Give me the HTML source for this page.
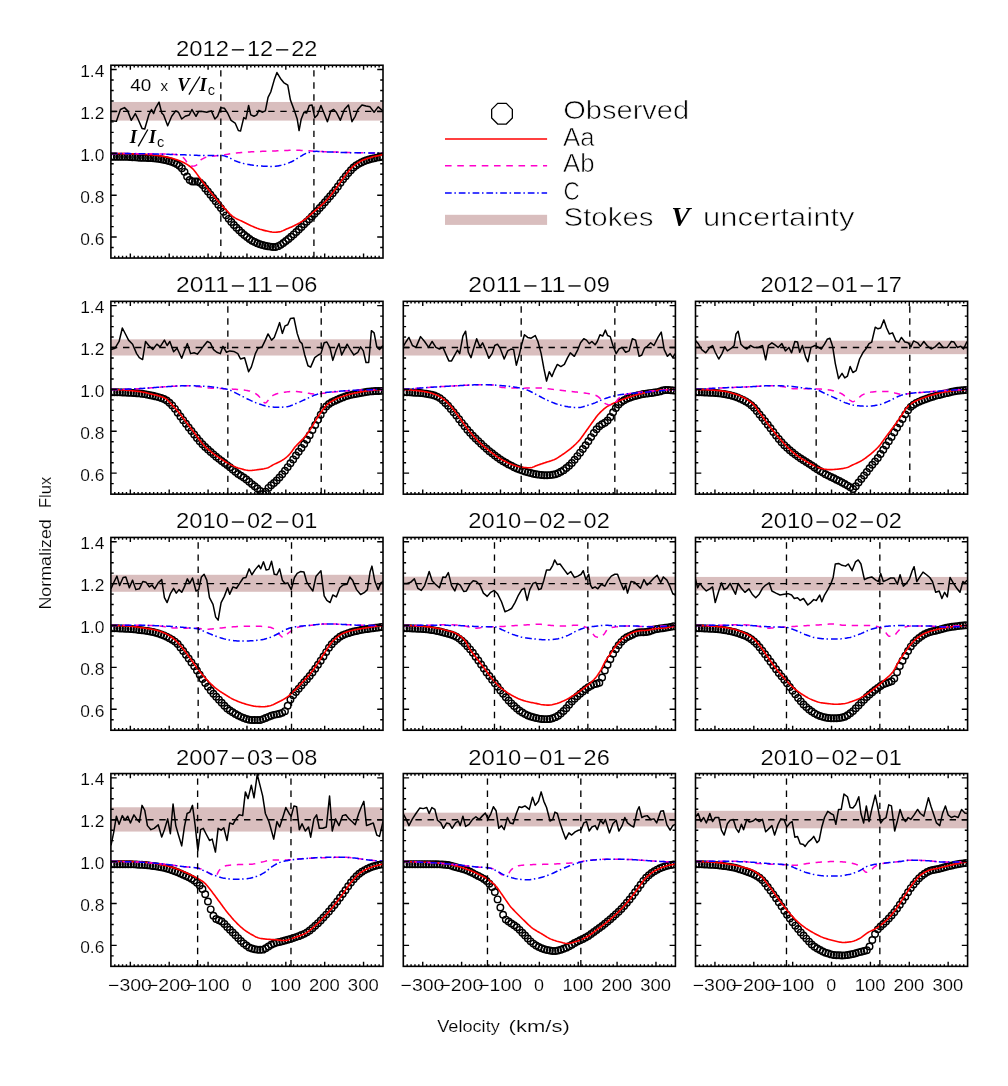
<!DOCTYPE html>
<html><head><meta charset="utf-8"><title>Line profiles</title>
<style>html,body{margin:0;padding:0;background:#fff}svg{display:block;will-change:transform}text{fill:#000}.t16{stroke:#fff;stroke-width:.16px}.t14{stroke:#fff;stroke-width:.08px}.t21{stroke:#fff;stroke-width:.2px}.t26{stroke:#fff;stroke-width:.65px}</style>
</head><body>
<svg width="1008" height="1086" viewBox="0 0 1008 1086">
<rect width="1008" height="1086" fill="#fff"/>
<clipPath id="c00"><rect x="110.9" y="65.25" width="272.1" height="192.8"/></clipPath>
<g clip-path="url(#c00)">
<rect x="110.9" y="101.97" width="272.1" height="18.62" fill="#d9bebe"/>
<g fill="none" stroke="#000" stroke-width="1.45">
<circle cx="111.7" cy="156.75" r="3.25"/>
<circle cx="114.3" cy="156.75" r="3.25"/>
<circle cx="116.9" cy="156.75" r="3.25"/>
<circle cx="119.5" cy="156.75" r="3.25"/>
<circle cx="122.1" cy="156.75" r="3.25"/>
<circle cx="124.7" cy="156.75" r="3.25"/>
<circle cx="127.3" cy="156.81" r="3.25"/>
<circle cx="129.9" cy="156.97" r="3.25"/>
<circle cx="132.5" cy="157.17" r="3.25"/>
<circle cx="135.1" cy="157.37" r="3.25"/>
<circle cx="137.7" cy="157.54" r="3.25"/>
<circle cx="140.3" cy="157.65" r="3.25"/>
<circle cx="142.9" cy="157.74" r="3.25"/>
<circle cx="145.5" cy="157.83" r="3.25"/>
<circle cx="148.1" cy="157.92" r="3.25"/>
<circle cx="150.7" cy="158.05" r="3.25"/>
<circle cx="153.3" cy="158.23" r="3.25"/>
<circle cx="155.9" cy="158.5" r="3.25"/>
<circle cx="158.5" cy="158.85" r="3.25"/>
<circle cx="161.1" cy="159.27" r="3.25"/>
<circle cx="163.7" cy="159.74" r="3.25"/>
<circle cx="166.3" cy="160.27" r="3.25"/>
<circle cx="168.9" cy="160.92" r="3.25"/>
<circle cx="171.5" cy="161.74" r="3.25"/>
<circle cx="174.1" cy="162.74" r="3.25"/>
<circle cx="176.7" cy="163.99" r="3.25"/>
<circle cx="179.3" cy="165.85" r="3.25"/>
<circle cx="181.9" cy="168.29" r="3.25"/>
<circle cx="184.5" cy="171.86" r="3.25"/>
<circle cx="187.1" cy="176.45" r="3.25"/>
<circle cx="189.7" cy="180" r="3.25"/>
<circle cx="192.3" cy="181.42" r="3.25"/>
<circle cx="194.9" cy="181.57" r="3.25"/>
<circle cx="197.5" cy="181.58" r="3.25"/>
<circle cx="200.1" cy="182.77" r="3.25"/>
<circle cx="202.7" cy="185.01" r="3.25"/>
<circle cx="205.3" cy="188.41" r="3.25"/>
<circle cx="207.9" cy="191.58" r="3.25"/>
<circle cx="210.5" cy="194.77" r="3.25"/>
<circle cx="213.1" cy="198.02" r="3.25"/>
<circle cx="215.7" cy="201.32" r="3.25"/>
<circle cx="218.3" cy="204.69" r="3.25"/>
<circle cx="220.9" cy="208.12" r="3.25"/>
<circle cx="223.5" cy="211.7" r="3.25"/>
<circle cx="226.1" cy="215.37" r="3.25"/>
<circle cx="228.7" cy="218.87" r="3.25"/>
<circle cx="231.3" cy="222.03" r="3.25"/>
<circle cx="233.9" cy="224.97" r="3.25"/>
<circle cx="236.5" cy="227.73" r="3.25"/>
<circle cx="239.1" cy="230.31" r="3.25"/>
<circle cx="241.7" cy="232.78" r="3.25"/>
<circle cx="244.3" cy="235.05" r="3.25"/>
<circle cx="246.9" cy="237.09" r="3.25"/>
<circle cx="249.5" cy="238.99" r="3.25"/>
<circle cx="252.1" cy="240.69" r="3.25"/>
<circle cx="254.7" cy="242.08" r="3.25"/>
<circle cx="257.3" cy="243.28" r="3.25"/>
<circle cx="259.9" cy="244.3" r="3.25"/>
<circle cx="262.5" cy="245.09" r="3.25"/>
<circle cx="265.1" cy="245.69" r="3.25"/>
<circle cx="267.7" cy="246.19" r="3.25"/>
<circle cx="270.3" cy="246.62" r="3.25"/>
<circle cx="272.9" cy="247.05" r="3.25"/>
<circle cx="275.5" cy="247" r="3.25"/>
<circle cx="278.1" cy="246.14" r="3.25"/>
<circle cx="280.7" cy="244.87" r="3.25"/>
<circle cx="283.3" cy="243.06" r="3.25"/>
<circle cx="285.9" cy="241.04" r="3.25"/>
<circle cx="288.5" cy="238.99" r="3.25"/>
<circle cx="291.1" cy="236.74" r="3.25"/>
<circle cx="293.7" cy="234.38" r="3.25"/>
<circle cx="296.3" cy="231.97" r="3.25"/>
<circle cx="298.9" cy="229.46" r="3.25"/>
<circle cx="301.5" cy="226.9" r="3.25"/>
<circle cx="304.1" cy="224.34" r="3.25"/>
<circle cx="306.7" cy="221.76" r="3.25"/>
<circle cx="309.3" cy="219.15" r="3.25"/>
<circle cx="311.9" cy="216.47" r="3.25"/>
<circle cx="314.5" cy="213.73" r="3.25"/>
<circle cx="317.1" cy="210.93" r="3.25"/>
<circle cx="319.7" cy="208.08" r="3.25"/>
<circle cx="322.3" cy="205.16" r="3.25"/>
<circle cx="324.9" cy="202.19" r="3.25"/>
<circle cx="327.5" cy="199.2" r="3.25"/>
<circle cx="330.1" cy="196.25" r="3.25"/>
<circle cx="332.7" cy="193.24" r="3.25"/>
<circle cx="335.3" cy="190.05" r="3.25"/>
<circle cx="337.9" cy="186.53" r="3.25"/>
<circle cx="340.5" cy="182.86" r="3.25"/>
<circle cx="343.1" cy="179.37" r="3.25"/>
<circle cx="345.7" cy="176.15" r="3.25"/>
<circle cx="348.3" cy="173.12" r="3.25"/>
<circle cx="350.9" cy="170.17" r="3.25"/>
<circle cx="353.5" cy="167.57" r="3.25"/>
<circle cx="356.1" cy="165.57" r="3.25"/>
<circle cx="358.7" cy="163.87" r="3.25"/>
<circle cx="361.3" cy="162.45" r="3.25"/>
<circle cx="363.9" cy="161.28" r="3.25"/>
<circle cx="366.5" cy="160.26" r="3.25"/>
<circle cx="369.1" cy="159.43" r="3.25"/>
<circle cx="371.7" cy="158.76" r="3.25"/>
<circle cx="374.3" cy="158.15" r="3.25"/>
<circle cx="376.9" cy="157.6" r="3.25"/>
<circle cx="379.5" cy="157.15" r="3.25"/>
<circle cx="382.1" cy="156.82" r="3.25"/>
</g>
<path d="M111 153.51 L112 153.51 L113 153.51 L114 153.52 L115 153.52 L116 153.53 L117 153.54 L118 153.56 L119 153.57 L120 153.58 L121 153.6 L122 153.62 L123 153.64 L124 153.66 L125 153.68 L126 153.71 L127 153.73 L128 153.75 L129 153.78 L130 153.81 L131 153.84 L132 153.86 L133 153.89 L134 153.92 L135 153.95 L136 153.99 L137 154.02 L138 154.05 L139 154.08 L140 154.12 L141 154.16 L142 154.21 L143 154.26 L144 154.32 L145 154.38 L146 154.44 L147 154.51 L148 154.58 L149 154.66 L150 154.74 L151 154.82 L152 154.9 L153 155 L154 155.1 L155 155.21 L156 155.34 L157 155.47 L158 155.61 L159 155.75 L160 155.9 L161 156.06 L162 156.23 L163 156.4 L164 156.57 L165 156.75 L166 156.94 L167 157.14 L168 157.36 L169 157.59 L170 157.83 L171 158.08 L172 158.35 L173 158.62 L174 158.91 L175 159.21 L176 159.52 L177 159.84 L178 160.19 L179 160.56 L180 160.95 L181 161.36 L182 161.8 L183 162.26 L184 162.75 L185 163.28 L186 163.83 L187 164.43 L188 165.07 L189 165.75 L190 166.49 L191 167.27 L192 168.12 L193 169.09 L194 170.21 L195 171.45 L196 172.78 L197 174.15 L198 175.55 L199 176.93 L200 178.27 L201 179.58 L202 180.92 L203 182.27 L204 183.63 L205 184.98 L206 186.31 L207 187.62 L208 188.9 L209 190.16 L210 191.41 L211 192.65 L212 193.88 L213 195.09 L214 196.29 L215 197.48 L216 198.65 L217 199.82 L218 200.98 L219 202.13 L220 203.27 L221 204.39 L222 205.5 L223 206.59 L224 207.65 L225 208.7 L226 209.76 L227 210.84 L228 211.91 L229 212.95 L230 213.96 L231 214.91 L232 215.78 L233 216.56 L234 217.24 L235 217.86 L236 218.42 L237 218.94 L238 219.43 L239 219.9 L240 220.36 L241 220.83 L242 221.3 L243 221.8 L244 222.3 L245 222.81 L246 223.31 L247 223.81 L248 224.29 L249 224.77 L250 225.24 L251 225.69 L252 226.12 L253 226.56 L254 226.99 L255 227.41 L256 227.82 L257 228.22 L258 228.59 L259 228.94 L260 229.27 L261 229.56 L262 229.85 L263 230.12 L264 230.37 L265 230.62 L266 230.85 L267 231.07 L268 231.27 L269 231.47 L270 231.67 L271 231.88 L272 232.07 L273 232.22 L274 232.3 L275 232.29 L276 232.23 L277 232.13 L278 232.01 L279 231.86 L280 231.7 L281 231.44 L282 231.07 L283 230.64 L284 230.17 L285 229.69 L286 229.23 L287 228.81 L288 228.4 L289 227.99 L290 227.58 L291 227.15 L292 226.72 L293 226.27 L294 225.8 L295 225.3 L296 224.79 L297 224.27 L298 223.72 L299 223.16 L300 222.58 L301 221.97 L302 221.35 L303 220.69 L304 220.01 L305 219.29 L306 218.53 L307 217.73 L308 216.9 L309 216.06 L310 215.19 L311 214.32 L312 213.44 L313 212.56 L314 211.69 L315 210.83 L316 209.97 L317 209.12 L318 208.26 L319 207.39 L320 206.52 L321 205.62 L322 204.71 L323 203.78 L324 202.81 L325 201.82 L326 200.78 L327 199.7 L328 198.57 L329 197.4 L330 196.19 L331 194.95 L332 193.68 L333 192.4 L334 191.11 L335 189.81 L336 188.47 L337 187.08 L338 185.66 L339 184.22 L340 182.78 L341 181.35 L342 179.95 L343 178.59 L344 177.28 L345 175.96 L346 174.63 L347 173.3 L348 172.01 L349 170.76 L350 169.57 L351 168.47 L352 167.47 L353 166.57 L354 165.72 L355 164.91 L356 164.14 L357 163.42 L358 162.74 L359 162.1 L360 161.52 L361 161 L362 160.52 L363 160.08 L364 159.67 L365 159.28 L366 158.92 L367 158.58 L368 158.26 L369 157.95 L370 157.65 L371 157.36 L372 157.09 L373 156.83 L374 156.59 L375 156.35 L376 156.12 L377 155.89 L378 155.67 L379 155.45 L380 155.22 L381 155.01 L382 154.79 L383 154.59" fill="none" stroke="#ff0000" stroke-width="1.6" stroke-linejoin="round"/>
<path d="M111 153.51 L112 153.51 L113 153.51 L114 153.51 L115 153.51 L116 153.51 L117 153.51 L118 153.52 L119 153.52 L120 153.52 L121 153.53 L122 153.53 L123 153.53 L124 153.54 L125 153.54 L126 153.55 L127 153.56 L128 153.56 L129 153.57 L130 153.57 L131 153.58 L132 153.59 L133 153.6 L134 153.61 L135 153.61 L136 153.62 L137 153.63 L138 153.64 L139 153.65 L140 153.66 L141 153.67 L142 153.69 L143 153.7 L144 153.71 L145 153.72 L146 153.73 L147 153.75 L148 153.76 L149 153.78 L150 153.79 L151 153.8 L152 153.82 L153 153.83 L154 153.85 L155 153.87 L156 153.88 L157 153.9 L158 153.92 L159 153.93 L160 153.95 L161 153.97 L162 153.99 L163 154.01 L164 154.03 L165 154.05 L166 154.07 L167 154.09 L168 154.12 L169 154.16 L170 154.2 L171 154.24 L172 154.29 L173 154.35 L174 154.42 L175 154.5 L176 154.59 L177 154.69 L178 154.8 L179 154.96 L180 155.33 L181 155.89 L182 156.59 L183 157.38 L184 158.22 L185 159.43 L186 160.96 L187 162.45 L188 163.58 L189 164.5 L190 165.35 L191 165.96 L192 166.19 L193 166.12 L194 165.95 L195 165.69 L196 165.38 L197 164.72 L198 163.56 L199 162.17 L200 160.8 L201 159.73 L202 159.09 L203 158.56 L204 158.07 L205 157.65 L206 157.29 L207 157 L208 156.77 L209 156.6 L210 156.46 L211 156.33 L212 156.22 L213 156.12 L214 156.03 L215 155.95 L216 155.87 L217 155.79 L218 155.7 L219 155.61 L220 155.5 L221 155.37 L222 155.23 L223 155.08 L224 154.91 L225 154.74 L226 154.56 L227 154.38 L228 154.2 L229 154.03 L230 153.86 L231 153.7 L232 153.56 L233 153.44 L234 153.32 L235 153.2 L236 153.08 L237 152.97 L238 152.86 L239 152.75 L240 152.65 L241 152.56 L242 152.47 L243 152.38 L244 152.3 L245 152.22 L246 152.15 L247 152.09 L248 152.03 L249 151.96 L250 151.91 L251 151.85 L252 151.8 L253 151.75 L254 151.7 L255 151.65 L256 151.61 L257 151.56 L258 151.52 L259 151.48 L260 151.43 L261 151.39 L262 151.35 L263 151.31 L264 151.28 L265 151.24 L266 151.2 L267 151.17 L268 151.14 L269 151.1 L270 151.07 L271 151.04 L272 151.01 L273 150.98 L274 150.95 L275 150.92 L276 150.88 L277 150.85 L278 150.82 L279 150.79 L280 150.75 L281 150.71 L282 150.66 L283 150.62 L284 150.58 L285 150.53 L286 150.49 L287 150.45 L288 150.41 L289 150.37 L290 150.34 L291 150.31 L292 150.29 L293 150.28 L294 150.27 L295 150.27 L296 150.28 L297 150.29 L298 150.31 L299 150.33 L300 150.36 L301 150.39 L302 150.42 L303 150.46 L304 150.49 L305 150.53 L306 150.57 L307 150.63 L308 150.7 L309 150.78 L310 150.87 L311 150.96 L312 151.05 L313 151.14 L314 151.22 L315 151.29 L316 151.35 L317 151.39 L318 151.43 L319 151.47 L320 151.51 L321 151.54 L322 151.58 L323 151.61 L324 151.64 L325 151.67 L326 151.7 L327 151.73 L328 151.75 L329 151.78 L330 151.81 L331 151.85 L332 151.88 L333 151.92 L334 151.95 L335 151.99 L336 152.03 L337 152.08 L338 152.12 L339 152.17 L340 152.21 L341 152.26 L342 152.3 L343 152.34 L344 152.39 L345 152.43 L346 152.47 L347 152.51 L348 152.55 L349 152.58 L350 152.61 L351 152.64 L352 152.66 L353 152.68 L354 152.7 L355 152.72 L356 152.73 L357 152.75 L358 152.76 L359 152.77 L360 152.79 L361 152.8 L362 152.81 L363 152.83 L364 152.84 L365 152.85 L366 152.86 L367 152.87 L368 152.88 L369 152.89 L370 152.9 L371 152.91 L372 152.92 L373 152.93 L374 152.94 L375 152.94 L376 152.95 L377 152.95 L378 152.96 L379 152.96 L380 152.96 L381 152.97 L382 152.97 L383 152.97" fill="none" stroke="#ff00cc" stroke-width="1.5" stroke-dasharray="6.4 5.7"/>
<path d="M111 153.51 L112 153.51 L113 153.51 L114 153.51 L115 153.51 L116 153.52 L117 153.52 L118 153.52 L119 153.53 L120 153.54 L121 153.54 L122 153.55 L123 153.56 L124 153.56 L125 153.57 L126 153.58 L127 153.59 L128 153.6 L129 153.61 L130 153.62 L131 153.64 L132 153.65 L133 153.66 L134 153.67 L135 153.69 L136 153.7 L137 153.72 L138 153.73 L139 153.75 L140 153.76 L141 153.78 L142 153.8 L143 153.81 L144 153.83 L145 153.85 L146 153.87 L147 153.89 L148 153.91 L149 153.92 L150 153.94 L151 153.96 L152 153.98 L153 154 L154 154.03 L155 154.05 L156 154.07 L157 154.09 L158 154.11 L159 154.13 L160 154.15 L161 154.18 L162 154.2 L163 154.22 L164 154.24 L165 154.27 L166 154.29 L167 154.31 L168 154.34 L169 154.36 L170 154.38 L171 154.41 L172 154.43 L173 154.46 L174 154.48 L175 154.5 L176 154.53 L177 154.55 L178 154.58 L179 154.6 L180 154.63 L181 154.67 L182 154.71 L183 154.75 L184 154.79 L185 154.84 L186 154.89 L187 154.94 L188 154.99 L189 155.04 L190 155.09 L191 155.14 L192 155.19 L193 155.23 L194 155.27 L195 155.31 L196 155.34 L197 155.36 L198 155.38 L199 155.39 L200 155.4 L201 155.4 L202 155.4 L203 155.4 L204 155.4 L205 155.4 L206 155.4 L207 155.4 L208 155.4 L209 155.4 L210 155.4 L211 155.4 L212 155.4 L213 155.4 L214 155.4 L215 155.4 L216 155.4 L217 155.4 L218 155.4 L219 155.4 L220 155.4 L221 155.4 L222 155.47 L223 155.63 L224 155.86 L225 156.13 L226 156.43 L227 156.74 L228 157.09 L229 157.55 L230 158.07 L231 158.64 L232 159.22 L233 159.79 L234 160.3 L235 160.74 L236 161.12 L237 161.49 L238 161.84 L239 162.18 L240 162.5 L241 162.81 L242 163.1 L243 163.37 L244 163.62 L245 163.84 L246 164.05 L247 164.24 L248 164.42 L249 164.6 L250 164.78 L251 164.94 L252 165.1 L253 165.25 L254 165.38 L255 165.51 L256 165.63 L257 165.73 L258 165.82 L259 165.89 L260 165.96 L261 166.02 L262 166.08 L263 166.14 L264 166.19 L265 166.24 L266 166.29 L267 166.33 L268 166.37 L269 166.4 L270 166.43 L271 166.45 L272 166.46 L273 166.46 L274 166.43 L275 166.36 L276 166.25 L277 166.1 L278 165.94 L279 165.76 L280 165.57 L281 165.38 L282 165.17 L283 164.92 L284 164.64 L285 164.33 L286 163.98 L287 163.62 L288 163.23 L289 162.82 L290 162.39 L291 161.96 L292 161.51 L293 161 L294 160.43 L295 159.82 L296 159.17 L297 158.52 L298 157.87 L299 157.25 L300 156.69 L301 156.12 L302 155.54 L303 154.95 L304 154.39 L305 153.86 L306 153.39 L307 153 L308 152.69 L309 152.45 L310 152.2 L311 151.98 L312 151.78 L313 151.6 L314 151.47 L315 151.38 L316 151.35 L317 151.36 L318 151.38 L319 151.42 L320 151.48 L321 151.54 L322 151.6 L323 151.67 L324 151.73 L325 151.8 L326 151.85 L327 151.89 L328 151.93 L329 151.97 L330 152.01 L331 152.05 L332 152.09 L333 152.12 L334 152.16 L335 152.19 L336 152.23 L337 152.27 L338 152.3 L339 152.33 L340 152.37 L341 152.4 L342 152.43 L343 152.46 L344 152.49 L345 152.51 L346 152.54 L347 152.56 L348 152.59 L349 152.61 L350 152.63 L351 152.65 L352 152.67 L353 152.69 L354 152.7 L355 152.71 L356 152.73 L357 152.74 L358 152.76 L359 152.77 L360 152.78 L361 152.8 L362 152.81 L363 152.82 L364 152.84 L365 152.85 L366 152.86 L367 152.87 L368 152.88 L369 152.89 L370 152.9 L371 152.91 L372 152.92 L373 152.93 L374 152.93 L375 152.94 L376 152.95 L377 152.95 L378 152.96 L379 152.96 L380 152.96 L381 152.97 L382 152.97 L383 152.97" fill="none" stroke="#0000ff" stroke-width="1.5" stroke-dasharray="6.7 2.6 1.5 3"/>
<path d="M111 120.86 L116.4 121.13 L120.44 109.52 L124.49 107.63 L127.73 110.87 L131.24 120.32 L135.29 113.57 L137.98 118.97 L142.03 128.41 L144.73 128.95 L148.78 114.92 L151.48 109.52 L153.63 113.57 L155.52 108.17 L159.03 102.24 L161.73 113.03 L163.62 114.92 L167.67 125.71 L171.71 116.27 L175.76 110.87 L178.46 112.22 L181.7 118.97 L185.21 116.27 L189.25 114.92 L191.95 109.52 L196 116.27 L198.7 111.41 L202.75 111.41 L206.79 112.22 L211.38 110.87 L214.89 118.97 L217.59 116.27 L220.83 107.63 L224.33 108.17 L227.57 113.03 L231.08 120.32 L235.13 123.02 L238.37 130.57 L240.52 131.11 L243.76 117.62 L245.92 118.97 L248.62 105.48 L250.78 114.92 L254.02 116.27 L256.71 114.92 L258.87 110.33 L262.11 112.22 L265.35 110.87 L268.05 97.38 L270.75 91.98 L274.25 79.84 L276.95 72.56 L280.46 78.49 L283.7 82.54 L287.75 85.24 L290.44 100.08 L294.49 110.87 L297.19 118.97 L299.08 130.57 L301.24 118.97 L303.94 112.22 L306.63 113.03 L309.33 105.48 L312.03 104.94 L314.73 117.62 L317.43 114.92 L320.94 105.48 L324.17 113.57 L327.41 121.67 L330.92 110.87 L333.62 109.52 L336.32 112.22 L340.37 120.32 L344.41 109.52 L348.46 104.94 L351.97 121.67 L355.21 116.27 L357.9 109.52 L361.95 104.94 L366 106.02 L370.05 106.83 L374.1 112.22 L378.14 106.83 L383 110.87" fill="none" stroke="#000" stroke-width="1.5" stroke-linejoin="round"/>
<path d="M110.9 111.43 H383" stroke="#000" stroke-width="1.35" stroke-dasharray="6.4 5.7" fill="none"/>
<path d="M220.83 258.05 V65.25" stroke="#000" stroke-width="1.35" stroke-dasharray="6.4 5.7" fill="none"/>
<path d="M313.92 258.05 V65.25" stroke="#000" stroke-width="1.35" stroke-dasharray="6.4 5.7" fill="none"/>
</g>
<path d="M114.79 258.05 v-2.2 M114.79 65.25 v2.2 M118.67 258.05 v-2.2 M118.67 65.25 v2.2 M122.56 258.05 v-2.2 M122.56 65.25 v2.2 M126.45 258.05 v-2.2 M126.45 65.25 v2.2 M130.34 258.05 v-4.6 M130.34 65.25 v4.6 M134.22 258.05 v-2.2 M134.22 65.25 v2.2 M138.11 258.05 v-2.2 M138.11 65.25 v2.2 M142 258.05 v-2.2 M142 65.25 v2.2 M145.88 258.05 v-2.2 M145.88 65.25 v2.2 M149.77 258.05 v-2.2 M149.77 65.25 v2.2 M153.66 258.05 v-2.2 M153.66 65.25 v2.2 M157.55 258.05 v-2.2 M157.55 65.25 v2.2 M161.43 258.05 v-2.2 M161.43 65.25 v2.2 M165.32 258.05 v-2.2 M165.32 65.25 v2.2 M169.21 258.05 v-4.6 M169.21 65.25 v4.6 M173.09 258.05 v-2.2 M173.09 65.25 v2.2 M176.98 258.05 v-2.2 M176.98 65.25 v2.2 M180.87 258.05 v-2.2 M180.87 65.25 v2.2 M184.76 258.05 v-2.2 M184.76 65.25 v2.2 M188.64 258.05 v-2.2 M188.64 65.25 v2.2 M192.53 258.05 v-2.2 M192.53 65.25 v2.2 M196.42 258.05 v-2.2 M196.42 65.25 v2.2 M200.3 258.05 v-2.2 M200.3 65.25 v2.2 M204.19 258.05 v-2.2 M204.19 65.25 v2.2 M208.08 258.05 v-4.6 M208.08 65.25 v4.6 M211.97 258.05 v-2.2 M211.97 65.25 v2.2 M215.85 258.05 v-2.2 M215.85 65.25 v2.2 M219.74 258.05 v-2.2 M219.74 65.25 v2.2 M223.63 258.05 v-2.2 M223.63 65.25 v2.2 M227.51 258.05 v-2.2 M227.51 65.25 v2.2 M231.4 258.05 v-2.2 M231.4 65.25 v2.2 M235.29 258.05 v-2.2 M235.29 65.25 v2.2 M239.18 258.05 v-2.2 M239.18 65.25 v2.2 M243.06 258.05 v-2.2 M243.06 65.25 v2.2 M246.95 258.05 v-4.6 M246.95 65.25 v4.6 M250.84 258.05 v-2.2 M250.84 65.25 v2.2 M254.72 258.05 v-2.2 M254.72 65.25 v2.2 M258.61 258.05 v-2.2 M258.61 65.25 v2.2 M262.5 258.05 v-2.2 M262.5 65.25 v2.2 M266.39 258.05 v-2.2 M266.39 65.25 v2.2 M270.27 258.05 v-2.2 M270.27 65.25 v2.2 M274.16 258.05 v-2.2 M274.16 65.25 v2.2 M278.05 258.05 v-2.2 M278.05 65.25 v2.2 M281.93 258.05 v-2.2 M281.93 65.25 v2.2 M285.82 258.05 v-4.6 M285.82 65.25 v4.6 M289.71 258.05 v-2.2 M289.71 65.25 v2.2 M293.6 258.05 v-2.2 M293.6 65.25 v2.2 M297.48 258.05 v-2.2 M297.48 65.25 v2.2 M301.37 258.05 v-2.2 M301.37 65.25 v2.2 M305.26 258.05 v-2.2 M305.26 65.25 v2.2 M309.14 258.05 v-2.2 M309.14 65.25 v2.2 M313.03 258.05 v-2.2 M313.03 65.25 v2.2 M316.92 258.05 v-2.2 M316.92 65.25 v2.2 M320.81 258.05 v-2.2 M320.81 65.25 v2.2 M324.69 258.05 v-4.6 M324.69 65.25 v4.6 M328.58 258.05 v-2.2 M328.58 65.25 v2.2 M332.47 258.05 v-2.2 M332.47 65.25 v2.2 M336.35 258.05 v-2.2 M336.35 65.25 v2.2 M340.24 258.05 v-2.2 M340.24 65.25 v2.2 M344.13 258.05 v-2.2 M344.13 65.25 v2.2 M348.02 258.05 v-2.2 M348.02 65.25 v2.2 M351.9 258.05 v-2.2 M351.9 65.25 v2.2 M355.79 258.05 v-2.2 M355.79 65.25 v2.2 M359.68 258.05 v-2.2 M359.68 65.25 v2.2 M363.56 258.05 v-4.6 M363.56 65.25 v4.6 M367.45 258.05 v-2.2 M367.45 65.25 v2.2 M371.34 258.05 v-2.2 M371.34 65.25 v2.2 M375.23 258.05 v-2.2 M375.23 65.25 v2.2 M379.11 258.05 v-2.2 M379.11 65.25 v2.2 M110.9 247.54 h2.8 M383 247.54 h-2.8 M110.9 237.07 h5.8 M383 237.07 h-5.8 M110.9 226.6 h2.8 M383 226.6 h-2.8 M110.9 216.13 h2.8 M383 216.13 h-2.8 M110.9 205.66 h2.8 M383 205.66 h-2.8 M110.9 195.19 h5.8 M383 195.19 h-5.8 M110.9 184.72 h2.8 M383 184.72 h-2.8 M110.9 174.25 h2.8 M383 174.25 h-2.8 M110.9 163.78 h2.8 M383 163.78 h-2.8 M110.9 153.31 h5.8 M383 153.31 h-5.8 M110.9 142.84 h2.8 M383 142.84 h-2.8 M110.9 132.37 h2.8 M383 132.37 h-2.8 M110.9 121.9 h2.8 M383 121.9 h-2.8 M110.9 111.43 h5.8 M383 111.43 h-5.8 M110.9 100.96 h2.8 M383 100.96 h-2.8 M110.9 90.49 h2.8 M383 90.49 h-2.8 M110.9 80.02 h2.8 M383 80.02 h-2.8 M110.9 69.55 h5.8 M383 69.55 h-5.8" stroke="#000" stroke-width="1.4" fill="none"/>
<rect x="110.9" y="65.25" width="272.1" height="192.8" fill="none" stroke="#000" stroke-width="1.6"/>
<text x="175.95" y="56.25" font-family="Liberation Sans, sans-serif" class="t21" font-size="21.2" textLength="53" lengthAdjust="spacingAndGlyphs">2012</text>
<path d="M231.85 49.85 h12.2" stroke="#000" stroke-width="1.35"/>
<text x="246.95" y="56.25" font-family="Liberation Sans, sans-serif" class="t21" font-size="21.2" textLength="26.2" lengthAdjust="spacingAndGlyphs">12</text>
<path d="M276.05 49.85 h12.2" stroke="#000" stroke-width="1.35"/>
<text x="291.15" y="56.25" font-family="Liberation Sans, sans-serif" class="t21" font-size="21.2" textLength="26.2" lengthAdjust="spacingAndGlyphs">22</text>
<text x="104.4" y="244.67" font-family="Liberation Sans, sans-serif" class="t16" font-size="16.8" text-anchor="end" textLength="24.2" lengthAdjust="spacingAndGlyphs">0.6</text>
<text x="104.4" y="202.79" font-family="Liberation Sans, sans-serif" class="t16" font-size="16.8" text-anchor="end" textLength="24.2" lengthAdjust="spacingAndGlyphs">0.8</text>
<text x="104.4" y="160.91" font-family="Liberation Sans, sans-serif" class="t16" font-size="16.8" text-anchor="end" textLength="24.2" lengthAdjust="spacingAndGlyphs">1.0</text>
<text x="104.4" y="119.03" font-family="Liberation Sans, sans-serif" class="t16" font-size="16.8" text-anchor="end" textLength="24.2" lengthAdjust="spacingAndGlyphs">1.2</text>
<text x="104.4" y="77.15" font-family="Liberation Sans, sans-serif" class="t16" font-size="16.8" text-anchor="end" textLength="24.2" lengthAdjust="spacingAndGlyphs">1.4</text>
<clipPath id="c10"><rect x="110.9" y="301.35" width="272.1" height="192.8"/></clipPath>
<g clip-path="url(#c10)">
<rect x="110.9" y="339.32" width="272.1" height="16.19" fill="#d9bebe"/>
<g fill="none" stroke="#000" stroke-width="1.45">
<circle cx="111.7" cy="392.21" r="3.25"/>
<circle cx="114.45" cy="392.23" r="3.25"/>
<circle cx="117.2" cy="392.28" r="3.25"/>
<circle cx="119.95" cy="392.35" r="3.25"/>
<circle cx="122.7" cy="392.44" r="3.25"/>
<circle cx="125.45" cy="392.56" r="3.25"/>
<circle cx="128.2" cy="392.69" r="3.25"/>
<circle cx="130.95" cy="392.84" r="3.25"/>
<circle cx="133.7" cy="393" r="3.25"/>
<circle cx="136.45" cy="393.18" r="3.25"/>
<circle cx="139.2" cy="393.38" r="3.25"/>
<circle cx="141.95" cy="393.7" r="3.25"/>
<circle cx="144.7" cy="394.12" r="3.25"/>
<circle cx="147.45" cy="394.63" r="3.25"/>
<circle cx="150.2" cy="395.18" r="3.25"/>
<circle cx="152.95" cy="395.76" r="3.25"/>
<circle cx="155.7" cy="396.38" r="3.25"/>
<circle cx="158.45" cy="397.11" r="3.25"/>
<circle cx="161.2" cy="397.98" r="3.25"/>
<circle cx="163.95" cy="399.04" r="3.25"/>
<circle cx="166.7" cy="400.49" r="3.25"/>
<circle cx="169.45" cy="402.71" r="3.25"/>
<circle cx="172.2" cy="405.39" r="3.25"/>
<circle cx="174.95" cy="408.87" r="3.25"/>
<circle cx="177.7" cy="412.76" r="3.25"/>
<circle cx="180.45" cy="416.45" r="3.25"/>
<circle cx="183.2" cy="420.13" r="3.25"/>
<circle cx="185.95" cy="423.78" r="3.25"/>
<circle cx="188.7" cy="427.43" r="3.25"/>
<circle cx="191.45" cy="431.05" r="3.25"/>
<circle cx="194.2" cy="434.55" r="3.25"/>
<circle cx="196.95" cy="437.93" r="3.25"/>
<circle cx="199.7" cy="441.2" r="3.25"/>
<circle cx="202.45" cy="444.25" r="3.25"/>
<circle cx="205.2" cy="447" r="3.25"/>
<circle cx="207.95" cy="449.54" r="3.25"/>
<circle cx="210.7" cy="451.99" r="3.25"/>
<circle cx="213.45" cy="454.36" r="3.25"/>
<circle cx="216.2" cy="456.65" r="3.25"/>
<circle cx="218.95" cy="458.87" r="3.25"/>
<circle cx="221.7" cy="460.98" r="3.25"/>
<circle cx="224.45" cy="463.03" r="3.25"/>
<circle cx="227.2" cy="465.11" r="3.25"/>
<circle cx="229.95" cy="467.3" r="3.25"/>
<circle cx="232.7" cy="469.61" r="3.25"/>
<circle cx="235.45" cy="471.87" r="3.25"/>
<circle cx="238.2" cy="473.97" r="3.25"/>
<circle cx="240.95" cy="475.8" r="3.25"/>
<circle cx="243.7" cy="477.55" r="3.25"/>
<circle cx="246.45" cy="479.5" r="3.25"/>
<circle cx="249.2" cy="481.8" r="3.25"/>
<circle cx="251.95" cy="484.1" r="3.25"/>
<circle cx="254.7" cy="486.27" r="3.25"/>
<circle cx="257.45" cy="488.49" r="3.25"/>
<circle cx="260.2" cy="490.98" r="3.25"/>
<circle cx="262.95" cy="493.9" r="3.25"/>
<circle cx="265.7" cy="491.8" r="3.25"/>
<circle cx="268.45" cy="487.88" r="3.25"/>
<circle cx="271.2" cy="485.27" r="3.25"/>
<circle cx="273.95" cy="482.92" r="3.25"/>
<circle cx="276.7" cy="480.43" r="3.25"/>
<circle cx="279.45" cy="477.5" r="3.25"/>
<circle cx="282.2" cy="474.21" r="3.25"/>
<circle cx="284.95" cy="470.71" r="3.25"/>
<circle cx="287.7" cy="467.12" r="3.25"/>
<circle cx="290.45" cy="463.31" r="3.25"/>
<circle cx="293.2" cy="459.39" r="3.25"/>
<circle cx="295.95" cy="455.53" r="3.25"/>
<circle cx="298.7" cy="451.77" r="3.25"/>
<circle cx="301.45" cy="447.98" r="3.25"/>
<circle cx="304.2" cy="444.03" r="3.25"/>
<circle cx="306.95" cy="439.83" r="3.25"/>
<circle cx="309.7" cy="435.28" r="3.25"/>
<circle cx="312.45" cy="430.12" r="3.25"/>
<circle cx="315.2" cy="425.04" r="3.25"/>
<circle cx="317.95" cy="419.85" r="3.25"/>
<circle cx="320.7" cy="414.65" r="3.25"/>
<circle cx="323.45" cy="409.94" r="3.25"/>
<circle cx="326.2" cy="406.55" r="3.25"/>
<circle cx="328.95" cy="403.99" r="3.25"/>
<circle cx="331.7" cy="402.24" r="3.25"/>
<circle cx="334.45" cy="400.88" r="3.25"/>
<circle cx="337.2" cy="399.69" r="3.25"/>
<circle cx="339.95" cy="398.51" r="3.25"/>
<circle cx="342.7" cy="397.38" r="3.25"/>
<circle cx="345.45" cy="396.36" r="3.25"/>
<circle cx="348.2" cy="395.51" r="3.25"/>
<circle cx="350.95" cy="394.85" r="3.25"/>
<circle cx="353.7" cy="394.29" r="3.25"/>
<circle cx="356.45" cy="393.79" r="3.25"/>
<circle cx="359.2" cy="393.3" r="3.25"/>
<circle cx="361.95" cy="392.74" r="3.25"/>
<circle cx="364.7" cy="392.17" r="3.25"/>
<circle cx="367.45" cy="391.69" r="3.25"/>
<circle cx="370.2" cy="391.39" r="3.25"/>
<circle cx="372.95" cy="391.21" r="3.25"/>
<circle cx="375.7" cy="391.06" r="3.25"/>
<circle cx="378.45" cy="390.94" r="3.25"/>
<circle cx="381.2" cy="390.87" r="3.25"/>
</g>
<path d="M111 389.51 L112 389.51 L113 389.52 L114 389.54 L115 389.56 L116 389.6 L117 389.63 L118 389.68 L119 389.72 L120 389.78 L121 389.84 L122 389.9 L123 389.97 L124 390.05 L125 390.12 L126 390.2 L127 390.29 L128 390.38 L129 390.47 L130 390.56 L131 390.66 L132 390.76 L133 390.86 L134 390.97 L135 391.07 L136 391.18 L137 391.29 L138 391.4 L139 391.52 L140 391.66 L141 391.81 L142 391.99 L143 392.17 L144 392.37 L145 392.58 L146 392.8 L147 393.03 L148 393.26 L149 393.5 L150 393.74 L151 393.98 L152 394.22 L153 394.45 L154 394.68 L155 394.92 L156 395.15 L157 395.4 L158 395.66 L159 395.93 L160 396.23 L161 396.55 L162 396.9 L163 397.28 L164 397.7 L165 398.16 L166 398.75 L167 399.53 L168 400.46 L169 401.49 L170 402.59 L171 403.72 L172 404.84 L173 405.9 L174 406.93 L175 407.98 L176 409.06 L177 410.2 L178 411.4 L179 412.65 L180 413.94 L181 415.27 L182 416.61 L183 417.96 L184 419.3 L185 420.64 L186 421.95 L187 423.25 L188 424.56 L189 425.86 L190 427.16 L191 428.47 L192 429.77 L193 431.07 L194 432.37 L195 433.68 L196 435.02 L197 436.39 L198 437.77 L199 439.14 L200 440.49 L201 441.8 L202 443.04 L203 444.21 L204 445.3 L205 446.33 L206 447.31 L207 448.26 L208 449.18 L209 450.06 L210 450.92 L211 451.75 L212 452.56 L213 453.34 L214 454.1 L215 454.84 L216 455.55 L217 456.24 L218 456.92 L219 457.58 L220 458.24 L221 458.89 L222 459.54 L223 460.19 L224 460.84 L225 461.48 L226 462.1 L227 462.71 L228 463.3 L229 463.86 L230 464.39 L231 464.89 L232 465.38 L233 465.87 L234 466.34 L235 466.78 L236 467.21 L237 467.59 L238 467.95 L239 468.25 L240 468.53 L241 468.81 L242 469.09 L243 469.36 L244 469.62 L245 469.85 L246 470.05 L247 470.22 L248 470.35 L249 470.43 L250 470.46 L251 470.44 L252 470.38 L253 470.29 L254 470.18 L255 470.06 L256 469.92 L257 469.79 L258 469.66 L259 469.53 L260 469.4 L261 469.27 L262 469.12 L263 468.96 L264 468.78 L265 468.57 L266 468.34 L267 468.05 L268 467.66 L269 467.18 L270 466.65 L271 466.08 L272 465.49 L273 464.92 L274 464.38 L275 463.89 L276 463.42 L277 462.95 L278 462.49 L279 462.02 L280 461.52 L281 460.99 L282 460.42 L283 459.79 L284 459.12 L285 458.39 L286 457.6 L287 456.76 L288 455.86 L289 454.9 L290 453.82 L291 452.55 L292 451.17 L293 449.75 L294 448.36 L295 447.07 L296 445.93 L297 444.86 L298 443.84 L299 442.87 L300 441.9 L301 440.93 L302 439.93 L303 438.89 L304 437.78 L305 436.6 L306 435.36 L307 434.08 L308 432.74 L309 431.35 L310 429.92 L311 428.42 L312 426.79 L313 425.06 L314 423.28 L315 421.53 L316 419.86 L317 418.27 L318 416.71 L319 415.19 L320 413.72 L321 412.29 L322 410.91 L323 409.53 L324 408.17 L325 406.89 L326 405.74 L327 404.78 L328 403.93 L329 403.14 L330 402.41 L331 401.73 L332 401.1 L333 400.52 L334 399.98 L335 399.48 L336 399 L337 398.56 L338 398.13 L339 397.73 L340 397.35 L341 396.99 L342 396.64 L343 396.31 L344 395.99 L345 395.68 L346 395.37 L347 395.08 L348 394.8 L349 394.52 L350 394.25 L351 394 L352 393.75 L353 393.51 L354 393.28 L355 393.06 L356 392.86 L357 392.66 L358 392.47 L359 392.28 L360 392.09 L361 391.91 L362 391.74 L363 391.57 L364 391.41 L365 391.25 L366 391.1 L367 390.96 L368 390.83 L369 390.71 L370 390.59 L371 390.48 L372 390.38 L373 390.28 L374 390.18 L375 390.08 L376 389.99 L377 389.9 L378 389.82 L379 389.75 L380 389.68 L381 389.61 L382 389.56 L383 389.51" fill="none" stroke="#ff0000" stroke-width="1.6" stroke-linejoin="round"/>
<path d="M111 389.51 L112 389.5 L113 389.48 L114 389.47 L115 389.45 L116 389.43 L117 389.41 L118 389.39 L119 389.37 L120 389.34 L121 389.32 L122 389.29 L123 389.26 L124 389.23 L125 389.19 L126 389.16 L127 389.13 L128 389.09 L129 389.06 L130 389.02 L131 388.98 L132 388.94 L133 388.9 L134 388.86 L135 388.82 L136 388.78 L137 388.74 L138 388.7 L139 388.65 L140 388.6 L141 388.55 L142 388.49 L143 388.43 L144 388.37 L145 388.3 L146 388.23 L147 388.16 L148 388.08 L149 388 L150 387.93 L151 387.85 L152 387.77 L153 387.69 L154 387.6 L155 387.52 L156 387.44 L157 387.37 L158 387.29 L159 387.21 L160 387.14 L161 387.07 L162 387 L163 386.93 L164 386.87 L165 386.81 L166 386.75 L167 386.69 L168 386.62 L169 386.56 L170 386.49 L171 386.42 L172 386.36 L173 386.29 L174 386.22 L175 386.16 L176 386.1 L177 386.04 L178 385.99 L179 385.93 L180 385.89 L181 385.85 L182 385.81 L183 385.78 L184 385.76 L185 385.74 L186 385.73 L187 385.73 L188 385.75 L189 385.79 L190 385.84 L191 385.91 L192 385.99 L193 386.08 L194 386.17 L195 386.27 L196 386.38 L197 386.49 L198 386.6 L199 386.7 L200 386.8 L201 386.91 L202 387.04 L203 387.17 L204 387.32 L205 387.47 L206 387.61 L207 387.76 L208 387.89 L209 388 L210 388.1 L211 388.17 L212 388.23 L213 388.28 L214 388.32 L215 388.36 L216 388.4 L217 388.43 L218 388.47 L219 388.5 L220 388.53 L221 388.56 L222 388.6 L223 388.64 L224 388.68 L225 388.73 L226 388.78 L227 388.83 L228 388.88 L229 388.93 L230 388.98 L231 389.04 L232 389.1 L233 389.16 L234 389.22 L235 389.29 L236 389.36 L237 389.44 L238 389.52 L239 389.61 L240 389.7 L241 389.79 L242 389.89 L243 390 L244 390.11 L245 390.24 L246 390.38 L247 390.53 L248 390.7 L249 390.89 L250 391.09 L251 391.32 L252 391.6 L253 392 L254 392.52 L255 393.13 L256 393.83 L257 394.59 L258 395.39 L259 396.4 L260 397.68 L261 399.02 L262 400.19 L263 401.26 L264 402.31 L265 402.95 L266 402.78 L267 401.81 L268 400.51 L269 399.35 L270 398.24 L271 397.1 L272 396.09 L273 395.39 L274 394.9 L275 394.45 L276 394.06 L277 393.71 L278 393.4 L279 393.14 L280 392.93 L281 392.75 L282 392.59 L283 392.43 L284 392.28 L285 392.14 L286 392.01 L287 391.88 L288 391.77 L289 391.67 L290 391.59 L291 391.51 L292 391.46 L293 391.42 L294 391.4 L295 391.4 L296 391.45 L297 391.53 L298 391.64 L299 391.77 L300 391.92 L301 392.08 L302 392.25 L303 392.41 L304 392.57 L305 392.71 L306 392.84 L307 392.99 L308 393.15 L309 393.32 L310 393.48 L311 393.64 L312 393.78 L313 393.91 L314 394 L315 394.07 L316 394.1 L317 394.08 L318 394.01 L319 393.92 L320 393.79 L321 393.65 L322 393.49 L323 393.32 L324 393.16 L325 393 L326 392.85 L327 392.73 L328 392.62 L329 392.51 L330 392.4 L331 392.29 L332 392.18 L333 392.08 L334 391.97 L335 391.87 L336 391.77 L337 391.67 L338 391.57 L339 391.48 L340 391.39 L341 391.3 L342 391.21 L343 391.13 L344 391.05 L345 390.97 L346 390.89 L347 390.81 L348 390.73 L349 390.66 L350 390.58 L351 390.51 L352 390.44 L353 390.37 L354 390.31 L355 390.25 L356 390.19 L357 390.14 L358 390.1 L359 390.06 L360 390.02 L361 389.99 L362 389.95 L363 389.92 L364 389.89 L365 389.85 L366 389.82 L367 389.79 L368 389.76 L369 389.73 L370 389.7 L371 389.68 L372 389.65 L373 389.63 L374 389.61 L375 389.59 L376 389.57 L377 389.55 L378 389.54 L379 389.53 L380 389.52 L381 389.51 L382 389.51 L383 389.51" fill="none" stroke="#ff00cc" stroke-width="1.5" stroke-dasharray="6.4 5.7"/>
<path d="M111 389.51 L112 389.5 L113 389.48 L114 389.47 L115 389.45 L116 389.43 L117 389.41 L118 389.39 L119 389.37 L120 389.34 L121 389.32 L122 389.29 L123 389.26 L124 389.23 L125 389.19 L126 389.16 L127 389.13 L128 389.09 L129 389.06 L130 389.02 L131 388.98 L132 388.94 L133 388.9 L134 388.86 L135 388.82 L136 388.78 L137 388.74 L138 388.7 L139 388.65 L140 388.6 L141 388.55 L142 388.49 L143 388.43 L144 388.37 L145 388.3 L146 388.23 L147 388.16 L148 388.08 L149 388 L150 387.93 L151 387.85 L152 387.77 L153 387.69 L154 387.6 L155 387.52 L156 387.44 L157 387.37 L158 387.29 L159 387.21 L160 387.14 L161 387.07 L162 387 L163 386.93 L164 386.87 L165 386.81 L166 386.75 L167 386.69 L168 386.62 L169 386.56 L170 386.49 L171 386.42 L172 386.36 L173 386.29 L174 386.22 L175 386.16 L176 386.1 L177 386.04 L178 385.99 L179 385.93 L180 385.89 L181 385.85 L182 385.81 L183 385.78 L184 385.76 L185 385.74 L186 385.73 L187 385.73 L188 385.73 L189 385.74 L190 385.75 L191 385.77 L192 385.79 L193 385.81 L194 385.83 L195 385.86 L196 385.89 L197 385.92 L198 385.95 L199 385.99 L200 386.03 L201 386.07 L202 386.11 L203 386.16 L204 386.2 L205 386.25 L206 386.3 L207 386.36 L208 386.44 L209 386.54 L210 386.65 L211 386.76 L212 386.89 L213 387.02 L214 387.16 L215 387.31 L216 387.45 L217 387.6 L218 387.75 L219 387.9 L220 388.04 L221 388.19 L222 388.35 L223 388.51 L224 388.68 L225 388.87 L226 389.07 L227 389.3 L228 389.55 L229 389.86 L230 390.23 L231 390.65 L232 391.11 L233 391.61 L234 392.13 L235 392.65 L236 393.18 L237 393.69 L238 394.18 L239 394.67 L240 395.17 L241 395.68 L242 396.19 L243 396.7 L244 397.22 L245 397.73 L246 398.23 L247 398.73 L248 399.2 L249 399.67 L250 400.13 L251 400.6 L252 401.06 L253 401.52 L254 401.97 L255 402.41 L256 402.83 L257 403.23 L258 403.6 L259 403.95 L260 404.26 L261 404.58 L262 404.89 L263 405.2 L264 405.49 L265 405.77 L266 406.02 L267 406.25 L268 406.46 L269 406.62 L270 406.76 L271 406.86 L272 406.96 L273 407.05 L274 407.13 L275 407.2 L276 407.26 L277 407.3 L278 407.32 L279 407.31 L280 407.29 L281 407.24 L282 407.18 L283 407.11 L284 407.02 L285 406.92 L286 406.82 L287 406.7 L288 406.51 L289 406.25 L290 405.94 L291 405.58 L292 405.19 L293 404.78 L294 404.35 L295 403.91 L296 403.49 L297 403.08 L298 402.67 L299 402.25 L300 401.82 L301 401.37 L302 400.91 L303 400.44 L304 399.97 L305 399.51 L306 399.04 L307 398.58 L308 398.14 L309 397.68 L310 397.21 L311 396.74 L312 396.26 L313 395.81 L314 395.38 L315 395 L316 394.66 L317 394.36 L318 394.08 L319 393.81 L320 393.56 L321 393.33 L322 393.12 L323 392.94 L324 392.77 L325 392.63 L326 392.49 L327 392.36 L328 392.24 L329 392.13 L330 392.02 L331 391.91 L332 391.81 L333 391.72 L334 391.63 L335 391.54 L336 391.46 L337 391.38 L338 391.3 L339 391.23 L340 391.15 L341 391.08 L342 391.01 L343 390.94 L344 390.87 L345 390.8 L346 390.73 L347 390.67 L348 390.6 L349 390.54 L350 390.48 L351 390.42 L352 390.37 L353 390.32 L354 390.26 L355 390.22 L356 390.17 L357 390.13 L358 390.09 L359 390.06 L360 390.02 L361 389.99 L362 389.96 L363 389.93 L364 389.89 L365 389.86 L366 389.83 L367 389.8 L368 389.77 L369 389.75 L370 389.72 L371 389.69 L372 389.67 L373 389.65 L374 389.62 L375 389.6 L376 389.59 L377 389.57 L378 389.55 L379 389.54 L380 389.53 L381 389.52 L382 389.51 L383 389.51" fill="none" stroke="#0000ff" stroke-width="1.5" stroke-dasharray="6.7 2.6 1.5 3"/>
<path d="M111 349.57 L115.05 348.22 L119.1 341.48 L122.33 327.98 L125.84 334.73 L128.54 340.13 L132.59 344.17 L136.63 353.62 L139.33 357.67 L142.57 359.56 L145.54 341.48 L148.78 345.52 L152.83 349.57 L156.87 344.17 L160.11 346.87 L164.43 340.13 L167.13 345.52 L169.83 341.48 L173.6 351.73 L177.11 348.22 L181.7 358.21 L184.4 350.92 L187.37 343.63 L190.6 353.62 L194.11 352.81 L197.35 354.16 L200.59 350.11 L204.1 345.52 L207.33 341.48 L210.3 342.83 L213.54 349.57 L216.78 352.27 L220.29 353.62 L222.98 346.33 L226.49 352.27 L229.73 350.92 L233.78 351.46 L237.83 353.62 L240.52 359.02 L244.57 357.67 L248.62 371.7 L251.32 367.11 L255.37 353.62 L258.06 348.22 L262.11 346.87 L265.35 340.13 L268.05 333.92 L271.56 340.13 L274.25 337.43 L277.76 327.98 L279.65 322.59 L282.35 333.38 L285.05 325.83 L287.75 324.75 L290.44 318.54 L293.95 318 L297.19 333.38 L299.89 341.48 L302.05 343.63 L304.75 354.97 L307.98 365.76 L310.68 367.11 L314.73 357.67 L318.24 354.97 L320.94 353.62 L324.17 342.83 L326.87 342.02 L330.11 348.22 L332.81 360.37 L336.32 349.57 L339.02 343.63 L341.71 354.97 L344.41 349.57 L347.11 344.17 L350.35 349.57 L353.86 354.97 L357.9 352.27 L360.6 346.87 L363.3 350.92 L366 362.52 L368.7 362.52 L371.4 330.68 L374.1 332.84 L376.79 346.87 L379.49 349.57 L383 345.52" fill="none" stroke="#000" stroke-width="1.5" stroke-linejoin="round"/>
<path d="M110.9 347.53 H383" stroke="#000" stroke-width="1.35" stroke-dasharray="6.4 5.7" fill="none"/>
<path d="M227.84 494.15 V301.35" stroke="#000" stroke-width="1.35" stroke-dasharray="6.4 5.7" fill="none"/>
<path d="M321.21 494.15 V301.35" stroke="#000" stroke-width="1.35" stroke-dasharray="6.4 5.7" fill="none"/>
</g>
<path d="M114.79 494.15 v-2.2 M114.79 301.35 v2.2 M118.67 494.15 v-2.2 M118.67 301.35 v2.2 M122.56 494.15 v-2.2 M122.56 301.35 v2.2 M126.45 494.15 v-2.2 M126.45 301.35 v2.2 M130.34 494.15 v-4.6 M130.34 301.35 v4.6 M134.22 494.15 v-2.2 M134.22 301.35 v2.2 M138.11 494.15 v-2.2 M138.11 301.35 v2.2 M142 494.15 v-2.2 M142 301.35 v2.2 M145.88 494.15 v-2.2 M145.88 301.35 v2.2 M149.77 494.15 v-2.2 M149.77 301.35 v2.2 M153.66 494.15 v-2.2 M153.66 301.35 v2.2 M157.55 494.15 v-2.2 M157.55 301.35 v2.2 M161.43 494.15 v-2.2 M161.43 301.35 v2.2 M165.32 494.15 v-2.2 M165.32 301.35 v2.2 M169.21 494.15 v-4.6 M169.21 301.35 v4.6 M173.09 494.15 v-2.2 M173.09 301.35 v2.2 M176.98 494.15 v-2.2 M176.98 301.35 v2.2 M180.87 494.15 v-2.2 M180.87 301.35 v2.2 M184.76 494.15 v-2.2 M184.76 301.35 v2.2 M188.64 494.15 v-2.2 M188.64 301.35 v2.2 M192.53 494.15 v-2.2 M192.53 301.35 v2.2 M196.42 494.15 v-2.2 M196.42 301.35 v2.2 M200.3 494.15 v-2.2 M200.3 301.35 v2.2 M204.19 494.15 v-2.2 M204.19 301.35 v2.2 M208.08 494.15 v-4.6 M208.08 301.35 v4.6 M211.97 494.15 v-2.2 M211.97 301.35 v2.2 M215.85 494.15 v-2.2 M215.85 301.35 v2.2 M219.74 494.15 v-2.2 M219.74 301.35 v2.2 M223.63 494.15 v-2.2 M223.63 301.35 v2.2 M227.51 494.15 v-2.2 M227.51 301.35 v2.2 M231.4 494.15 v-2.2 M231.4 301.35 v2.2 M235.29 494.15 v-2.2 M235.29 301.35 v2.2 M239.18 494.15 v-2.2 M239.18 301.35 v2.2 M243.06 494.15 v-2.2 M243.06 301.35 v2.2 M246.95 494.15 v-4.6 M246.95 301.35 v4.6 M250.84 494.15 v-2.2 M250.84 301.35 v2.2 M254.72 494.15 v-2.2 M254.72 301.35 v2.2 M258.61 494.15 v-2.2 M258.61 301.35 v2.2 M262.5 494.15 v-2.2 M262.5 301.35 v2.2 M266.39 494.15 v-2.2 M266.39 301.35 v2.2 M270.27 494.15 v-2.2 M270.27 301.35 v2.2 M274.16 494.15 v-2.2 M274.16 301.35 v2.2 M278.05 494.15 v-2.2 M278.05 301.35 v2.2 M281.93 494.15 v-2.2 M281.93 301.35 v2.2 M285.82 494.15 v-4.6 M285.82 301.35 v4.6 M289.71 494.15 v-2.2 M289.71 301.35 v2.2 M293.6 494.15 v-2.2 M293.6 301.35 v2.2 M297.48 494.15 v-2.2 M297.48 301.35 v2.2 M301.37 494.15 v-2.2 M301.37 301.35 v2.2 M305.26 494.15 v-2.2 M305.26 301.35 v2.2 M309.14 494.15 v-2.2 M309.14 301.35 v2.2 M313.03 494.15 v-2.2 M313.03 301.35 v2.2 M316.92 494.15 v-2.2 M316.92 301.35 v2.2 M320.81 494.15 v-2.2 M320.81 301.35 v2.2 M324.69 494.15 v-4.6 M324.69 301.35 v4.6 M328.58 494.15 v-2.2 M328.58 301.35 v2.2 M332.47 494.15 v-2.2 M332.47 301.35 v2.2 M336.35 494.15 v-2.2 M336.35 301.35 v2.2 M340.24 494.15 v-2.2 M340.24 301.35 v2.2 M344.13 494.15 v-2.2 M344.13 301.35 v2.2 M348.02 494.15 v-2.2 M348.02 301.35 v2.2 M351.9 494.15 v-2.2 M351.9 301.35 v2.2 M355.79 494.15 v-2.2 M355.79 301.35 v2.2 M359.68 494.15 v-2.2 M359.68 301.35 v2.2 M363.56 494.15 v-4.6 M363.56 301.35 v4.6 M367.45 494.15 v-2.2 M367.45 301.35 v2.2 M371.34 494.15 v-2.2 M371.34 301.35 v2.2 M375.23 494.15 v-2.2 M375.23 301.35 v2.2 M379.11 494.15 v-2.2 M379.11 301.35 v2.2 M110.9 483.64 h2.8 M383 483.64 h-2.8 M110.9 473.17 h5.8 M383 473.17 h-5.8 M110.9 462.7 h2.8 M383 462.7 h-2.8 M110.9 452.23 h2.8 M383 452.23 h-2.8 M110.9 441.76 h2.8 M383 441.76 h-2.8 M110.9 431.29 h5.8 M383 431.29 h-5.8 M110.9 420.82 h2.8 M383 420.82 h-2.8 M110.9 410.35 h2.8 M383 410.35 h-2.8 M110.9 399.88 h2.8 M383 399.88 h-2.8 M110.9 389.41 h5.8 M383 389.41 h-5.8 M110.9 378.94 h2.8 M383 378.94 h-2.8 M110.9 368.47 h2.8 M383 368.47 h-2.8 M110.9 358 h2.8 M383 358 h-2.8 M110.9 347.53 h5.8 M383 347.53 h-5.8 M110.9 337.06 h2.8 M383 337.06 h-2.8 M110.9 326.59 h2.8 M383 326.59 h-2.8 M110.9 316.12 h2.8 M383 316.12 h-2.8 M110.9 305.65 h5.8 M383 305.65 h-5.8" stroke="#000" stroke-width="1.4" fill="none"/>
<rect x="110.9" y="301.35" width="272.1" height="192.8" fill="none" stroke="#000" stroke-width="1.6"/>
<text x="175.95" y="292.35" font-family="Liberation Sans, sans-serif" class="t21" font-size="21.2" textLength="53" lengthAdjust="spacingAndGlyphs">2011</text>
<path d="M231.85 285.95 h12.2" stroke="#000" stroke-width="1.35"/>
<text x="246.95" y="292.35" font-family="Liberation Sans, sans-serif" class="t21" font-size="21.2" textLength="26.2" lengthAdjust="spacingAndGlyphs">11</text>
<path d="M276.05 285.95 h12.2" stroke="#000" stroke-width="1.35"/>
<text x="291.15" y="292.35" font-family="Liberation Sans, sans-serif" class="t21" font-size="21.2" textLength="26.2" lengthAdjust="spacingAndGlyphs">06</text>
<text x="104.4" y="480.77" font-family="Liberation Sans, sans-serif" class="t16" font-size="16.8" text-anchor="end" textLength="24.2" lengthAdjust="spacingAndGlyphs">0.6</text>
<text x="104.4" y="438.89" font-family="Liberation Sans, sans-serif" class="t16" font-size="16.8" text-anchor="end" textLength="24.2" lengthAdjust="spacingAndGlyphs">0.8</text>
<text x="104.4" y="397.01" font-family="Liberation Sans, sans-serif" class="t16" font-size="16.8" text-anchor="end" textLength="24.2" lengthAdjust="spacingAndGlyphs">1.0</text>
<text x="104.4" y="355.13" font-family="Liberation Sans, sans-serif" class="t16" font-size="16.8" text-anchor="end" textLength="24.2" lengthAdjust="spacingAndGlyphs">1.2</text>
<text x="104.4" y="313.25" font-family="Liberation Sans, sans-serif" class="t16" font-size="16.8" text-anchor="end" textLength="24.2" lengthAdjust="spacingAndGlyphs">1.4</text>
<clipPath id="c11"><rect x="403.3" y="301.35" width="272.1" height="192.8"/></clipPath>
<g clip-path="url(#c11)">
<rect x="403.3" y="339.32" width="272.1" height="16.19" fill="#d9bebe"/>
<g fill="none" stroke="#000" stroke-width="1.45">
<circle cx="404.1" cy="392.21" r="3.25"/>
<circle cx="406.85" cy="392.27" r="3.25"/>
<circle cx="409.6" cy="392.37" r="3.25"/>
<circle cx="412.35" cy="392.51" r="3.25"/>
<circle cx="415.1" cy="392.66" r="3.25"/>
<circle cx="417.85" cy="392.84" r="3.25"/>
<circle cx="420.6" cy="393.06" r="3.25"/>
<circle cx="423.35" cy="393.36" r="3.25"/>
<circle cx="426.1" cy="393.73" r="3.25"/>
<circle cx="428.85" cy="394.16" r="3.25"/>
<circle cx="431.6" cy="394.71" r="3.25"/>
<circle cx="434.35" cy="395.53" r="3.25"/>
<circle cx="437.1" cy="396.61" r="3.25"/>
<circle cx="439.85" cy="398.11" r="3.25"/>
<circle cx="442.6" cy="400.37" r="3.25"/>
<circle cx="445.35" cy="403.01" r="3.25"/>
<circle cx="448.1" cy="405.77" r="3.25"/>
<circle cx="450.85" cy="408.88" r="3.25"/>
<circle cx="453.6" cy="412.17" r="3.25"/>
<circle cx="456.35" cy="415.61" r="3.25"/>
<circle cx="459.1" cy="419.25" r="3.25"/>
<circle cx="461.85" cy="422.86" r="3.25"/>
<circle cx="464.6" cy="426.29" r="3.25"/>
<circle cx="467.35" cy="429.65" r="3.25"/>
<circle cx="470.1" cy="432.83" r="3.25"/>
<circle cx="472.85" cy="435.74" r="3.25"/>
<circle cx="475.6" cy="438.47" r="3.25"/>
<circle cx="478.35" cy="441.12" r="3.25"/>
<circle cx="481.1" cy="443.77" r="3.25"/>
<circle cx="483.85" cy="446.37" r="3.25"/>
<circle cx="486.6" cy="448.83" r="3.25"/>
<circle cx="489.35" cy="451.14" r="3.25"/>
<circle cx="492.1" cy="453.33" r="3.25"/>
<circle cx="494.85" cy="455.43" r="3.25"/>
<circle cx="497.6" cy="457.45" r="3.25"/>
<circle cx="500.35" cy="459.38" r="3.25"/>
<circle cx="503.1" cy="461.18" r="3.25"/>
<circle cx="505.85" cy="462.84" r="3.25"/>
<circle cx="508.6" cy="464.38" r="3.25"/>
<circle cx="511.35" cy="465.81" r="3.25"/>
<circle cx="514.1" cy="467.16" r="3.25"/>
<circle cx="516.85" cy="468.42" r="3.25"/>
<circle cx="519.6" cy="469.58" r="3.25"/>
<circle cx="522.35" cy="470.61" r="3.25"/>
<circle cx="525.1" cy="471.54" r="3.25"/>
<circle cx="527.85" cy="472.37" r="3.25"/>
<circle cx="530.6" cy="473.08" r="3.25"/>
<circle cx="533.35" cy="473.7" r="3.25"/>
<circle cx="536.1" cy="474.23" r="3.25"/>
<circle cx="538.85" cy="474.63" r="3.25"/>
<circle cx="541.6" cy="475" r="3.25"/>
<circle cx="544.35" cy="475.27" r="3.25"/>
<circle cx="547.1" cy="475.3" r="3.25"/>
<circle cx="549.85" cy="475.1" r="3.25"/>
<circle cx="552.6" cy="474.74" r="3.25"/>
<circle cx="555.35" cy="474.23" r="3.25"/>
<circle cx="558.1" cy="473.19" r="3.25"/>
<circle cx="560.85" cy="471.76" r="3.25"/>
<circle cx="563.6" cy="470.14" r="3.25"/>
<circle cx="566.35" cy="468.09" r="3.25"/>
<circle cx="569.1" cy="465.66" r="3.25"/>
<circle cx="571.85" cy="462.92" r="3.25"/>
<circle cx="574.6" cy="459.66" r="3.25"/>
<circle cx="577.35" cy="456.14" r="3.25"/>
<circle cx="580.1" cy="452.64" r="3.25"/>
<circle cx="582.85" cy="449.03" r="3.25"/>
<circle cx="585.6" cy="445.27" r="3.25"/>
<circle cx="588.35" cy="441.29" r="3.25"/>
<circle cx="591.1" cy="437.1" r="3.25"/>
<circle cx="593.85" cy="432.92" r="3.25"/>
<circle cx="596.6" cy="429.17" r="3.25"/>
<circle cx="599.35" cy="426.2" r="3.25"/>
<circle cx="602.1" cy="424.34" r="3.25"/>
<circle cx="604.85" cy="422.81" r="3.25"/>
<circle cx="607.6" cy="420.46" r="3.25"/>
<circle cx="610.35" cy="417.06" r="3.25"/>
<circle cx="613.1" cy="412.24" r="3.25"/>
<circle cx="615.85" cy="407.92" r="3.25"/>
<circle cx="618.6" cy="404.52" r="3.25"/>
<circle cx="621.35" cy="401.94" r="3.25"/>
<circle cx="624.1" cy="400.17" r="3.25"/>
<circle cx="626.85" cy="398.82" r="3.25"/>
<circle cx="629.6" cy="397.73" r="3.25"/>
<circle cx="632.35" cy="396.8" r="3.25"/>
<circle cx="635.1" cy="395.97" r="3.25"/>
<circle cx="637.85" cy="395.24" r="3.25"/>
<circle cx="640.6" cy="394.6" r="3.25"/>
<circle cx="643.35" cy="394.06" r="3.25"/>
<circle cx="646.1" cy="393.63" r="3.25"/>
<circle cx="648.85" cy="393.27" r="3.25"/>
<circle cx="651.6" cy="392.94" r="3.25"/>
<circle cx="654.35" cy="392.57" r="3.25"/>
<circle cx="657.1" cy="392.12" r="3.25"/>
<circle cx="659.85" cy="391.38" r="3.25"/>
<circle cx="662.6" cy="390.57" r="3.25"/>
<circle cx="665.35" cy="390.08" r="3.25"/>
<circle cx="668.1" cy="390.07" r="3.25"/>
<circle cx="670.85" cy="390.2" r="3.25"/>
<circle cx="673.6" cy="390.56" r="3.25"/>
</g>
<path d="M403 389.51 L404 389.55 L405 389.6 L406 389.66 L407 389.73 L408 389.8 L409 389.87 L410 389.96 L411 390.04 L412 390.13 L413 390.23 L414 390.33 L415 390.43 L416 390.54 L417 390.64 L418 390.75 L419 390.87 L420 390.99 L421 391.13 L422 391.26 L423 391.41 L424 391.57 L425 391.74 L426 391.91 L427 392.1 L428 392.3 L429 392.52 L430 392.75 L431 393.01 L432 393.31 L433 393.64 L434 394.02 L435 394.43 L436 394.87 L437 395.34 L438 395.83 L439 396.35 L440 396.9 L441 397.46 L442 398.09 L443 398.81 L444 399.59 L445 400.43 L446 401.32 L447 402.24 L448 403.2 L449 404.22 L450 405.33 L451 406.5 L452 407.72 L453 408.98 L454 410.27 L455 411.58 L456 412.88 L457 414.19 L458 415.53 L459 416.91 L460 418.33 L461 419.76 L462 421.2 L463 422.63 L464 424.03 L465 425.4 L466 426.73 L467 428.04 L468 429.34 L469 430.62 L470 431.88 L471 433.11 L472 434.31 L473 435.47 L474 436.6 L475 437.7 L476 438.78 L477 439.83 L478 440.86 L479 441.86 L480 442.84 L481 443.78 L482 444.69 L483 445.58 L484 446.43 L485 447.27 L486 448.08 L487 448.89 L488 449.69 L489 450.48 L490 451.28 L491 452.09 L492 452.9 L493 453.7 L494 454.49 L495 455.25 L496 455.98 L497 456.67 L498 457.33 L499 457.95 L500 458.56 L501 459.14 L502 459.71 L503 460.25 L504 460.78 L505 461.29 L506 461.78 L507 462.27 L508 462.74 L509 463.21 L510 463.65 L511 464.08 L512 464.48 L513 464.85 L514 465.18 L515 465.52 L516 465.85 L517 466.16 L518 466.46 L519 466.72 L520 466.95 L521 467.13 L522 467.25 L523 467.35 L524 467.45 L525 467.54 L526 467.62 L527 467.68 L528 467.73 L529 467.75 L530 467.76 L531 467.66 L532 467.42 L533 467.09 L534 466.7 L535 466.26 L536 465.82 L537 465.4 L538 465.04 L539 464.7 L540 464.37 L541 464.04 L542 463.7 L543 463.37 L544 463.04 L545 462.7 L546 462.37 L547 462.05 L548 461.74 L549 461.44 L550 461.13 L551 460.82 L552 460.48 L553 460.12 L554 459.71 L555 459.26 L556 458.74 L557 458.18 L558 457.57 L559 456.93 L560 456.28 L561 455.61 L562 454.95 L563 454.28 L564 453.6 L565 452.9 L566 452.19 L567 451.45 L568 450.7 L569 449.92 L570 449.12 L571 448.3 L572 447.45 L573 446.59 L574 445.69 L575 444.77 L576 443.81 L577 442.8 L578 441.75 L579 440.64 L580 439.43 L581 438.15 L582 436.81 L583 435.42 L584 434.01 L585 432.6 L586 431.2 L587 429.82 L588 428.42 L589 427 L590 425.59 L591 424.18 L592 422.82 L593 421.45 L594 420.07 L595 418.69 L596 417.34 L597 416.05 L598 414.83 L599 413.71 L600 412.67 L601 411.68 L602 410.72 L603 409.8 L604 408.93 L605 408.12 L606 407.37 L607 406.68 L608 406.06 L609 405.48 L610 404.95 L611 404.44 L612 403.97 L613 403.51 L614 403.06 L615 402.62 L616 402.18 L617 401.75 L618 401.32 L619 400.9 L620 400.5 L621 400.09 L622 399.7 L623 399.32 L624 398.94 L625 398.58 L626 398.22 L627 397.87 L628 397.53 L629 397.19 L630 396.87 L631 396.54 L632 396.23 L633 395.92 L634 395.62 L635 395.32 L636 395.03 L637 394.75 L638 394.47 L639 394.21 L640 393.94 L641 393.69 L642 393.43 L643 393.18 L644 392.93 L645 392.68 L646 392.45 L647 392.22 L648 392 L649 391.8 L650 391.61 L651 391.44 L652 391.28 L653 391.12 L654 390.97 L655 390.81 L656 390.67 L657 390.53 L658 390.39 L659 390.27 L660 390.15 L661 390.05 L662 389.95 L663 389.88 L664 389.81 L665 389.77 L666 389.73 L667 389.69 L668 389.65 L669 389.62 L670 389.59 L671 389.56 L672 389.54 L673 389.52 L674 389.51 L675 389.51" fill="none" stroke="#ff0000" stroke-width="1.6" stroke-linejoin="round"/>
<path d="M403 389.51 L404 389.42 L405 389.33 L406 389.24 L407 389.15 L408 389.07 L409 388.98 L410 388.89 L411 388.81 L412 388.73 L413 388.64 L414 388.56 L415 388.48 L416 388.4 L417 388.32 L418 388.24 L419 388.16 L420 388.08 L421 388 L422 387.93 L423 387.85 L424 387.78 L425 387.7 L426 387.63 L427 387.56 L428 387.49 L429 387.42 L430 387.35 L431 387.28 L432 387.21 L433 387.14 L434 387.08 L435 387.01 L436 386.94 L437 386.88 L438 386.81 L439 386.75 L440 386.69 L441 386.62 L442 386.56 L443 386.5 L444 386.44 L445 386.38 L446 386.32 L447 386.26 L448 386.2 L449 386.15 L450 386.09 L451 386.04 L452 385.98 L453 385.93 L454 385.88 L455 385.83 L456 385.78 L457 385.73 L458 385.68 L459 385.63 L460 385.58 L461 385.53 L462 385.47 L463 385.42 L464 385.36 L465 385.31 L466 385.26 L467 385.2 L468 385.15 L469 385.1 L470 385.05 L471 385 L472 384.96 L473 384.91 L474 384.87 L475 384.83 L476 384.8 L477 384.76 L478 384.74 L479 384.71 L480 384.69 L481 384.67 L482 384.66 L483 384.65 L484 384.65 L485 384.66 L486 384.67 L487 384.7 L488 384.73 L489 384.78 L490 384.83 L491 384.89 L492 384.96 L493 385.04 L494 385.12 L495 385.22 L496 385.44 L497 385.79 L498 386.21 L499 386.64 L500 387.01 L501 387.28 L502 387.4 L503 387.49 L504 387.56 L505 387.63 L506 387.69 L507 387.74 L508 387.78 L509 387.82 L510 387.86 L511 387.89 L512 387.93 L513 387.96 L514 388 L515 388.03 L516 388.06 L517 388.09 L518 388.11 L519 388.13 L520 388.15 L521 388.16 L522 388.16 L523 388.15 L524 388.14 L525 388.13 L526 388.11 L527 388.09 L528 388.07 L529 388.04 L530 388.02 L531 387.99 L532 387.97 L533 387.95 L534 387.93 L535 387.91 L536 387.9 L537 387.89 L538 387.89 L539 387.9 L540 387.94 L541 387.99 L542 388.06 L543 388.15 L544 388.25 L545 388.36 L546 388.48 L547 388.6 L548 388.74 L549 388.87 L550 389 L551 389.13 L552 389.26 L553 389.38 L554 389.5 L555 389.6 L556 389.72 L557 389.83 L558 389.94 L559 390.06 L560 390.17 L561 390.29 L562 390.41 L563 390.53 L564 390.65 L565 390.77 L566 390.89 L567 391.01 L568 391.13 L569 391.24 L570 391.36 L571 391.48 L572 391.59 L573 391.7 L574 391.8 L575 391.9 L576 392.01 L577 392.11 L578 392.21 L579 392.32 L580 392.43 L581 392.54 L582 392.66 L583 392.79 L584 392.92 L585 393.06 L586 393.21 L587 393.37 L588 393.53 L589 393.7 L590 393.88 L591 394.07 L592 394.29 L593 394.53 L594 394.81 L595 395.12 L596 395.47 L597 395.96 L598 396.64 L599 397.44 L600 398.31 L601 399.2 L602 400.14 L603 401.28 L604 402.42 L605 403.31 L606 403.85 L607 404.31 L608 404.67 L609 404.87 L610 404.86 L611 404.68 L612 404.37 L613 403.95 L614 403.45 L615 402.89 L616 401.86 L617 400.44 L618 399.04 L619 398.05 L620 397.34 L621 396.69 L622 396.1 L623 395.56 L624 395.09 L625 394.69 L626 394.35 L627 394.09 L628 393.87 L629 393.67 L630 393.5 L631 393.33 L632 393.19 L633 393.05 L634 392.93 L635 392.81 L636 392.7 L637 392.59 L638 392.48 L639 392.37 L640 392.26 L641 392.14 L642 392.03 L643 391.91 L644 391.8 L645 391.69 L646 391.58 L647 391.47 L648 391.37 L649 391.27 L650 391.17 L651 391.07 L652 390.98 L653 390.89 L654 390.8 L655 390.72 L656 390.64 L657 390.56 L658 390.49 L659 390.42 L660 390.34 L661 390.27 L662 390.21 L663 390.14 L664 390.08 L665 390.01 L666 389.95 L667 389.89 L668 389.84 L669 389.78 L670 389.73 L671 389.68 L672 389.63 L673 389.59 L674 389.55 L675 389.51" fill="none" stroke="#ff00cc" stroke-width="1.5" stroke-dasharray="6.4 5.7"/>
<path d="M403 389.51 L404 389.42 L405 389.33 L406 389.24 L407 389.15 L408 389.07 L409 388.98 L410 388.89 L411 388.81 L412 388.73 L413 388.64 L414 388.56 L415 388.48 L416 388.4 L417 388.32 L418 388.24 L419 388.16 L420 388.08 L421 388 L422 387.93 L423 387.85 L424 387.78 L425 387.7 L426 387.63 L427 387.56 L428 387.49 L429 387.42 L430 387.35 L431 387.28 L432 387.21 L433 387.14 L434 387.08 L435 387.01 L436 386.94 L437 386.88 L438 386.81 L439 386.75 L440 386.69 L441 386.62 L442 386.56 L443 386.5 L444 386.44 L445 386.38 L446 386.32 L447 386.26 L448 386.2 L449 386.15 L450 386.09 L451 386.04 L452 385.98 L453 385.93 L454 385.88 L455 385.83 L456 385.78 L457 385.73 L458 385.68 L459 385.63 L460 385.58 L461 385.53 L462 385.47 L463 385.42 L464 385.36 L465 385.31 L466 385.26 L467 385.2 L468 385.15 L469 385.1 L470 385.05 L471 385 L472 384.96 L473 384.91 L474 384.87 L475 384.83 L476 384.8 L477 384.76 L478 384.74 L479 384.71 L480 384.69 L481 384.67 L482 384.66 L483 384.65 L484 384.65 L485 384.66 L486 384.67 L487 384.69 L488 384.72 L489 384.76 L490 384.81 L491 384.86 L492 384.92 L493 384.98 L494 385.04 L495 385.11 L496 385.19 L497 385.26 L498 385.34 L499 385.42 L500 385.5 L501 385.58 L502 385.66 L503 385.74 L504 385.83 L505 385.91 L506 386.01 L507 386.11 L508 386.21 L509 386.33 L510 386.45 L511 386.57 L512 386.7 L513 386.84 L514 386.98 L515 387.14 L516 387.29 L517 387.46 L518 387.65 L519 387.84 L520 388.06 L521 388.29 L522 388.54 L523 388.8 L524 389.08 L525 389.37 L526 389.68 L527 390.01 L528 390.36 L529 390.77 L530 391.23 L531 391.72 L532 392.24 L533 392.78 L534 393.33 L535 393.89 L536 394.44 L537 394.97 L538 395.48 L539 395.99 L540 396.51 L541 397.03 L542 397.55 L543 398.07 L544 398.59 L545 399.1 L546 399.59 L547 400.07 L548 400.53 L549 400.96 L550 401.39 L551 401.82 L552 402.24 L553 402.65 L554 403.05 L555 403.43 L556 403.8 L557 404.14 L558 404.46 L559 404.75 L560 405.02 L561 405.27 L562 405.52 L563 405.76 L564 405.99 L565 406.21 L566 406.41 L567 406.59 L568 406.76 L569 406.9 L570 407.02 L571 407.12 L572 407.21 L573 407.3 L574 407.39 L575 407.46 L576 407.52 L577 407.56 L578 407.59 L579 407.57 L580 407.46 L581 407.28 L582 407.04 L583 406.76 L584 406.45 L585 406.14 L586 405.84 L587 405.56 L588 405.26 L589 404.96 L590 404.63 L591 404.3 L592 403.95 L593 403.59 L594 403.22 L595 402.84 L596 402.43 L597 401.99 L598 401.54 L599 401.08 L600 400.62 L601 400.18 L602 399.76 L603 399.37 L604 399 L605 398.64 L606 398.29 L607 397.95 L608 397.62 L609 397.31 L610 397.01 L611 396.73 L612 396.46 L613 396.2 L614 395.94 L615 395.69 L616 395.46 L617 395.25 L618 395.06 L619 394.88 L620 394.73 L621 394.58 L622 394.44 L623 394.3 L624 394.18 L625 394.05 L626 393.94 L627 393.83 L628 393.72 L629 393.62 L630 393.52 L631 393.42 L632 393.32 L633 393.23 L634 393.14 L635 393.05 L636 392.97 L637 392.89 L638 392.82 L639 392.74 L640 392.67 L641 392.59 L642 392.52 L643 392.44 L644 392.36 L645 392.28 L646 392.19 L647 392.1 L648 392.01 L649 391.91 L650 391.81 L651 391.71 L652 391.6 L653 391.5 L654 391.39 L655 391.29 L656 391.19 L657 391.08 L658 390.99 L659 390.89 L660 390.8 L661 390.71 L662 390.61 L663 390.52 L664 390.43 L665 390.35 L666 390.26 L667 390.17 L668 390.08 L669 390 L670 389.91 L671 389.83 L672 389.75 L673 389.67 L674 389.59 L675 389.51" fill="none" stroke="#0000ff" stroke-width="1.5" stroke-dasharray="6.7 2.6 1.5 3"/>
<path d="M403 346.87 L406.24 341.48 L408.94 337.43 L412.44 345.52 L415.95 347.41 L420.54 336.62 L424.59 341.48 L428.63 347.41 L432.14 341.48 L435.92 347.41 L439.43 349.03 L442.94 347.41 L445.63 353.62 L448.87 360.9 L451.57 360.9 L454.81 354.97 L457.51 350.11 L459.67 353.62 L462.9 336.08 L465.6 331.22 L468.3 352.27 L471 357.67 L473.7 348.22 L476.67 338.78 L479.9 346.87 L482.6 342.83 L486.11 350.92 L488.81 358.21 L492.05 353.62 L494.75 345.52 L497.44 344.17 L500.14 348.22 L504.19 359.02 L507.7 350.92 L510.94 349.03 L513.63 349.57 L516.33 365.22 L519.57 353.62 L521.73 344.17 L524.43 334.73 L527.67 337.43 L531.17 338.24 L535.22 335.54 L537.92 341.48 L541.16 353.62 L543.86 368.46 L546.56 381.14 L549.25 371.7 L551.95 376.56 L554.65 369.81 L557.35 364.41 L560.86 366.57 L564.37 364.41 L567.6 357.67 L570.3 352.81 L574.35 356.32 L577.86 349.57 L580.56 342.83 L583.79 338.78 L586.49 340.13 L589.19 343.63 L591.89 341.48 L595.13 344.71 L597.29 341.48 L599.98 334.73 L602.68 336.08 L605.38 330.14 L607.54 335.54 L610.24 336.62 L612.94 345.52 L616.17 353.62 L618.87 349.03 L622.11 347.41 L625.62 352.27 L629.13 350.92 L632.37 338.78 L635.6 340.13 L639.11 356.32 L641.81 354.97 L644.51 348.22 L647.21 346.33 L650.71 342.83 L653.95 345.52 L658 337.43 L661.24 332.03 L664.21 349.57 L667.44 356.32 L670.14 353.62 L672.84 357.67 L675 353.62" fill="none" stroke="#000" stroke-width="1.5" stroke-linejoin="round"/>
<path d="M403.3 347.53 H675.4" stroke="#000" stroke-width="1.35" stroke-dasharray="6.4 5.7" fill="none"/>
<path d="M521.19 494.15 V301.35" stroke="#000" stroke-width="1.35" stroke-dasharray="6.4 5.7" fill="none"/>
<path d="M614.83 494.15 V301.35" stroke="#000" stroke-width="1.35" stroke-dasharray="6.4 5.7" fill="none"/>
</g>
<path d="M407.19 494.15 v-2.2 M407.19 301.35 v2.2 M411.07 494.15 v-2.2 M411.07 301.35 v2.2 M414.96 494.15 v-2.2 M414.96 301.35 v2.2 M418.85 494.15 v-2.2 M418.85 301.35 v2.2 M422.74 494.15 v-4.6 M422.74 301.35 v4.6 M426.62 494.15 v-2.2 M426.62 301.35 v2.2 M430.51 494.15 v-2.2 M430.51 301.35 v2.2 M434.4 494.15 v-2.2 M434.4 301.35 v2.2 M438.28 494.15 v-2.2 M438.28 301.35 v2.2 M442.17 494.15 v-2.2 M442.17 301.35 v2.2 M446.06 494.15 v-2.2 M446.06 301.35 v2.2 M449.95 494.15 v-2.2 M449.95 301.35 v2.2 M453.83 494.15 v-2.2 M453.83 301.35 v2.2 M457.72 494.15 v-2.2 M457.72 301.35 v2.2 M461.61 494.15 v-4.6 M461.61 301.35 v4.6 M465.49 494.15 v-2.2 M465.49 301.35 v2.2 M469.38 494.15 v-2.2 M469.38 301.35 v2.2 M473.27 494.15 v-2.2 M473.27 301.35 v2.2 M477.16 494.15 v-2.2 M477.16 301.35 v2.2 M481.04 494.15 v-2.2 M481.04 301.35 v2.2 M484.93 494.15 v-2.2 M484.93 301.35 v2.2 M488.82 494.15 v-2.2 M488.82 301.35 v2.2 M492.7 494.15 v-2.2 M492.7 301.35 v2.2 M496.59 494.15 v-2.2 M496.59 301.35 v2.2 M500.48 494.15 v-4.6 M500.48 301.35 v4.6 M504.37 494.15 v-2.2 M504.37 301.35 v2.2 M508.25 494.15 v-2.2 M508.25 301.35 v2.2 M512.14 494.15 v-2.2 M512.14 301.35 v2.2 M516.03 494.15 v-2.2 M516.03 301.35 v2.2 M519.91 494.15 v-2.2 M519.91 301.35 v2.2 M523.8 494.15 v-2.2 M523.8 301.35 v2.2 M527.69 494.15 v-2.2 M527.69 301.35 v2.2 M531.58 494.15 v-2.2 M531.58 301.35 v2.2 M535.46 494.15 v-2.2 M535.46 301.35 v2.2 M539.35 494.15 v-4.6 M539.35 301.35 v4.6 M543.24 494.15 v-2.2 M543.24 301.35 v2.2 M547.12 494.15 v-2.2 M547.12 301.35 v2.2 M551.01 494.15 v-2.2 M551.01 301.35 v2.2 M554.9 494.15 v-2.2 M554.9 301.35 v2.2 M558.79 494.15 v-2.2 M558.79 301.35 v2.2 M562.67 494.15 v-2.2 M562.67 301.35 v2.2 M566.56 494.15 v-2.2 M566.56 301.35 v2.2 M570.45 494.15 v-2.2 M570.45 301.35 v2.2 M574.33 494.15 v-2.2 M574.33 301.35 v2.2 M578.22 494.15 v-4.6 M578.22 301.35 v4.6 M582.11 494.15 v-2.2 M582.11 301.35 v2.2 M586 494.15 v-2.2 M586 301.35 v2.2 M589.88 494.15 v-2.2 M589.88 301.35 v2.2 M593.77 494.15 v-2.2 M593.77 301.35 v2.2 M597.66 494.15 v-2.2 M597.66 301.35 v2.2 M601.54 494.15 v-2.2 M601.54 301.35 v2.2 M605.43 494.15 v-2.2 M605.43 301.35 v2.2 M609.32 494.15 v-2.2 M609.32 301.35 v2.2 M613.21 494.15 v-2.2 M613.21 301.35 v2.2 M617.09 494.15 v-4.6 M617.09 301.35 v4.6 M620.98 494.15 v-2.2 M620.98 301.35 v2.2 M624.87 494.15 v-2.2 M624.87 301.35 v2.2 M628.75 494.15 v-2.2 M628.75 301.35 v2.2 M632.64 494.15 v-2.2 M632.64 301.35 v2.2 M636.53 494.15 v-2.2 M636.53 301.35 v2.2 M640.42 494.15 v-2.2 M640.42 301.35 v2.2 M644.3 494.15 v-2.2 M644.3 301.35 v2.2 M648.19 494.15 v-2.2 M648.19 301.35 v2.2 M652.08 494.15 v-2.2 M652.08 301.35 v2.2 M655.96 494.15 v-4.6 M655.96 301.35 v4.6 M659.85 494.15 v-2.2 M659.85 301.35 v2.2 M663.74 494.15 v-2.2 M663.74 301.35 v2.2 M667.63 494.15 v-2.2 M667.63 301.35 v2.2 M671.51 494.15 v-2.2 M671.51 301.35 v2.2 M403.3 483.64 h2.8 M675.4 483.64 h-2.8 M403.3 473.17 h5.8 M675.4 473.17 h-5.8 M403.3 462.7 h2.8 M675.4 462.7 h-2.8 M403.3 452.23 h2.8 M675.4 452.23 h-2.8 M403.3 441.76 h2.8 M675.4 441.76 h-2.8 M403.3 431.29 h5.8 M675.4 431.29 h-5.8 M403.3 420.82 h2.8 M675.4 420.82 h-2.8 M403.3 410.35 h2.8 M675.4 410.35 h-2.8 M403.3 399.88 h2.8 M675.4 399.88 h-2.8 M403.3 389.41 h5.8 M675.4 389.41 h-5.8 M403.3 378.94 h2.8 M675.4 378.94 h-2.8 M403.3 368.47 h2.8 M675.4 368.47 h-2.8 M403.3 358 h2.8 M675.4 358 h-2.8 M403.3 347.53 h5.8 M675.4 347.53 h-5.8 M403.3 337.06 h2.8 M675.4 337.06 h-2.8 M403.3 326.59 h2.8 M675.4 326.59 h-2.8 M403.3 316.12 h2.8 M675.4 316.12 h-2.8 M403.3 305.65 h5.8 M675.4 305.65 h-5.8" stroke="#000" stroke-width="1.4" fill="none"/>
<rect x="403.3" y="301.35" width="272.1" height="192.8" fill="none" stroke="#000" stroke-width="1.6"/>
<text x="468.35" y="292.35" font-family="Liberation Sans, sans-serif" class="t21" font-size="21.2" textLength="53" lengthAdjust="spacingAndGlyphs">2011</text>
<path d="M524.25 285.95 h12.2" stroke="#000" stroke-width="1.35"/>
<text x="539.35" y="292.35" font-family="Liberation Sans, sans-serif" class="t21" font-size="21.2" textLength="26.2" lengthAdjust="spacingAndGlyphs">11</text>
<path d="M568.45 285.95 h12.2" stroke="#000" stroke-width="1.35"/>
<text x="583.55" y="292.35" font-family="Liberation Sans, sans-serif" class="t21" font-size="21.2" textLength="26.2" lengthAdjust="spacingAndGlyphs">09</text>
<clipPath id="c12"><rect x="695.5" y="301.35" width="272.1" height="192.8"/></clipPath>
<g clip-path="url(#c12)">
<rect x="695.5" y="340.67" width="272.1" height="13.49" fill="#d9bebe"/>
<g fill="none" stroke="#000" stroke-width="1.45">
<circle cx="696.3" cy="392.21" r="3.25"/>
<circle cx="699.05" cy="392.25" r="3.25"/>
<circle cx="701.8" cy="392.33" r="3.25"/>
<circle cx="704.55" cy="392.43" r="3.25"/>
<circle cx="707.3" cy="392.55" r="3.25"/>
<circle cx="710.05" cy="392.69" r="3.25"/>
<circle cx="712.8" cy="392.84" r="3.25"/>
<circle cx="715.55" cy="393.04" r="3.25"/>
<circle cx="718.3" cy="393.3" r="3.25"/>
<circle cx="721.05" cy="393.61" r="3.25"/>
<circle cx="723.8" cy="393.97" r="3.25"/>
<circle cx="726.55" cy="394.41" r="3.25"/>
<circle cx="729.3" cy="395.01" r="3.25"/>
<circle cx="732.05" cy="395.75" r="3.25"/>
<circle cx="734.8" cy="396.58" r="3.25"/>
<circle cx="737.55" cy="397.51" r="3.25"/>
<circle cx="740.3" cy="398.63" r="3.25"/>
<circle cx="743.05" cy="399.92" r="3.25"/>
<circle cx="745.8" cy="401.38" r="3.25"/>
<circle cx="748.55" cy="403.11" r="3.25"/>
<circle cx="751.3" cy="405.24" r="3.25"/>
<circle cx="754.05" cy="407.78" r="3.25"/>
<circle cx="756.8" cy="410.93" r="3.25"/>
<circle cx="759.55" cy="414.4" r="3.25"/>
<circle cx="762.3" cy="417.83" r="3.25"/>
<circle cx="765.05" cy="421.25" r="3.25"/>
<circle cx="767.8" cy="424.75" r="3.25"/>
<circle cx="770.55" cy="428.28" r="3.25"/>
<circle cx="773.3" cy="431.92" r="3.25"/>
<circle cx="776.05" cy="435.62" r="3.25"/>
<circle cx="778.8" cy="439.06" r="3.25"/>
<circle cx="781.55" cy="442.2" r="3.25"/>
<circle cx="784.3" cy="445.13" r="3.25"/>
<circle cx="787.05" cy="447.81" r="3.25"/>
<circle cx="789.8" cy="450.24" r="3.25"/>
<circle cx="792.55" cy="452.49" r="3.25"/>
<circle cx="795.3" cy="454.62" r="3.25"/>
<circle cx="798.05" cy="456.61" r="3.25"/>
<circle cx="800.8" cy="458.51" r="3.25"/>
<circle cx="803.55" cy="460.34" r="3.25"/>
<circle cx="806.3" cy="462.09" r="3.25"/>
<circle cx="809.05" cy="463.8" r="3.25"/>
<circle cx="811.8" cy="465.57" r="3.25"/>
<circle cx="814.55" cy="467.44" r="3.25"/>
<circle cx="817.3" cy="469.3" r="3.25"/>
<circle cx="820.05" cy="471.02" r="3.25"/>
<circle cx="822.8" cy="472.62" r="3.25"/>
<circle cx="825.55" cy="474.15" r="3.25"/>
<circle cx="828.3" cy="475.61" r="3.25"/>
<circle cx="831.05" cy="476.99" r="3.25"/>
<circle cx="833.8" cy="478.34" r="3.25"/>
<circle cx="836.55" cy="479.7" r="3.25"/>
<circle cx="839.3" cy="481.04" r="3.25"/>
<circle cx="842.05" cy="482.42" r="3.25"/>
<circle cx="844.8" cy="483.93" r="3.25"/>
<circle cx="847.55" cy="485.6" r="3.25"/>
<circle cx="850.3" cy="487.28" r="3.25"/>
<circle cx="853.05" cy="489.04" r="3.25"/>
<circle cx="855.8" cy="486.23" r="3.25"/>
<circle cx="858.55" cy="482.42" r="3.25"/>
<circle cx="861.3" cy="479.01" r="3.25"/>
<circle cx="864.05" cy="475.5" r="3.25"/>
<circle cx="866.8" cy="471.9" r="3.25"/>
<circle cx="869.55" cy="468.31" r="3.25"/>
<circle cx="872.3" cy="464.83" r="3.25"/>
<circle cx="875.05" cy="461.45" r="3.25"/>
<circle cx="877.8" cy="457.91" r="3.25"/>
<circle cx="880.55" cy="454" r="3.25"/>
<circle cx="883.3" cy="449.77" r="3.25"/>
<circle cx="886.05" cy="445.48" r="3.25"/>
<circle cx="888.8" cy="441.22" r="3.25"/>
<circle cx="891.55" cy="436.89" r="3.25"/>
<circle cx="894.3" cy="432.39" r="3.25"/>
<circle cx="897.05" cy="427.83" r="3.25"/>
<circle cx="899.8" cy="423.39" r="3.25"/>
<circle cx="902.55" cy="418.99" r="3.25"/>
<circle cx="905.3" cy="414.36" r="3.25"/>
<circle cx="908.05" cy="410.16" r="3.25"/>
<circle cx="910.8" cy="406.85" r="3.25"/>
<circle cx="913.55" cy="404.65" r="3.25"/>
<circle cx="916.3" cy="402.98" r="3.25"/>
<circle cx="919.05" cy="401.63" r="3.25"/>
<circle cx="921.8" cy="400.47" r="3.25"/>
<circle cx="924.55" cy="399.42" r="3.25"/>
<circle cx="927.3" cy="398.44" r="3.25"/>
<circle cx="930.05" cy="397.52" r="3.25"/>
<circle cx="932.8" cy="396.67" r="3.25"/>
<circle cx="935.55" cy="395.87" r="3.25"/>
<circle cx="938.3" cy="395.14" r="3.25"/>
<circle cx="941.05" cy="394.45" r="3.25"/>
<circle cx="943.8" cy="393.79" r="3.25"/>
<circle cx="946.55" cy="393.14" r="3.25"/>
<circle cx="949.3" cy="392.44" r="3.25"/>
<circle cx="952.05" cy="391.74" r="3.25"/>
<circle cx="954.8" cy="391.15" r="3.25"/>
<circle cx="957.55" cy="390.76" r="3.25"/>
<circle cx="960.3" cy="390.46" r="3.25"/>
<circle cx="963.05" cy="390.22" r="3.25"/>
<circle cx="965.8" cy="390.07" r="3.25"/>
</g>
<path d="M695 389.51 L696 389.51 L697 389.52 L698 389.53 L699 389.55 L700 389.58 L701 389.6 L702 389.64 L703 389.67 L704 389.71 L705 389.75 L706 389.8 L707 389.84 L708 389.89 L709 389.94 L710 389.99 L711 390.04 L712 390.09 L713 390.15 L714 390.22 L715 390.3 L716 390.38 L717 390.47 L718 390.57 L719 390.67 L720 390.78 L721 390.9 L722 391.03 L723 391.16 L724 391.3 L725 391.45 L726 391.62 L727 391.81 L728 392.03 L729 392.28 L730 392.54 L731 392.82 L732 393.12 L733 393.43 L734 393.75 L735 394.08 L736 394.42 L737 394.77 L738 395.11 L739 395.47 L740 395.85 L741 396.26 L742 396.7 L743 397.18 L744 397.69 L745 398.23 L746 398.81 L747 399.42 L748 400.08 L749 400.77 L750 401.52 L751 402.31 L752 403.15 L753 404.05 L754 405.07 L755 406.24 L756 407.51 L757 408.87 L758 410.28 L759 411.71 L760 413.14 L761 414.53 L762 415.88 L763 417.23 L764 418.59 L765 419.97 L766 421.35 L767 422.72 L768 424.09 L769 425.44 L770 426.76 L771 428.05 L772 429.32 L773 430.57 L774 431.81 L775 433.03 L776 434.24 L777 435.44 L778 436.62 L779 437.78 L780 438.93 L781 440.07 L782 441.22 L783 442.36 L784 443.48 L785 444.59 L786 445.67 L787 446.72 L788 447.74 L789 448.72 L790 449.66 L791 450.57 L792 451.46 L793 452.32 L794 453.16 L795 453.97 L796 454.75 L797 455.5 L798 456.22 L799 456.91 L800 457.58 L801 458.22 L802 458.85 L803 459.46 L804 460.06 L805 460.65 L806 461.23 L807 461.8 L808 462.37 L809 462.93 L810 463.47 L811 464 L812 464.51 L813 464.99 L814 465.46 L815 465.93 L816 466.4 L817 466.87 L818 467.31 L819 467.72 L820 468.08 L821 468.38 L822 468.61 L823 468.8 L824 469 L825 469.17 L826 469.33 L827 469.47 L828 469.57 L829 469.63 L830 469.65 L831 469.64 L832 469.6 L833 469.55 L834 469.47 L835 469.39 L836 469.3 L837 469.21 L838 469.11 L839 469.01 L840 468.89 L841 468.75 L842 468.59 L843 468.42 L844 468.23 L845 468.02 L846 467.79 L847 467.52 L848 467.17 L849 466.76 L850 466.31 L851 465.83 L852 465.33 L853 464.83 L854 464.35 L855 463.89 L856 463.43 L857 462.96 L858 462.48 L859 462 L860 461.49 L861 460.95 L862 460.38 L863 459.78 L864 459.13 L865 458.45 L866 457.73 L867 456.98 L868 456.2 L869 455.41 L870 454.59 L871 453.77 L872 452.93 L873 452.07 L874 451.18 L875 450.26 L876 449.3 L877 448.3 L878 447.25 L879 446.14 L880 444.94 L881 443.65 L882 442.3 L883 440.91 L884 439.5 L885 438.1 L886 436.71 L887 435.37 L888 434.04 L889 432.72 L890 431.4 L891 430.07 L892 428.74 L893 427.41 L894 426.06 L895 424.69 L896 423.32 L897 421.94 L898 420.55 L899 419.15 L900 417.73 L901 416.3 L902 414.82 L903 413.22 L904 411.58 L905 409.99 L906 408.57 L907 407.4 L908 406.4 L909 405.48 L910 404.64 L911 403.86 L912 403.16 L913 402.53 L914 401.95 L915 401.42 L916 400.93 L917 400.46 L918 400.03 L919 399.61 L920 399.22 L921 398.84 L922 398.47 L923 398.1 L924 397.74 L925 397.37 L926 397.01 L927 396.65 L928 396.29 L929 395.95 L930 395.61 L931 395.29 L932 394.97 L933 394.68 L934 394.4 L935 394.14 L936 393.89 L937 393.65 L938 393.41 L939 393.18 L940 392.96 L941 392.74 L942 392.54 L943 392.34 L944 392.15 L945 391.97 L946 391.8 L947 391.64 L948 391.49 L949 391.35 L950 391.21 L951 391.08 L952 390.95 L953 390.82 L954 390.69 L955 390.57 L956 390.45 L957 390.33 L958 390.22 L959 390.12 L960 390.02 L961 389.93 L962 389.84 L963 389.76 L964 389.68 L965 389.62 L966 389.56 L967 389.51" fill="none" stroke="#ff0000" stroke-width="1.6" stroke-linejoin="round"/>
<path d="M695 389.51 L696 389.44 L697 389.37 L698 389.3 L699 389.23 L700 389.17 L701 389.1 L702 389.03 L703 388.97 L704 388.9 L705 388.84 L706 388.78 L707 388.72 L708 388.65 L709 388.59 L710 388.53 L711 388.48 L712 388.42 L713 388.36 L714 388.3 L715 388.25 L716 388.19 L717 388.14 L718 388.09 L719 388.04 L720 387.99 L721 387.94 L722 387.89 L723 387.84 L724 387.8 L725 387.75 L726 387.71 L727 387.67 L728 387.62 L729 387.58 L730 387.54 L731 387.51 L732 387.47 L733 387.43 L734 387.39 L735 387.36 L736 387.32 L737 387.28 L738 387.24 L739 387.21 L740 387.17 L741 387.13 L742 387.1 L743 387.06 L744 387.02 L745 386.98 L746 386.94 L747 386.9 L748 386.85 L749 386.81 L750 386.76 L751 386.71 L752 386.65 L753 386.59 L754 386.53 L755 386.46 L756 386.4 L757 386.33 L758 386.26 L759 386.2 L760 386.13 L761 386.07 L762 386.01 L763 385.96 L764 385.91 L765 385.86 L766 385.82 L767 385.79 L768 385.76 L769 385.74 L770 385.73 L771 385.73 L772 385.75 L773 385.78 L774 385.83 L775 385.89 L776 385.96 L777 386.05 L778 386.14 L779 386.24 L780 386.34 L781 386.46 L782 386.57 L783 386.69 L784 386.8 L785 386.95 L786 387.16 L787 387.41 L788 387.68 L789 387.95 L790 388.21 L791 388.43 L792 388.6 L793 388.69 L794 388.7 L795 388.7 L796 388.7 L797 388.7 L798 388.7 L799 388.7 L800 388.7 L801 388.7 L802 388.7 L803 388.7 L804 388.7 L805 388.7 L806 388.7 L807 388.7 L808 388.7 L809 388.7 L810 388.71 L811 388.72 L812 388.74 L813 388.76 L814 388.79 L815 388.82 L816 388.85 L817 388.89 L818 388.92 L819 388.96 L820 389.01 L821 389.07 L822 389.13 L823 389.22 L824 389.31 L825 389.41 L826 389.52 L827 389.64 L828 389.77 L829 389.91 L830 390.06 L831 390.23 L832 390.42 L833 390.65 L834 390.9 L835 391.18 L836 391.49 L837 391.83 L838 392.19 L839 392.57 L840 392.98 L841 393.42 L842 393.98 L843 394.67 L844 395.44 L845 396.25 L846 397.06 L847 397.82 L848 398.54 L849 399.37 L850 400.23 L851 400.98 L852 401.49 L853 401.65 L854 401.38 L855 400.82 L856 400.12 L857 399.43 L858 398.64 L859 397.69 L860 396.7 L861 395.79 L862 395.07 L863 394.57 L864 394.11 L865 393.69 L866 393.31 L867 392.97 L868 392.68 L869 392.44 L870 392.26 L871 392.13 L872 392.01 L873 391.9 L874 391.79 L875 391.7 L876 391.61 L877 391.54 L878 391.48 L879 391.44 L880 391.41 L881 391.4 L882 391.4 L883 391.41 L884 391.43 L885 391.46 L886 391.5 L887 391.54 L888 391.59 L889 391.65 L890 391.74 L891 391.91 L892 392.16 L893 392.44 L894 392.74 L895 393.03 L896 393.28 L897 393.52 L898 393.78 L899 394.04 L900 394.28 L901 394.48 L902 394.6 L903 394.63 L904 394.57 L905 394.44 L906 394.25 L907 394.03 L908 393.81 L909 393.59 L910 393.41 L911 393.27 L912 393.17 L913 393.07 L914 392.98 L915 392.9 L916 392.82 L917 392.74 L918 392.67 L919 392.6 L920 392.53 L921 392.46 L922 392.39 L923 392.31 L924 392.24 L925 392.15 L926 392.07 L927 391.98 L928 391.89 L929 391.8 L930 391.7 L931 391.61 L932 391.51 L933 391.42 L934 391.33 L935 391.23 L936 391.14 L937 391.06 L938 390.97 L939 390.89 L940 390.81 L941 390.74 L942 390.67 L943 390.6 L944 390.54 L945 390.48 L946 390.42 L947 390.37 L948 390.31 L949 390.25 L950 390.2 L951 390.15 L952 390.09 L953 390.04 L954 389.99 L955 389.94 L956 389.9 L957 389.85 L958 389.81 L959 389.77 L960 389.73 L961 389.69 L962 389.65 L963 389.62 L964 389.59 L965 389.56 L966 389.53 L967 389.51" fill="none" stroke="#ff00cc" stroke-width="1.5" stroke-dasharray="6.4 5.7"/>
<path d="M695 389.51 L696 389.44 L697 389.37 L698 389.3 L699 389.23 L700 389.17 L701 389.1 L702 389.03 L703 388.97 L704 388.9 L705 388.84 L706 388.78 L707 388.72 L708 388.65 L709 388.59 L710 388.53 L711 388.48 L712 388.42 L713 388.36 L714 388.3 L715 388.25 L716 388.19 L717 388.14 L718 388.09 L719 388.04 L720 387.99 L721 387.94 L722 387.89 L723 387.84 L724 387.8 L725 387.75 L726 387.71 L727 387.67 L728 387.62 L729 387.58 L730 387.54 L731 387.51 L732 387.47 L733 387.43 L734 387.39 L735 387.36 L736 387.32 L737 387.28 L738 387.24 L739 387.21 L740 387.17 L741 387.13 L742 387.1 L743 387.06 L744 387.02 L745 386.98 L746 386.94 L747 386.9 L748 386.85 L749 386.81 L750 386.76 L751 386.71 L752 386.65 L753 386.59 L754 386.53 L755 386.46 L756 386.4 L757 386.33 L758 386.26 L759 386.2 L760 386.13 L761 386.07 L762 386.01 L763 385.96 L764 385.91 L765 385.86 L766 385.82 L767 385.79 L768 385.76 L769 385.74 L770 385.73 L771 385.73 L772 385.73 L773 385.74 L774 385.74 L775 385.75 L776 385.77 L777 385.78 L778 385.79 L779 385.81 L780 385.83 L781 385.85 L782 385.87 L783 385.9 L784 385.92 L785 385.95 L786 385.98 L787 386.01 L788 386.05 L789 386.12 L790 386.2 L791 386.29 L792 386.4 L793 386.52 L794 386.65 L795 386.78 L796 386.92 L797 387.07 L798 387.21 L799 387.36 L800 387.5 L801 387.64 L802 387.77 L803 387.9 L804 388.01 L805 388.12 L806 388.22 L807 388.31 L808 388.41 L809 388.51 L810 388.61 L811 388.72 L812 388.84 L813 388.98 L814 389.12 L815 389.29 L816 389.48 L817 389.72 L818 390.06 L819 390.48 L820 390.96 L821 391.48 L822 392.01 L823 392.54 L824 393.04 L825 393.5 L826 393.95 L827 394.4 L828 394.85 L829 395.3 L830 395.75 L831 396.2 L832 396.65 L833 397.1 L834 397.55 L835 398 L836 398.46 L837 398.93 L838 399.41 L839 399.91 L840 400.4 L841 400.88 L842 401.35 L843 401.8 L844 402.23 L845 402.61 L846 402.96 L847 403.29 L848 403.61 L849 403.93 L850 404.24 L851 404.53 L852 404.8 L853 405.05 L854 405.27 L855 405.46 L856 405.6 L857 405.71 L858 405.79 L859 405.86 L860 405.94 L861 406 L862 406.06 L863 406.12 L864 406.16 L865 406.2 L866 406.22 L867 406.24 L868 406.24 L869 406.21 L870 406.15 L871 406.07 L872 405.96 L873 405.83 L874 405.68 L875 405.52 L876 405.35 L877 405.17 L878 404.98 L879 404.79 L880 404.54 L881 404.25 L882 403.92 L883 403.55 L884 403.15 L885 402.73 L886 402.29 L887 401.85 L888 401.41 L889 400.97 L890 400.52 L891 400.03 L892 399.51 L893 398.97 L894 398.43 L895 397.9 L896 397.4 L897 396.95 L898 396.55 L899 396.15 L900 395.76 L901 395.38 L902 395.03 L903 394.71 L904 394.43 L905 394.19 L906 394 L907 393.83 L908 393.67 L909 393.53 L910 393.4 L911 393.27 L912 393.16 L913 393.06 L914 392.96 L915 392.86 L916 392.77 L917 392.68 L918 392.6 L919 392.53 L920 392.45 L921 392.39 L922 392.32 L923 392.26 L924 392.2 L925 392.14 L926 392.08 L927 392.02 L928 391.96 L929 391.9 L930 391.84 L931 391.77 L932 391.7 L933 391.63 L934 391.55 L935 391.46 L936 391.38 L937 391.29 L938 391.2 L939 391.1 L940 391.01 L941 390.92 L942 390.83 L943 390.74 L944 390.65 L945 390.57 L946 390.49 L947 390.42 L948 390.36 L949 390.3 L950 390.24 L951 390.18 L952 390.13 L953 390.07 L954 390.02 L955 389.97 L956 389.92 L957 389.87 L958 389.82 L959 389.78 L960 389.74 L961 389.7 L962 389.66 L963 389.62 L964 389.59 L965 389.56 L966 389.53 L967 389.51" fill="none" stroke="#0000ff" stroke-width="1.5" stroke-dasharray="6.7 2.6 1.5 3"/>
<path d="M695 340.13 L698.24 343.63 L701.75 349.57 L705.79 352.81 L709.84 347.41 L712.54 345.52 L715.24 352.27 L718.75 359.02 L721.98 353.62 L724.68 346.87 L727.38 350.92 L731.43 348.22 L734.13 345.52 L736.02 333.92 L738.17 331.22 L740.87 344.17 L744.11 347.41 L746.81 349.03 L750.32 345.52 L753.83 347.41 L758.41 347.41 L762.46 345.52 L765.7 359.83 L768.4 345.52 L771.9 342.83 L774.6 344.71 L778.11 347.41 L781.89 343.63 L785.4 350.92 L788.9 347.41 L791.6 352.81 L794.84 341.48 L797.54 342.02 L799.7 352.27 L802.4 345.52 L805.63 357.13 L807.79 361.71 L811.03 347.41 L815.08 345.52 L817.78 346.87 L821.29 349.03 L824.52 344.17 L827.22 339.32 L829.92 338.24 L832.62 346.33 L835.32 363.6 L838.56 378.71 L842.06 373.32 L844.76 377.9 L847.46 376.02 L850.16 366.57 L852.86 372.51 L856.1 370.62 L859.6 359.02 L862.84 352.81 L866.35 348.22 L869.05 343.63 L871.75 342.02 L875.25 327.17 L877.95 328.79 L880.65 327.98 L883.89 319.89 L886.59 327.98 L889.29 333.92 L892.52 332.84 L896.03 340.94 L898.73 342.02 L901.43 337.43 L904.94 342.02 L908.17 342.83 L910.87 346.87 L913.57 340.94 L917.62 342.83 L920.32 346.33 L923.83 341.48 L927.06 345.52 L931.11 349.03 L935.16 346.87 L939.21 342.83 L943.25 347.41 L947.3 347.41 L951.35 341.48 L954.05 342.02 L957.29 347.41 L960.79 346.33 L963.49 349.03 L967 341.48" fill="none" stroke="#000" stroke-width="1.5" stroke-linejoin="round"/>
<path d="M695.5 347.53 H967.6" stroke="#000" stroke-width="1.35" stroke-dasharray="6.4 5.7" fill="none"/>
<path d="M816.16 494.15 V301.35" stroke="#000" stroke-width="1.35" stroke-dasharray="6.4 5.7" fill="none"/>
<path d="M909.79 494.15 V301.35" stroke="#000" stroke-width="1.35" stroke-dasharray="6.4 5.7" fill="none"/>
</g>
<path d="M699.39 494.15 v-2.2 M699.39 301.35 v2.2 M703.27 494.15 v-2.2 M703.27 301.35 v2.2 M707.16 494.15 v-2.2 M707.16 301.35 v2.2 M711.05 494.15 v-2.2 M711.05 301.35 v2.2 M714.94 494.15 v-4.6 M714.94 301.35 v4.6 M718.82 494.15 v-2.2 M718.82 301.35 v2.2 M722.71 494.15 v-2.2 M722.71 301.35 v2.2 M726.6 494.15 v-2.2 M726.6 301.35 v2.2 M730.48 494.15 v-2.2 M730.48 301.35 v2.2 M734.37 494.15 v-2.2 M734.37 301.35 v2.2 M738.26 494.15 v-2.2 M738.26 301.35 v2.2 M742.15 494.15 v-2.2 M742.15 301.35 v2.2 M746.03 494.15 v-2.2 M746.03 301.35 v2.2 M749.92 494.15 v-2.2 M749.92 301.35 v2.2 M753.81 494.15 v-4.6 M753.81 301.35 v4.6 M757.69 494.15 v-2.2 M757.69 301.35 v2.2 M761.58 494.15 v-2.2 M761.58 301.35 v2.2 M765.47 494.15 v-2.2 M765.47 301.35 v2.2 M769.36 494.15 v-2.2 M769.36 301.35 v2.2 M773.24 494.15 v-2.2 M773.24 301.35 v2.2 M777.13 494.15 v-2.2 M777.13 301.35 v2.2 M781.02 494.15 v-2.2 M781.02 301.35 v2.2 M784.9 494.15 v-2.2 M784.9 301.35 v2.2 M788.79 494.15 v-2.2 M788.79 301.35 v2.2 M792.68 494.15 v-4.6 M792.68 301.35 v4.6 M796.57 494.15 v-2.2 M796.57 301.35 v2.2 M800.45 494.15 v-2.2 M800.45 301.35 v2.2 M804.34 494.15 v-2.2 M804.34 301.35 v2.2 M808.23 494.15 v-2.2 M808.23 301.35 v2.2 M812.11 494.15 v-2.2 M812.11 301.35 v2.2 M816 494.15 v-2.2 M816 301.35 v2.2 M819.89 494.15 v-2.2 M819.89 301.35 v2.2 M823.78 494.15 v-2.2 M823.78 301.35 v2.2 M827.66 494.15 v-2.2 M827.66 301.35 v2.2 M831.55 494.15 v-4.6 M831.55 301.35 v4.6 M835.44 494.15 v-2.2 M835.44 301.35 v2.2 M839.32 494.15 v-2.2 M839.32 301.35 v2.2 M843.21 494.15 v-2.2 M843.21 301.35 v2.2 M847.1 494.15 v-2.2 M847.1 301.35 v2.2 M850.99 494.15 v-2.2 M850.99 301.35 v2.2 M854.87 494.15 v-2.2 M854.87 301.35 v2.2 M858.76 494.15 v-2.2 M858.76 301.35 v2.2 M862.65 494.15 v-2.2 M862.65 301.35 v2.2 M866.53 494.15 v-2.2 M866.53 301.35 v2.2 M870.42 494.15 v-4.6 M870.42 301.35 v4.6 M874.31 494.15 v-2.2 M874.31 301.35 v2.2 M878.2 494.15 v-2.2 M878.2 301.35 v2.2 M882.08 494.15 v-2.2 M882.08 301.35 v2.2 M885.97 494.15 v-2.2 M885.97 301.35 v2.2 M889.86 494.15 v-2.2 M889.86 301.35 v2.2 M893.74 494.15 v-2.2 M893.74 301.35 v2.2 M897.63 494.15 v-2.2 M897.63 301.35 v2.2 M901.52 494.15 v-2.2 M901.52 301.35 v2.2 M905.41 494.15 v-2.2 M905.41 301.35 v2.2 M909.29 494.15 v-4.6 M909.29 301.35 v4.6 M913.18 494.15 v-2.2 M913.18 301.35 v2.2 M917.07 494.15 v-2.2 M917.07 301.35 v2.2 M920.95 494.15 v-2.2 M920.95 301.35 v2.2 M924.84 494.15 v-2.2 M924.84 301.35 v2.2 M928.73 494.15 v-2.2 M928.73 301.35 v2.2 M932.62 494.15 v-2.2 M932.62 301.35 v2.2 M936.5 494.15 v-2.2 M936.5 301.35 v2.2 M940.39 494.15 v-2.2 M940.39 301.35 v2.2 M944.28 494.15 v-2.2 M944.28 301.35 v2.2 M948.16 494.15 v-4.6 M948.16 301.35 v4.6 M952.05 494.15 v-2.2 M952.05 301.35 v2.2 M955.94 494.15 v-2.2 M955.94 301.35 v2.2 M959.83 494.15 v-2.2 M959.83 301.35 v2.2 M963.71 494.15 v-2.2 M963.71 301.35 v2.2 M695.5 483.64 h2.8 M967.6 483.64 h-2.8 M695.5 473.17 h5.8 M967.6 473.17 h-5.8 M695.5 462.7 h2.8 M967.6 462.7 h-2.8 M695.5 452.23 h2.8 M967.6 452.23 h-2.8 M695.5 441.76 h2.8 M967.6 441.76 h-2.8 M695.5 431.29 h5.8 M967.6 431.29 h-5.8 M695.5 420.82 h2.8 M967.6 420.82 h-2.8 M695.5 410.35 h2.8 M967.6 410.35 h-2.8 M695.5 399.88 h2.8 M967.6 399.88 h-2.8 M695.5 389.41 h5.8 M967.6 389.41 h-5.8 M695.5 378.94 h2.8 M967.6 378.94 h-2.8 M695.5 368.47 h2.8 M967.6 368.47 h-2.8 M695.5 358 h2.8 M967.6 358 h-2.8 M695.5 347.53 h5.8 M967.6 347.53 h-5.8 M695.5 337.06 h2.8 M967.6 337.06 h-2.8 M695.5 326.59 h2.8 M967.6 326.59 h-2.8 M695.5 316.12 h2.8 M967.6 316.12 h-2.8 M695.5 305.65 h5.8 M967.6 305.65 h-5.8" stroke="#000" stroke-width="1.4" fill="none"/>
<rect x="695.5" y="301.35" width="272.1" height="192.8" fill="none" stroke="#000" stroke-width="1.6"/>
<text x="760.55" y="292.35" font-family="Liberation Sans, sans-serif" class="t21" font-size="21.2" textLength="53" lengthAdjust="spacingAndGlyphs">2012</text>
<path d="M816.45 285.95 h12.2" stroke="#000" stroke-width="1.35"/>
<text x="831.55" y="292.35" font-family="Liberation Sans, sans-serif" class="t21" font-size="21.2" textLength="26.2" lengthAdjust="spacingAndGlyphs">01</text>
<path d="M860.65 285.95 h12.2" stroke="#000" stroke-width="1.35"/>
<text x="875.75" y="292.35" font-family="Liberation Sans, sans-serif" class="t21" font-size="21.2" textLength="26.2" lengthAdjust="spacingAndGlyphs">17</text>
<clipPath id="c20"><rect x="110.9" y="537.45" width="272.1" height="192.8"/></clipPath>
<g clip-path="url(#c20)">
<rect x="110.9" y="574.78" width="272.1" height="17" fill="#d9bebe"/>
<g fill="none" stroke="#000" stroke-width="1.45">
<circle cx="111.7" cy="628.21" r="3.25"/>
<circle cx="114.45" cy="628.24" r="3.25"/>
<circle cx="117.2" cy="628.31" r="3.25"/>
<circle cx="119.95" cy="628.41" r="3.25"/>
<circle cx="122.7" cy="628.53" r="3.25"/>
<circle cx="125.45" cy="628.66" r="3.25"/>
<circle cx="128.2" cy="628.8" r="3.25"/>
<circle cx="130.95" cy="629.01" r="3.25"/>
<circle cx="133.7" cy="629.28" r="3.25"/>
<circle cx="136.45" cy="629.59" r="3.25"/>
<circle cx="139.2" cy="629.92" r="3.25"/>
<circle cx="141.95" cy="630.25" r="3.25"/>
<circle cx="144.7" cy="630.61" r="3.25"/>
<circle cx="147.45" cy="631.02" r="3.25"/>
<circle cx="150.2" cy="631.48" r="3.25"/>
<circle cx="152.95" cy="632.02" r="3.25"/>
<circle cx="155.7" cy="632.69" r="3.25"/>
<circle cx="158.45" cy="633.49" r="3.25"/>
<circle cx="161.2" cy="634.45" r="3.25"/>
<circle cx="163.95" cy="635.58" r="3.25"/>
<circle cx="166.7" cy="636.83" r="3.25"/>
<circle cx="169.45" cy="638.19" r="3.25"/>
<circle cx="172.2" cy="639.75" r="3.25"/>
<circle cx="174.95" cy="641.62" r="3.25"/>
<circle cx="177.7" cy="644.06" r="3.25"/>
<circle cx="180.45" cy="647.38" r="3.25"/>
<circle cx="183.2" cy="651.08" r="3.25"/>
<circle cx="185.95" cy="654.72" r="3.25"/>
<circle cx="188.7" cy="658.48" r="3.25"/>
<circle cx="191.45" cy="662.38" r="3.25"/>
<circle cx="194.2" cy="666.37" r="3.25"/>
<circle cx="196.95" cy="670.53" r="3.25"/>
<circle cx="199.7" cy="674.78" r="3.25"/>
<circle cx="202.45" cy="678.9" r="3.25"/>
<circle cx="205.2" cy="682.91" r="3.25"/>
<circle cx="207.95" cy="686.83" r="3.25"/>
<circle cx="210.7" cy="690.5" r="3.25"/>
<circle cx="213.45" cy="693.77" r="3.25"/>
<circle cx="216.2" cy="696.75" r="3.25"/>
<circle cx="218.95" cy="699.63" r="3.25"/>
<circle cx="221.7" cy="702.65" r="3.25"/>
<circle cx="224.45" cy="705.81" r="3.25"/>
<circle cx="227.2" cy="708.49" r="3.25"/>
<circle cx="229.95" cy="710.55" r="3.25"/>
<circle cx="232.7" cy="712.32" r="3.25"/>
<circle cx="235.45" cy="713.93" r="3.25"/>
<circle cx="238.2" cy="715.48" r="3.25"/>
<circle cx="240.95" cy="716.87" r="3.25"/>
<circle cx="243.7" cy="717.96" r="3.25"/>
<circle cx="246.45" cy="718.96" r="3.25"/>
<circle cx="249.2" cy="719.73" r="3.25"/>
<circle cx="251.95" cy="719.95" r="3.25"/>
<circle cx="254.7" cy="719.95" r="3.25"/>
<circle cx="257.45" cy="719.95" r="3.25"/>
<circle cx="260.2" cy="719.9" r="3.25"/>
<circle cx="262.95" cy="719.11" r="3.25"/>
<circle cx="265.7" cy="717.96" r="3.25"/>
<circle cx="268.45" cy="716.85" r="3.25"/>
<circle cx="271.2" cy="715.66" r="3.25"/>
<circle cx="273.95" cy="714.85" r="3.25"/>
<circle cx="276.7" cy="714.37" r="3.25"/>
<circle cx="279.45" cy="713.8" r="3.25"/>
<circle cx="282.2" cy="712.85" r="3.25"/>
<circle cx="284.95" cy="711.13" r="3.25"/>
<circle cx="287.7" cy="705.75" r="3.25"/>
<circle cx="290.45" cy="699.59" r="3.25"/>
<circle cx="293.2" cy="695.34" r="3.25"/>
<circle cx="295.95" cy="692.02" r="3.25"/>
<circle cx="298.7" cy="688.66" r="3.25"/>
<circle cx="301.45" cy="685.39" r="3.25"/>
<circle cx="304.2" cy="682.23" r="3.25"/>
<circle cx="306.95" cy="679.22" r="3.25"/>
<circle cx="309.7" cy="676.09" r="3.25"/>
<circle cx="312.45" cy="672.59" r="3.25"/>
<circle cx="315.2" cy="668.75" r="3.25"/>
<circle cx="317.95" cy="664.76" r="3.25"/>
<circle cx="320.7" cy="660.73" r="3.25"/>
<circle cx="323.45" cy="656.58" r="3.25"/>
<circle cx="326.2" cy="652.12" r="3.25"/>
<circle cx="328.95" cy="647.68" r="3.25"/>
<circle cx="331.7" cy="644.23" r="3.25"/>
<circle cx="334.45" cy="641.37" r="3.25"/>
<circle cx="337.2" cy="638.92" r="3.25"/>
<circle cx="339.95" cy="636.81" r="3.25"/>
<circle cx="342.7" cy="635.28" r="3.25"/>
<circle cx="345.45" cy="634.11" r="3.25"/>
<circle cx="348.2" cy="633.14" r="3.25"/>
<circle cx="350.95" cy="632.31" r="3.25"/>
<circle cx="353.7" cy="631.58" r="3.25"/>
<circle cx="356.45" cy="630.93" r="3.25"/>
<circle cx="359.2" cy="630.35" r="3.25"/>
<circle cx="361.95" cy="629.83" r="3.25"/>
<circle cx="364.7" cy="629.36" r="3.25"/>
<circle cx="367.45" cy="628.95" r="3.25"/>
<circle cx="370.2" cy="628.56" r="3.25"/>
<circle cx="372.95" cy="628.18" r="3.25"/>
<circle cx="375.7" cy="627.8" r="3.25"/>
<circle cx="378.45" cy="627.43" r="3.25"/>
<circle cx="381.2" cy="627.08" r="3.25"/>
</g>
<path d="M111 625.51 L112 625.51 L113 625.52 L114 625.53 L115 625.55 L116 625.58 L117 625.6 L118 625.63 L119 625.67 L120 625.71 L121 625.75 L122 625.79 L123 625.84 L124 625.89 L125 625.94 L126 625.99 L127 626.04 L128 626.09 L129 626.16 L130 626.24 L131 626.33 L132 626.43 L133 626.54 L134 626.65 L135 626.77 L136 626.9 L137 627.03 L138 627.17 L139 627.31 L140 627.45 L141 627.59 L142 627.74 L143 627.88 L144 628.02 L145 628.17 L146 628.31 L147 628.46 L148 628.62 L149 628.78 L150 628.94 L151 629.12 L152 629.3 L153 629.5 L154 629.7 L155 629.92 L156 630.15 L157 630.4 L158 630.67 L159 630.97 L160 631.3 L161 631.66 L162 632.05 L163 632.46 L164 632.89 L165 633.35 L166 633.83 L167 634.34 L168 634.86 L169 635.44 L170 636.07 L171 636.76 L172 637.5 L173 638.28 L174 639.1 L175 639.95 L176 640.83 L177 641.79 L178 642.82 L179 643.92 L180 645.08 L181 646.27 L182 647.49 L183 648.73 L184 649.97 L185 651.25 L186 652.57 L187 653.94 L188 655.33 L189 656.73 L190 658.14 L191 659.54 L192 660.92 L193 662.3 L194 663.7 L195 665.11 L196 666.52 L197 667.91 L198 669.27 L199 670.59 L200 671.86 L201 673.09 L202 674.29 L203 675.47 L204 676.62 L205 677.74 L206 678.84 L207 679.91 L208 680.95 L209 681.97 L210 682.98 L211 683.97 L212 684.94 L213 685.88 L214 686.78 L215 687.65 L216 688.46 L217 689.23 L218 689.96 L219 690.65 L220 691.31 L221 691.96 L222 692.59 L223 693.21 L224 693.84 L225 694.47 L226 695.11 L227 695.74 L228 696.37 L229 696.98 L230 697.58 L231 698.15 L232 698.69 L233 699.19 L234 699.68 L235 700.15 L236 700.6 L237 701.03 L238 701.45 L239 701.85 L240 702.22 L241 702.58 L242 702.92 L243 703.25 L244 703.57 L245 703.87 L246 704.16 L247 704.43 L248 704.69 L249 704.93 L250 705.18 L251 705.43 L252 705.67 L253 705.9 L254 706.1 L255 706.27 L256 706.4 L257 706.48 L258 706.54 L259 706.6 L260 706.65 L261 706.69 L262 706.71 L263 706.73 L264 706.72 L265 706.65 L266 706.52 L267 706.35 L268 706.15 L269 705.93 L270 705.7 L271 705.44 L272 705.11 L273 704.72 L274 704.28 L275 703.8 L276 703.3 L277 702.8 L278 702.29 L279 701.8 L280 701.29 L281 700.78 L282 700.24 L283 699.68 L284 699.09 L285 698.48 L286 697.82 L287 697.13 L288 696.37 L289 695.56 L290 694.7 L291 693.81 L292 692.89 L293 691.95 L294 691 L295 690.06 L296 689.08 L297 688.07 L298 687.04 L299 686 L300 684.94 L301 683.87 L302 682.8 L303 681.74 L304 680.68 L305 679.63 L306 678.58 L307 677.51 L308 676.41 L309 675.28 L310 674.11 L311 672.87 L312 671.56 L313 670.19 L314 668.77 L315 667.31 L316 665.82 L317 664.32 L318 662.82 L319 661.34 L320 659.84 L321 658.33 L322 656.8 L323 655.26 L324 653.73 L325 652.21 L326 650.68 L327 649.1 L328 647.51 L329 645.96 L330 644.51 L331 643.22 L332 642.07 L333 640.99 L334 639.99 L335 639.05 L336 638.18 L337 637.37 L338 636.57 L339 635.8 L340 635.08 L341 634.43 L342 633.85 L343 633.36 L344 632.95 L345 632.56 L346 632.21 L347 631.88 L348 631.58 L349 631.29 L350 631.02 L351 630.77 L352 630.53 L353 630.29 L354 630.06 L355 629.84 L356 629.63 L357 629.43 L358 629.24 L359 629.05 L360 628.87 L361 628.69 L362 628.52 L363 628.36 L364 628.2 L365 628.04 L366 627.88 L367 627.72 L368 627.57 L369 627.41 L370 627.26 L371 627.11 L372 626.96 L373 626.81 L374 626.67 L375 626.53 L376 626.39 L377 626.26 L378 626.12 L379 626 L380 625.87 L381 625.75 L382 625.62 L383 625.51" fill="none" stroke="#ff0000" stroke-width="1.6" stroke-linejoin="round"/>
<path d="M111 625.51 L112 625.48 L113 625.45 L114 625.43 L115 625.4 L116 625.38 L117 625.36 L118 625.35 L119 625.33 L120 625.32 L121 625.31 L122 625.29 L123 625.28 L124 625.28 L125 625.27 L126 625.26 L127 625.26 L128 625.25 L129 625.25 L130 625.25 L131 625.24 L132 625.24 L133 625.24 L134 625.24 L135 625.24 L136 625.24 L137 625.24 L138 625.24 L139 625.24 L140 625.25 L141 625.26 L142 625.27 L143 625.29 L144 625.32 L145 625.34 L146 625.37 L147 625.41 L148 625.44 L149 625.48 L150 625.53 L151 625.57 L152 625.62 L153 625.67 L154 625.72 L155 625.78 L156 625.83 L157 625.89 L158 625.95 L159 626.01 L160 626.08 L161 626.17 L162 626.3 L163 626.44 L164 626.61 L165 626.78 L166 626.97 L167 627.15 L168 627.33 L169 627.5 L170 627.65 L171 627.77 L172 627.87 L173 627.93 L174 627.97 L175 628.01 L176 628.05 L177 628.08 L178 628.11 L179 628.14 L180 628.16 L181 628.18 L182 628.2 L183 628.2 L184 628.21 L185 628.2 L186 628.18 L187 628.15 L188 628.12 L189 628.08 L190 628.04 L191 628.01 L192 627.98 L193 627.95 L194 627.94 L195 627.94 L196 627.99 L197 628.1 L198 628.25 L199 628.42 L200 628.6 L201 628.79 L202 628.96 L203 629.11 L204 629.22 L205 629.28 L206 629.28 L207 629.26 L208 629.22 L209 629.16 L210 629.09 L211 629.01 L212 628.91 L213 628.81 L214 628.71 L215 628.6 L216 628.5 L217 628.39 L218 628.29 L219 628.2 L220 628.11 L221 628 L222 627.9 L223 627.79 L224 627.67 L225 627.56 L226 627.44 L227 627.33 L228 627.23 L229 627.13 L230 627.03 L231 626.95 L232 626.88 L233 626.82 L234 626.77 L235 626.71 L236 626.65 L237 626.6 L238 626.55 L239 626.5 L240 626.45 L241 626.42 L242 626.38 L243 626.35 L244 626.33 L245 626.32 L246 626.32 L247 626.32 L248 626.32 L249 626.32 L250 626.32 L251 626.32 L252 626.32 L253 626.32 L254 626.32 L255 626.32 L256 626.32 L257 626.32 L258 626.32 L259 626.32 L260 626.32 L261 626.34 L262 626.39 L263 626.45 L264 626.53 L265 626.63 L266 626.75 L267 626.88 L268 627.03 L269 627.19 L270 627.36 L271 627.59 L272 627.96 L273 628.44 L274 629.02 L275 629.68 L276 630.42 L277 631.49 L278 632.77 L279 634.01 L280 635.02 L281 636.04 L282 636.93 L283 637.37 L284 637.06 L285 636.12 L286 635.04 L287 634.18 L288 633.35 L289 632.53 L290 631.76 L291 631.05 L292 630.33 L293 629.62 L294 628.94 L295 628.33 L296 627.82 L297 627.45 L298 627.2 L299 626.98 L300 626.8 L301 626.63 L302 626.49 L303 626.36 L304 626.22 L305 626.09 L306 625.95 L307 625.8 L308 625.66 L309 625.53 L310 625.39 L311 625.27 L312 625.14 L313 625.02 L314 624.91 L315 624.8 L316 624.71 L317 624.61 L318 624.51 L319 624.41 L320 624.31 L321 624.21 L322 624.12 L323 624.04 L324 623.98 L325 623.93 L326 623.9 L327 623.89 L328 623.89 L329 623.9 L330 623.92 L331 623.94 L332 623.97 L333 624 L334 624.04 L335 624.08 L336 624.12 L337 624.16 L338 624.21 L339 624.25 L340 624.3 L341 624.34 L342 624.38 L343 624.43 L344 624.47 L345 624.52 L346 624.57 L347 624.63 L348 624.68 L349 624.74 L350 624.8 L351 624.87 L352 624.93 L353 624.98 L354 625.04 L355 625.09 L356 625.13 L357 625.17 L358 625.21 L359 625.23 L360 625.25 L361 625.27 L362 625.29 L363 625.31 L364 625.32 L365 625.34 L366 625.36 L367 625.37 L368 625.39 L369 625.4 L370 625.42 L371 625.43 L372 625.44 L373 625.45 L374 625.46 L375 625.47 L376 625.48 L377 625.49 L378 625.49 L379 625.5 L380 625.5 L381 625.51 L382 625.51 L383 625.51" fill="none" stroke="#ff00cc" stroke-width="1.5" stroke-dasharray="6.4 5.7"/>
<path d="M111 625.51 L112 625.48 L113 625.45 L114 625.43 L115 625.4 L116 625.38 L117 625.36 L118 625.35 L119 625.33 L120 625.32 L121 625.31 L122 625.29 L123 625.28 L124 625.28 L125 625.27 L126 625.26 L127 625.26 L128 625.25 L129 625.25 L130 625.25 L131 625.24 L132 625.24 L133 625.24 L134 625.24 L135 625.24 L136 625.24 L137 625.24 L138 625.24 L139 625.24 L140 625.24 L141 625.25 L142 625.26 L143 625.28 L144 625.3 L145 625.32 L146 625.34 L147 625.36 L148 625.39 L149 625.42 L150 625.45 L151 625.48 L152 625.51 L153 625.55 L154 625.59 L155 625.63 L156 625.67 L157 625.71 L158 625.75 L159 625.79 L160 625.83 L161 625.88 L162 625.92 L163 625.96 L164 626.01 L165 626.05 L166 626.09 L167 626.14 L168 626.2 L169 626.26 L170 626.32 L171 626.38 L172 626.45 L173 626.52 L174 626.59 L175 626.67 L176 626.75 L177 626.83 L178 626.91 L179 626.99 L180 627.07 L181 627.16 L182 627.24 L183 627.32 L184 627.41 L185 627.49 L186 627.57 L187 627.64 L188 627.72 L189 627.8 L190 627.88 L191 627.96 L192 628.06 L193 628.16 L194 628.27 L195 628.4 L196 628.53 L197 628.69 L198 628.88 L199 629.16 L200 629.53 L201 629.95 L202 630.41 L203 630.89 L204 631.36 L205 631.8 L206 632.21 L207 632.62 L208 633.03 L209 633.45 L210 633.87 L211 634.29 L212 634.7 L213 635.1 L214 635.49 L215 635.86 L216 636.22 L217 636.56 L218 636.91 L219 637.26 L220 637.6 L221 637.94 L222 638.26 L223 638.57 L224 638.85 L225 639.11 L226 639.34 L227 639.53 L228 639.71 L229 639.89 L230 640.06 L231 640.23 L232 640.39 L233 640.53 L234 640.66 L235 640.76 L236 640.83 L237 640.88 L238 640.89 L239 640.89 L240 640.89 L241 640.89 L242 640.89 L243 640.89 L244 640.89 L245 640.89 L246 640.89 L247 640.89 L248 640.89 L249 640.89 L250 640.87 L251 640.84 L252 640.78 L253 640.72 L254 640.64 L255 640.55 L256 640.46 L257 640.35 L258 640.24 L259 640.13 L260 640.01 L261 639.85 L262 639.67 L263 639.46 L264 639.23 L265 638.97 L266 638.69 L267 638.4 L268 638.09 L269 637.78 L270 637.45 L271 637.1 L272 636.7 L273 636.26 L274 635.79 L275 635.29 L276 634.78 L277 634.26 L278 633.75 L279 633.24 L280 632.69 L281 632.12 L282 631.53 L283 630.96 L284 630.4 L285 629.89 L286 629.44 L287 629.06 L288 628.68 L289 628.32 L290 627.98 L291 627.67 L292 627.39 L293 627.14 L294 626.94 L295 626.78 L296 626.64 L297 626.51 L298 626.39 L299 626.29 L300 626.19 L301 626.1 L302 626.01 L303 625.93 L304 625.85 L305 625.76 L306 625.68 L307 625.6 L308 625.51 L309 625.41 L310 625.31 L311 625.2 L312 625.09 L313 624.98 L314 624.86 L315 624.75 L316 624.63 L317 624.53 L318 624.42 L319 624.32 L320 624.23 L321 624.14 L322 624.07 L323 624.01 L324 623.96 L325 623.92 L326 623.9 L327 623.89 L328 623.89 L329 623.9 L330 623.92 L331 623.94 L332 623.97 L333 624 L334 624.04 L335 624.08 L336 624.12 L337 624.16 L338 624.21 L339 624.25 L340 624.3 L341 624.34 L342 624.38 L343 624.43 L344 624.47 L345 624.52 L346 624.57 L347 624.63 L348 624.68 L349 624.74 L350 624.8 L351 624.87 L352 624.93 L353 624.98 L354 625.04 L355 625.09 L356 625.13 L357 625.17 L358 625.21 L359 625.23 L360 625.25 L361 625.27 L362 625.29 L363 625.31 L364 625.32 L365 625.34 L366 625.36 L367 625.37 L368 625.39 L369 625.4 L370 625.42 L371 625.43 L372 625.44 L373 625.45 L374 625.46 L375 625.47 L376 625.48 L377 625.49 L378 625.49 L379 625.5 L380 625.5 L381 625.51 L382 625.51 L383 625.51" fill="none" stroke="#0000ff" stroke-width="1.5" stroke-dasharray="6.7 2.6 1.5 3"/>
<path d="M111 588.81 L114.24 581.52 L116.94 576.13 L119.63 585.57 L123.14 577.48 L125.84 576.94 L129.35 587.73 L132.59 580.17 L135.83 589.62 L139.33 588.81 L142.84 581.52 L146.08 582.33 L149.32 586.92 L152.02 585.03 L154.71 588.81 L158.22 582.87 L161.73 579.63 L164.43 597.71 L167.13 602.57 L170.37 593.67 L173.6 588.27 L176.3 593.13 L179 589.62 L181.7 592.32 L184.4 586.92 L187.37 578.83 L189.79 583.41 L192.49 578.02 L196 590.97 L198.7 589.62 L201.4 576.94 L204.1 574.24 L206.79 580.17 L209.49 597.71 L213 604.46 L215.7 617.14 L218.13 620.11 L221.1 602.57 L224.33 596.37 L227.57 587.73 L229.73 594.21 L232.97 586.92 L236.48 588.27 L239.98 582.87 L243.22 578.02 L245.92 577.48 L249.16 568.84 L251.86 574.78 L255.37 569.38 L258.87 565.33 L260.76 568.84 L263.46 561.83 L266.16 569.92 L268.86 569.38 L271.56 561.29 L274.25 574.24 L276.95 574.78 L279.65 568.84 L282.35 580.17 L285.05 583.41 L287.75 582.87 L291.25 589.62 L294.49 577.48 L297.19 573.43 L300.43 571.54 L303.94 572.08 L306.63 581.52 L309.33 586.11 L312.84 590.97 L316.08 576.13 L320.94 570.73 L324.17 595.83 L326.87 600.41 L330.11 602.57 L332.81 595.02 L336.32 596.9 L339.83 587.73 L343.06 585.03 L347.11 584.22 L349.81 576.94 L352.51 580.17 L356.56 589.62 L360.6 594.48 L364.65 592.32 L367.35 589.62 L370.05 572.08 L371.94 566.14 L374.9 581.52 L378.14 589.62 L380.84 582.87 L383 581.52" fill="none" stroke="#000" stroke-width="1.5" stroke-linejoin="round"/>
<path d="M110.9 583.63 H383" stroke="#000" stroke-width="1.35" stroke-dasharray="6.4 5.7" fill="none"/>
<path d="M198.16 730.25 V537.45" stroke="#000" stroke-width="1.35" stroke-dasharray="6.4 5.7" fill="none"/>
<path d="M291.52 730.25 V537.45" stroke="#000" stroke-width="1.35" stroke-dasharray="6.4 5.7" fill="none"/>
</g>
<path d="M114.79 730.25 v-2.2 M114.79 537.45 v2.2 M118.67 730.25 v-2.2 M118.67 537.45 v2.2 M122.56 730.25 v-2.2 M122.56 537.45 v2.2 M126.45 730.25 v-2.2 M126.45 537.45 v2.2 M130.34 730.25 v-4.6 M130.34 537.45 v4.6 M134.22 730.25 v-2.2 M134.22 537.45 v2.2 M138.11 730.25 v-2.2 M138.11 537.45 v2.2 M142 730.25 v-2.2 M142 537.45 v2.2 M145.88 730.25 v-2.2 M145.88 537.45 v2.2 M149.77 730.25 v-2.2 M149.77 537.45 v2.2 M153.66 730.25 v-2.2 M153.66 537.45 v2.2 M157.55 730.25 v-2.2 M157.55 537.45 v2.2 M161.43 730.25 v-2.2 M161.43 537.45 v2.2 M165.32 730.25 v-2.2 M165.32 537.45 v2.2 M169.21 730.25 v-4.6 M169.21 537.45 v4.6 M173.09 730.25 v-2.2 M173.09 537.45 v2.2 M176.98 730.25 v-2.2 M176.98 537.45 v2.2 M180.87 730.25 v-2.2 M180.87 537.45 v2.2 M184.76 730.25 v-2.2 M184.76 537.45 v2.2 M188.64 730.25 v-2.2 M188.64 537.45 v2.2 M192.53 730.25 v-2.2 M192.53 537.45 v2.2 M196.42 730.25 v-2.2 M196.42 537.45 v2.2 M200.3 730.25 v-2.2 M200.3 537.45 v2.2 M204.19 730.25 v-2.2 M204.19 537.45 v2.2 M208.08 730.25 v-4.6 M208.08 537.45 v4.6 M211.97 730.25 v-2.2 M211.97 537.45 v2.2 M215.85 730.25 v-2.2 M215.85 537.45 v2.2 M219.74 730.25 v-2.2 M219.74 537.45 v2.2 M223.63 730.25 v-2.2 M223.63 537.45 v2.2 M227.51 730.25 v-2.2 M227.51 537.45 v2.2 M231.4 730.25 v-2.2 M231.4 537.45 v2.2 M235.29 730.25 v-2.2 M235.29 537.45 v2.2 M239.18 730.25 v-2.2 M239.18 537.45 v2.2 M243.06 730.25 v-2.2 M243.06 537.45 v2.2 M246.95 730.25 v-4.6 M246.95 537.45 v4.6 M250.84 730.25 v-2.2 M250.84 537.45 v2.2 M254.72 730.25 v-2.2 M254.72 537.45 v2.2 M258.61 730.25 v-2.2 M258.61 537.45 v2.2 M262.5 730.25 v-2.2 M262.5 537.45 v2.2 M266.39 730.25 v-2.2 M266.39 537.45 v2.2 M270.27 730.25 v-2.2 M270.27 537.45 v2.2 M274.16 730.25 v-2.2 M274.16 537.45 v2.2 M278.05 730.25 v-2.2 M278.05 537.45 v2.2 M281.93 730.25 v-2.2 M281.93 537.45 v2.2 M285.82 730.25 v-4.6 M285.82 537.45 v4.6 M289.71 730.25 v-2.2 M289.71 537.45 v2.2 M293.6 730.25 v-2.2 M293.6 537.45 v2.2 M297.48 730.25 v-2.2 M297.48 537.45 v2.2 M301.37 730.25 v-2.2 M301.37 537.45 v2.2 M305.26 730.25 v-2.2 M305.26 537.45 v2.2 M309.14 730.25 v-2.2 M309.14 537.45 v2.2 M313.03 730.25 v-2.2 M313.03 537.45 v2.2 M316.92 730.25 v-2.2 M316.92 537.45 v2.2 M320.81 730.25 v-2.2 M320.81 537.45 v2.2 M324.69 730.25 v-4.6 M324.69 537.45 v4.6 M328.58 730.25 v-2.2 M328.58 537.45 v2.2 M332.47 730.25 v-2.2 M332.47 537.45 v2.2 M336.35 730.25 v-2.2 M336.35 537.45 v2.2 M340.24 730.25 v-2.2 M340.24 537.45 v2.2 M344.13 730.25 v-2.2 M344.13 537.45 v2.2 M348.02 730.25 v-2.2 M348.02 537.45 v2.2 M351.9 730.25 v-2.2 M351.9 537.45 v2.2 M355.79 730.25 v-2.2 M355.79 537.45 v2.2 M359.68 730.25 v-2.2 M359.68 537.45 v2.2 M363.56 730.25 v-4.6 M363.56 537.45 v4.6 M367.45 730.25 v-2.2 M367.45 537.45 v2.2 M371.34 730.25 v-2.2 M371.34 537.45 v2.2 M375.23 730.25 v-2.2 M375.23 537.45 v2.2 M379.11 730.25 v-2.2 M379.11 537.45 v2.2 M110.9 719.74 h2.8 M383 719.74 h-2.8 M110.9 709.27 h5.8 M383 709.27 h-5.8 M110.9 698.8 h2.8 M383 698.8 h-2.8 M110.9 688.33 h2.8 M383 688.33 h-2.8 M110.9 677.86 h2.8 M383 677.86 h-2.8 M110.9 667.39 h5.8 M383 667.39 h-5.8 M110.9 656.92 h2.8 M383 656.92 h-2.8 M110.9 646.45 h2.8 M383 646.45 h-2.8 M110.9 635.98 h2.8 M383 635.98 h-2.8 M110.9 625.51 h5.8 M383 625.51 h-5.8 M110.9 615.04 h2.8 M383 615.04 h-2.8 M110.9 604.57 h2.8 M383 604.57 h-2.8 M110.9 594.1 h2.8 M383 594.1 h-2.8 M110.9 583.63 h5.8 M383 583.63 h-5.8 M110.9 573.16 h2.8 M383 573.16 h-2.8 M110.9 562.69 h2.8 M383 562.69 h-2.8 M110.9 552.22 h2.8 M383 552.22 h-2.8 M110.9 541.75 h5.8 M383 541.75 h-5.8" stroke="#000" stroke-width="1.4" fill="none"/>
<rect x="110.9" y="537.45" width="272.1" height="192.8" fill="none" stroke="#000" stroke-width="1.6"/>
<text x="175.95" y="528.45" font-family="Liberation Sans, sans-serif" class="t21" font-size="21.2" textLength="53" lengthAdjust="spacingAndGlyphs">2010</text>
<path d="M231.85 522.05 h12.2" stroke="#000" stroke-width="1.35"/>
<text x="246.95" y="528.45" font-family="Liberation Sans, sans-serif" class="t21" font-size="21.2" textLength="26.2" lengthAdjust="spacingAndGlyphs">02</text>
<path d="M276.05 522.05 h12.2" stroke="#000" stroke-width="1.35"/>
<text x="291.15" y="528.45" font-family="Liberation Sans, sans-serif" class="t21" font-size="21.2" textLength="26.2" lengthAdjust="spacingAndGlyphs">01</text>
<text x="104.4" y="716.87" font-family="Liberation Sans, sans-serif" class="t16" font-size="16.8" text-anchor="end" textLength="24.2" lengthAdjust="spacingAndGlyphs">0.6</text>
<text x="104.4" y="674.99" font-family="Liberation Sans, sans-serif" class="t16" font-size="16.8" text-anchor="end" textLength="24.2" lengthAdjust="spacingAndGlyphs">0.8</text>
<text x="104.4" y="633.11" font-family="Liberation Sans, sans-serif" class="t16" font-size="16.8" text-anchor="end" textLength="24.2" lengthAdjust="spacingAndGlyphs">1.0</text>
<text x="104.4" y="591.23" font-family="Liberation Sans, sans-serif" class="t16" font-size="16.8" text-anchor="end" textLength="24.2" lengthAdjust="spacingAndGlyphs">1.2</text>
<text x="104.4" y="549.35" font-family="Liberation Sans, sans-serif" class="t16" font-size="16.8" text-anchor="end" textLength="24.2" lengthAdjust="spacingAndGlyphs">1.4</text>
<clipPath id="c21"><rect x="403.3" y="537.45" width="272.1" height="192.8"/></clipPath>
<g clip-path="url(#c21)">
<rect x="403.3" y="576.67" width="272.1" height="13.76" fill="#d9bebe"/>
<g fill="none" stroke="#000" stroke-width="1.45">
<circle cx="404.1" cy="628.21" r="3.25"/>
<circle cx="406.85" cy="628.25" r="3.25"/>
<circle cx="409.6" cy="628.32" r="3.25"/>
<circle cx="412.35" cy="628.42" r="3.25"/>
<circle cx="415.1" cy="628.54" r="3.25"/>
<circle cx="417.85" cy="628.68" r="3.25"/>
<circle cx="420.6" cy="628.83" r="3.25"/>
<circle cx="423.35" cy="629.03" r="3.25"/>
<circle cx="426.1" cy="629.29" r="3.25"/>
<circle cx="428.85" cy="629.59" r="3.25"/>
<circle cx="431.6" cy="629.95" r="3.25"/>
<circle cx="434.35" cy="630.36" r="3.25"/>
<circle cx="437.1" cy="630.92" r="3.25"/>
<circle cx="439.85" cy="631.59" r="3.25"/>
<circle cx="442.6" cy="632.3" r="3.25"/>
<circle cx="445.35" cy="633" r="3.25"/>
<circle cx="448.1" cy="633.71" r="3.25"/>
<circle cx="450.85" cy="634.51" r="3.25"/>
<circle cx="453.6" cy="635.49" r="3.25"/>
<circle cx="456.35" cy="636.81" r="3.25"/>
<circle cx="459.1" cy="638.61" r="3.25"/>
<circle cx="461.85" cy="640.74" r="3.25"/>
<circle cx="464.6" cy="643.2" r="3.25"/>
<circle cx="467.35" cy="646.14" r="3.25"/>
<circle cx="470.1" cy="649.36" r="3.25"/>
<circle cx="472.85" cy="652.84" r="3.25"/>
<circle cx="475.6" cy="656.66" r="3.25"/>
<circle cx="478.35" cy="660.57" r="3.25"/>
<circle cx="481.1" cy="664.5" r="3.25"/>
<circle cx="483.85" cy="668.5" r="3.25"/>
<circle cx="486.6" cy="672.39" r="3.25"/>
<circle cx="489.35" cy="676.07" r="3.25"/>
<circle cx="492.1" cy="679.64" r="3.25"/>
<circle cx="494.85" cy="683.2" r="3.25"/>
<circle cx="497.6" cy="686.81" r="3.25"/>
<circle cx="500.35" cy="690.38" r="3.25"/>
<circle cx="503.1" cy="693.83" r="3.25"/>
<circle cx="505.85" cy="697.19" r="3.25"/>
<circle cx="508.6" cy="700.43" r="3.25"/>
<circle cx="511.35" cy="703.37" r="3.25"/>
<circle cx="514.1" cy="706.07" r="3.25"/>
<circle cx="516.85" cy="708.53" r="3.25"/>
<circle cx="519.6" cy="710.64" r="3.25"/>
<circle cx="522.35" cy="712.51" r="3.25"/>
<circle cx="525.1" cy="714.12" r="3.25"/>
<circle cx="527.85" cy="715.4" r="3.25"/>
<circle cx="530.6" cy="716.46" r="3.25"/>
<circle cx="533.35" cy="717.32" r="3.25"/>
<circle cx="536.1" cy="717.99" r="3.25"/>
<circle cx="538.85" cy="718.61" r="3.25"/>
<circle cx="541.6" cy="719.05" r="3.25"/>
<circle cx="544.35" cy="719.14" r="3.25"/>
<circle cx="547.1" cy="719.14" r="3.25"/>
<circle cx="549.85" cy="719.06" r="3.25"/>
<circle cx="552.6" cy="718.34" r="3.25"/>
<circle cx="555.35" cy="717.14" r="3.25"/>
<circle cx="558.1" cy="715.72" r="3.25"/>
<circle cx="560.85" cy="713.58" r="3.25"/>
<circle cx="563.6" cy="710.98" r="3.25"/>
<circle cx="566.35" cy="708.17" r="3.25"/>
<circle cx="569.1" cy="704.84" r="3.25"/>
<circle cx="571.85" cy="701.5" r="3.25"/>
<circle cx="574.6" cy="698.68" r="3.25"/>
<circle cx="577.35" cy="696.15" r="3.25"/>
<circle cx="580.1" cy="693.8" r="3.25"/>
<circle cx="582.85" cy="691.51" r="3.25"/>
<circle cx="585.6" cy="689.27" r="3.25"/>
<circle cx="588.35" cy="687.29" r="3.25"/>
<circle cx="591.1" cy="685.63" r="3.25"/>
<circle cx="593.85" cy="684.3" r="3.25"/>
<circle cx="596.6" cy="683.7" r="3.25"/>
<circle cx="599.35" cy="682.68" r="3.25"/>
<circle cx="602.1" cy="677.4" r="3.25"/>
<circle cx="604.85" cy="670.48" r="3.25"/>
<circle cx="607.6" cy="664.68" r="3.25"/>
<circle cx="610.35" cy="659.24" r="3.25"/>
<circle cx="613.1" cy="653.7" r="3.25"/>
<circle cx="615.85" cy="649.17" r="3.25"/>
<circle cx="618.6" cy="645.29" r="3.25"/>
<circle cx="621.35" cy="641.86" r="3.25"/>
<circle cx="624.1" cy="639.13" r="3.25"/>
<circle cx="626.85" cy="637.34" r="3.25"/>
<circle cx="629.6" cy="635.94" r="3.25"/>
<circle cx="632.35" cy="634.69" r="3.25"/>
<circle cx="635.1" cy="633.36" r="3.25"/>
<circle cx="637.85" cy="632.51" r="3.25"/>
<circle cx="640.6" cy="632.31" r="3.25"/>
<circle cx="643.35" cy="632.19" r="3.25"/>
<circle cx="646.1" cy="632.01" r="3.25"/>
<circle cx="648.85" cy="631.44" r="3.25"/>
<circle cx="651.6" cy="630.45" r="3.25"/>
<circle cx="654.35" cy="629.51" r="3.25"/>
<circle cx="657.1" cy="628.97" r="3.25"/>
<circle cx="659.85" cy="628.59" r="3.25"/>
<circle cx="662.6" cy="628.25" r="3.25"/>
<circle cx="665.35" cy="627.84" r="3.25"/>
<circle cx="668.1" cy="627.37" r="3.25"/>
<circle cx="670.85" cy="626.87" r="3.25"/>
<circle cx="673.6" cy="626.33" r="3.25"/>
</g>
<path d="M403 625.51 L404 625.51 L405 625.52 L406 625.53 L407 625.55 L408 625.58 L409 625.6 L410 625.63 L411 625.67 L412 625.71 L413 625.75 L414 625.79 L415 625.84 L416 625.89 L417 625.94 L418 625.99 L419 626.04 L420 626.09 L421 626.16 L422 626.24 L423 626.32 L424 626.42 L425 626.52 L426 626.63 L427 626.75 L428 626.88 L429 627.01 L430 627.14 L431 627.28 L432 627.43 L433 627.57 L434 627.73 L435 627.88 L436 628.03 L437 628.21 L438 628.39 L439 628.59 L440 628.79 L441 629.01 L442 629.24 L443 629.47 L444 629.71 L445 629.95 L446 630.2 L447 630.44 L448 630.69 L449 630.94 L450 631.17 L451 631.42 L452 631.69 L453 632.01 L454 632.41 L455 632.89 L456 633.43 L457 634 L458 634.6 L459 635.24 L460 635.93 L461 636.69 L462 637.53 L463 638.46 L464 639.5 L465 640.68 L466 642.03 L467 643.81 L468 645.99 L469 647.9 L470 649.45 L471 650.87 L472 652.19 L473 653.45 L474 654.7 L475 655.96 L476 657.27 L477 658.61 L478 659.95 L479 661.3 L480 662.64 L481 663.97 L482 665.3 L483 666.62 L484 667.94 L485 669.26 L486 670.59 L487 671.94 L488 673.28 L489 674.61 L490 675.93 L491 677.22 L492 678.47 L493 679.68 L494 680.84 L495 681.94 L496 683.01 L497 684.06 L498 685.08 L499 686.07 L500 687.01 L501 687.92 L502 688.78 L503 689.59 L504 690.35 L505 691.08 L506 691.78 L507 692.45 L508 693.1 L509 693.72 L510 694.31 L511 694.89 L512 695.46 L513 696.01 L514 696.55 L515 697.06 L516 697.56 L517 698.03 L518 698.48 L519 698.89 L520 699.29 L521 699.67 L522 700.03 L523 700.38 L524 700.71 L525 701.02 L526 701.31 L527 701.57 L528 701.81 L529 702.03 L530 702.24 L531 702.43 L532 702.62 L533 702.8 L534 702.99 L535 703.18 L536 703.39 L537 703.62 L538 703.85 L539 704.09 L540 704.32 L541 704.52 L542 704.69 L543 704.81 L544 704.89 L545 704.96 L546 705.03 L547 705.08 L548 705.1 L549 705.11 L550 705.05 L551 704.92 L552 704.74 L553 704.51 L554 704.26 L555 703.99 L556 703.71 L557 703.44 L558 703.14 L559 702.8 L560 702.42 L561 702.02 L562 701.59 L563 701.14 L564 700.68 L565 700.21 L566 699.72 L567 699.2 L568 698.65 L569 698.08 L570 697.49 L571 696.89 L572 696.28 L573 695.67 L574 695.05 L575 694.41 L576 693.76 L577 693.1 L578 692.43 L579 691.74 L580 691.05 L581 690.34 L582 689.62 L583 688.91 L584 688.18 L585 687.43 L586 686.67 L587 685.89 L588 685.07 L589 684.23 L590 683.35 L591 682.45 L592 681.52 L593 680.54 L594 679.51 L595 678.41 L596 677.24 L597 675.96 L598 674.56 L599 673.06 L600 671.47 L601 669.79 L602 667.99 L603 665.92 L604 663.79 L605 661.8 L606 660.11 L607 658.59 L608 657.16 L609 655.78 L610 654.41 L611 652.98 L612 651.47 L613 649.94 L614 648.43 L615 646.99 L616 645.69 L617 644.51 L618 643.39 L619 642.32 L620 641.31 L621 640.36 L622 639.48 L623 638.67 L624 637.89 L625 637.14 L626 636.41 L627 635.71 L628 635.05 L629 634.43 L630 633.87 L631 633.37 L632 632.93 L633 632.56 L634 632.2 L635 631.86 L636 631.54 L637 631.25 L638 631.01 L639 630.81 L640 630.68 L641 630.6 L642 630.55 L643 630.51 L644 630.48 L645 630.44 L646 630.39 L647 630.31 L648 630.18 L649 630 L650 629.8 L651 629.58 L652 629.35 L653 629.14 L654 628.94 L655 628.78 L656 628.67 L657 628.56 L658 628.47 L659 628.39 L660 628.31 L661 628.23 L662 628.15 L663 628.06 L664 627.96 L665 627.84 L666 627.72 L667 627.59 L668 627.46 L669 627.31 L670 627.16 L671 627 L672 626.84 L673 626.67 L674 626.5 L675 626.32" fill="none" stroke="#ff0000" stroke-width="1.6" stroke-linejoin="round"/>
<path d="M403 625.51 L404 625.51 L405 625.51 L406 625.5 L407 625.5 L408 625.5 L409 625.49 L410 625.48 L411 625.48 L412 625.47 L413 625.46 L414 625.45 L415 625.44 L416 625.43 L417 625.42 L418 625.41 L419 625.4 L420 625.39 L421 625.37 L422 625.36 L423 625.34 L424 625.33 L425 625.32 L426 625.3 L427 625.29 L428 625.27 L429 625.25 L430 625.24 L431 625.22 L432 625.19 L433 625.16 L434 625.12 L435 625.08 L436 625.03 L437 624.99 L438 624.94 L439 624.89 L440 624.85 L441 624.81 L442 624.77 L443 624.74 L444 624.72 L445 624.71 L446 624.7 L447 624.7 L448 624.71 L449 624.73 L450 624.76 L451 624.79 L452 624.83 L453 624.87 L454 624.92 L455 624.98 L456 625.04 L457 625.1 L458 625.17 L459 625.25 L460 625.32 L461 625.4 L462 625.48 L463 625.57 L464 625.72 L465 625.92 L466 626.15 L467 626.41 L468 626.68 L469 626.96 L470 627.24 L471 627.5 L472 627.73 L473 627.93 L474 628.09 L475 628.18 L476 628.21 L477 628.17 L478 628.08 L479 627.95 L480 627.8 L481 627.62 L482 627.45 L483 627.27 L484 627.11 L485 626.98 L486 626.89 L487 626.85 L488 626.81 L489 626.79 L490 626.77 L491 626.75 L492 626.73 L493 626.72 L494 626.71 L495 626.69 L496 626.68 L497 626.66 L498 626.64 L499 626.62 L500 626.59 L501 626.56 L502 626.52 L503 626.47 L504 626.41 L505 626.35 L506 626.28 L507 626.21 L508 626.13 L509 626.06 L510 625.98 L511 625.9 L512 625.82 L513 625.74 L514 625.67 L515 625.6 L516 625.53 L517 625.47 L518 625.4 L519 625.34 L520 625.28 L521 625.23 L522 625.17 L523 625.11 L524 625.05 L525 624.99 L526 624.93 L527 624.87 L528 624.81 L529 624.75 L530 624.69 L531 624.61 L532 624.53 L533 624.44 L534 624.35 L535 624.28 L536 624.21 L537 624.17 L538 624.16 L539 624.18 L540 624.24 L541 624.32 L542 624.43 L543 624.56 L544 624.69 L545 624.82 L546 624.95 L547 625.07 L548 625.18 L549 625.26 L550 625.34 L551 625.42 L552 625.5 L553 625.58 L554 625.66 L555 625.74 L556 625.81 L557 625.87 L558 625.93 L559 625.98 L560 626.01 L561 626.04 L562 626.05 L563 626.04 L564 626.01 L565 625.96 L566 625.89 L567 625.81 L568 625.73 L569 625.64 L570 625.55 L571 625.46 L572 625.39 L573 625.32 L574 625.27 L575 625.24 L576 625.24 L577 625.28 L578 625.35 L579 625.47 L580 625.62 L581 625.81 L582 626.04 L583 626.29 L584 626.57 L585 626.89 L586 627.22 L587 627.64 L588 628.4 L589 629.44 L590 630.63 L591 631.83 L592 632.91 L593 634.07 L594 635.31 L595 636.33 L596 636.86 L597 637.07 L598 637.24 L599 637.34 L600 637.38 L601 637.06 L602 636.28 L603 635.24 L604 634.17 L605 632.88 L606 631.25 L607 629.73 L608 628.78 L609 628.38 L610 628.04 L611 627.75 L612 627.51 L613 627.31 L614 627.14 L615 627 L616 626.88 L617 626.76 L618 626.65 L619 626.54 L620 626.44 L621 626.34 L622 626.26 L623 626.19 L624 626.13 L625 626.08 L626 626.06 L627 626.05 L628 626.05 L629 626.07 L630 626.08 L631 626.11 L632 626.14 L633 626.18 L634 626.22 L635 626.26 L636 626.3 L637 626.34 L638 626.38 L639 626.43 L640 626.46 L641 626.5 L642 626.53 L643 626.55 L644 626.57 L645 626.58 L646 626.59 L647 626.58 L648 626.57 L649 626.55 L650 626.53 L651 626.5 L652 626.47 L653 626.43 L654 626.39 L655 626.35 L656 626.31 L657 626.26 L658 626.22 L659 626.17 L660 626.13 L661 626.09 L662 626.05 L663 626.01 L664 625.97 L665 625.93 L666 625.89 L667 625.85 L668 625.81 L669 625.77 L670 625.73 L671 625.69 L672 625.64 L673 625.6 L674 625.55 L675 625.51" fill="none" stroke="#ff00cc" stroke-width="1.5" stroke-dasharray="6.4 5.7"/>
<path d="M403 625.51 L404 625.49 L405 625.47 L406 625.45 L407 625.43 L408 625.42 L409 625.4 L410 625.39 L411 625.37 L412 625.36 L413 625.34 L414 625.33 L415 625.32 L416 625.31 L417 625.3 L418 625.29 L419 625.28 L420 625.28 L421 625.27 L422 625.26 L423 625.26 L424 625.25 L425 625.25 L426 625.24 L427 625.24 L428 625.24 L429 625.24 L430 625.24 L431 625.24 L432 625.24 L433 625.24 L434 625.25 L435 625.25 L436 625.25 L437 625.26 L438 625.27 L439 625.27 L440 625.28 L441 625.29 L442 625.3 L443 625.31 L444 625.32 L445 625.33 L446 625.34 L447 625.36 L448 625.37 L449 625.38 L450 625.4 L451 625.41 L452 625.43 L453 625.44 L454 625.46 L455 625.47 L456 625.49 L457 625.51 L458 625.53 L459 625.56 L460 625.6 L461 625.64 L462 625.68 L463 625.74 L464 625.79 L465 625.85 L466 625.91 L467 625.98 L468 626.04 L469 626.11 L470 626.17 L471 626.23 L472 626.29 L473 626.35 L474 626.41 L475 626.46 L476 626.5 L477 626.54 L478 626.57 L479 626.6 L480 626.62 L481 626.64 L482 626.65 L483 626.66 L484 626.67 L485 626.68 L486 626.69 L487 626.71 L488 626.72 L489 626.73 L490 626.74 L491 626.76 L492 626.78 L493 626.81 L494 626.84 L495 626.9 L496 627.09 L497 627.39 L498 627.79 L499 628.25 L500 628.75 L501 629.25 L502 629.73 L503 630.16 L504 630.58 L505 631.02 L506 631.46 L507 631.92 L508 632.38 L509 632.83 L510 633.27 L511 633.69 L512 634.09 L513 634.46 L514 634.8 L515 635.13 L516 635.46 L517 635.78 L518 636.08 L519 636.38 L520 636.65 L521 636.92 L522 637.16 L523 637.38 L524 637.57 L525 637.75 L526 637.91 L527 638.06 L528 638.2 L529 638.33 L530 638.45 L531 638.57 L532 638.68 L533 638.78 L534 638.88 L535 638.98 L536 639.07 L537 639.17 L538 639.28 L539 639.38 L540 639.47 L541 639.56 L542 639.64 L543 639.71 L544 639.76 L545 639.8 L546 639.81 L547 639.8 L548 639.77 L549 639.73 L550 639.67 L551 639.6 L552 639.52 L553 639.43 L554 639.32 L555 639.21 L556 639.1 L557 638.98 L558 638.81 L559 638.6 L560 638.33 L561 638.03 L562 637.69 L563 637.32 L564 636.94 L565 636.54 L566 636.13 L567 635.73 L568 635.33 L569 634.89 L570 634.4 L571 633.89 L572 633.35 L573 632.8 L574 632.25 L575 631.71 L576 631.19 L577 630.7 L578 630.26 L579 629.86 L580 629.46 L581 629.07 L582 628.69 L583 628.34 L584 628.02 L585 627.73 L586 627.5 L587 627.3 L588 627.14 L589 626.99 L590 626.85 L591 626.72 L592 626.61 L593 626.5 L594 626.39 L595 626.29 L596 626.19 L597 626.08 L598 625.96 L599 625.84 L600 625.7 L601 625.57 L602 625.45 L603 625.35 L604 625.28 L605 625.24 L606 625.24 L607 625.27 L608 625.32 L609 625.38 L610 625.46 L611 625.54 L612 625.63 L613 625.72 L614 625.81 L615 625.89 L616 625.95 L617 626.01 L618 626.04 L619 626.05 L620 626.05 L621 626.05 L622 626.05 L623 626.05 L624 626.05 L625 626.05 L626 626.05 L627 626.05 L628 626.05 L629 626.05 L630 626.05 L631 626.05 L632 626.05 L633 626.05 L634 626.05 L635 626.05 L636 626.06 L637 626.08 L638 626.12 L639 626.17 L640 626.23 L641 626.29 L642 626.37 L643 626.44 L644 626.52 L645 626.59 L646 626.66 L647 626.72 L648 626.77 L649 626.81 L650 626.84 L651 626.86 L652 626.86 L653 626.85 L654 626.84 L655 626.83 L656 626.81 L657 626.79 L658 626.76 L659 626.72 L660 626.69 L661 626.65 L662 626.6 L663 626.55 L664 626.49 L665 626.43 L666 626.36 L667 626.29 L668 626.21 L669 626.13 L670 626.04 L671 625.94 L672 625.84 L673 625.74 L674 625.63 L675 625.51" fill="none" stroke="#0000ff" stroke-width="1.5" stroke-dasharray="6.7 2.6 1.5 3"/>
<path d="M403 583.41 L407.05 583.41 L410.56 582.33 L414.33 578.83 L417.84 588.27 L421.35 590.43 L424.59 585.57 L427.29 577.48 L429.17 571.54 L432.14 580.71 L435.38 584.22 L439.43 587.73 L442.94 576.94 L445.63 577.48 L448.33 572.62 L451.57 585.57 L454.81 590.97 L457.51 583.41 L460.21 585.03 L463.71 591.51 L466.41 590.97 L469.92 584.22 L473.16 580.71 L476.4 581.52 L479.9 585.03 L483.41 593.13 L487.19 596.37 L490.7 592.32 L494.21 590.43 L497.44 593.67 L501.49 601.76 L505 611.75 L508.24 610.4 L511.48 608.51 L514.98 602.57 L518.49 595.02 L521.73 589.62 L524.43 588.27 L527.13 600.41 L529.83 589.62 L533.06 583.41 L535.76 582.33 L538.73 589.62 L541.16 588.81 L543.86 580.17 L546.56 569.92 L550.06 569.92 L552.76 565.33 L554.65 559.94 L557.35 564.52 L560.05 563.98 L563.56 568.84 L567.6 574.24 L570.84 571.54 L574.35 577.48 L577.86 576.13 L581.1 574.24 L583.25 570.73 L585.95 579.63 L588.65 574.24 L590.54 585.03 L592.43 588.27 L595.13 586.92 L597.83 588.81 L601.33 584.22 L604.84 586.11 L608.08 580.17 L611.32 576.13 L614.83 574.24 L617.52 574.24 L620.22 581.52 L623.73 589.62 L625.62 585.03 L627.51 593.13 L631.02 581.52 L634.52 582.33 L637.76 585.57 L640.46 588.27 L643.97 579.63 L647.21 585.03 L650.71 581.52 L653.95 578.02 L657.19 575.32 L660.7 582.33 L663.4 576.94 L666.9 580.17 L670.14 586.92 L672.84 593.67 L675 595.02" fill="none" stroke="#000" stroke-width="1.5" stroke-linejoin="round"/>
<path d="M403.3 583.63 H675.4" stroke="#000" stroke-width="1.35" stroke-dasharray="6.4 5.7" fill="none"/>
<path d="M494.48 730.25 V537.45" stroke="#000" stroke-width="1.35" stroke-dasharray="6.4 5.7" fill="none"/>
<path d="M587.84 730.25 V537.45" stroke="#000" stroke-width="1.35" stroke-dasharray="6.4 5.7" fill="none"/>
</g>
<path d="M407.19 730.25 v-2.2 M407.19 537.45 v2.2 M411.07 730.25 v-2.2 M411.07 537.45 v2.2 M414.96 730.25 v-2.2 M414.96 537.45 v2.2 M418.85 730.25 v-2.2 M418.85 537.45 v2.2 M422.74 730.25 v-4.6 M422.74 537.45 v4.6 M426.62 730.25 v-2.2 M426.62 537.45 v2.2 M430.51 730.25 v-2.2 M430.51 537.45 v2.2 M434.4 730.25 v-2.2 M434.4 537.45 v2.2 M438.28 730.25 v-2.2 M438.28 537.45 v2.2 M442.17 730.25 v-2.2 M442.17 537.45 v2.2 M446.06 730.25 v-2.2 M446.06 537.45 v2.2 M449.95 730.25 v-2.2 M449.95 537.45 v2.2 M453.83 730.25 v-2.2 M453.83 537.45 v2.2 M457.72 730.25 v-2.2 M457.72 537.45 v2.2 M461.61 730.25 v-4.6 M461.61 537.45 v4.6 M465.49 730.25 v-2.2 M465.49 537.45 v2.2 M469.38 730.25 v-2.2 M469.38 537.45 v2.2 M473.27 730.25 v-2.2 M473.27 537.45 v2.2 M477.16 730.25 v-2.2 M477.16 537.45 v2.2 M481.04 730.25 v-2.2 M481.04 537.45 v2.2 M484.93 730.25 v-2.2 M484.93 537.45 v2.2 M488.82 730.25 v-2.2 M488.82 537.45 v2.2 M492.7 730.25 v-2.2 M492.7 537.45 v2.2 M496.59 730.25 v-2.2 M496.59 537.45 v2.2 M500.48 730.25 v-4.6 M500.48 537.45 v4.6 M504.37 730.25 v-2.2 M504.37 537.45 v2.2 M508.25 730.25 v-2.2 M508.25 537.45 v2.2 M512.14 730.25 v-2.2 M512.14 537.45 v2.2 M516.03 730.25 v-2.2 M516.03 537.45 v2.2 M519.91 730.25 v-2.2 M519.91 537.45 v2.2 M523.8 730.25 v-2.2 M523.8 537.45 v2.2 M527.69 730.25 v-2.2 M527.69 537.45 v2.2 M531.58 730.25 v-2.2 M531.58 537.45 v2.2 M535.46 730.25 v-2.2 M535.46 537.45 v2.2 M539.35 730.25 v-4.6 M539.35 537.45 v4.6 M543.24 730.25 v-2.2 M543.24 537.45 v2.2 M547.12 730.25 v-2.2 M547.12 537.45 v2.2 M551.01 730.25 v-2.2 M551.01 537.45 v2.2 M554.9 730.25 v-2.2 M554.9 537.45 v2.2 M558.79 730.25 v-2.2 M558.79 537.45 v2.2 M562.67 730.25 v-2.2 M562.67 537.45 v2.2 M566.56 730.25 v-2.2 M566.56 537.45 v2.2 M570.45 730.25 v-2.2 M570.45 537.45 v2.2 M574.33 730.25 v-2.2 M574.33 537.45 v2.2 M578.22 730.25 v-4.6 M578.22 537.45 v4.6 M582.11 730.25 v-2.2 M582.11 537.45 v2.2 M586 730.25 v-2.2 M586 537.45 v2.2 M589.88 730.25 v-2.2 M589.88 537.45 v2.2 M593.77 730.25 v-2.2 M593.77 537.45 v2.2 M597.66 730.25 v-2.2 M597.66 537.45 v2.2 M601.54 730.25 v-2.2 M601.54 537.45 v2.2 M605.43 730.25 v-2.2 M605.43 537.45 v2.2 M609.32 730.25 v-2.2 M609.32 537.45 v2.2 M613.21 730.25 v-2.2 M613.21 537.45 v2.2 M617.09 730.25 v-4.6 M617.09 537.45 v4.6 M620.98 730.25 v-2.2 M620.98 537.45 v2.2 M624.87 730.25 v-2.2 M624.87 537.45 v2.2 M628.75 730.25 v-2.2 M628.75 537.45 v2.2 M632.64 730.25 v-2.2 M632.64 537.45 v2.2 M636.53 730.25 v-2.2 M636.53 537.45 v2.2 M640.42 730.25 v-2.2 M640.42 537.45 v2.2 M644.3 730.25 v-2.2 M644.3 537.45 v2.2 M648.19 730.25 v-2.2 M648.19 537.45 v2.2 M652.08 730.25 v-2.2 M652.08 537.45 v2.2 M655.96 730.25 v-4.6 M655.96 537.45 v4.6 M659.85 730.25 v-2.2 M659.85 537.45 v2.2 M663.74 730.25 v-2.2 M663.74 537.45 v2.2 M667.63 730.25 v-2.2 M667.63 537.45 v2.2 M671.51 730.25 v-2.2 M671.51 537.45 v2.2 M403.3 719.74 h2.8 M675.4 719.74 h-2.8 M403.3 709.27 h5.8 M675.4 709.27 h-5.8 M403.3 698.8 h2.8 M675.4 698.8 h-2.8 M403.3 688.33 h2.8 M675.4 688.33 h-2.8 M403.3 677.86 h2.8 M675.4 677.86 h-2.8 M403.3 667.39 h5.8 M675.4 667.39 h-5.8 M403.3 656.92 h2.8 M675.4 656.92 h-2.8 M403.3 646.45 h2.8 M675.4 646.45 h-2.8 M403.3 635.98 h2.8 M675.4 635.98 h-2.8 M403.3 625.51 h5.8 M675.4 625.51 h-5.8 M403.3 615.04 h2.8 M675.4 615.04 h-2.8 M403.3 604.57 h2.8 M675.4 604.57 h-2.8 M403.3 594.1 h2.8 M675.4 594.1 h-2.8 M403.3 583.63 h5.8 M675.4 583.63 h-5.8 M403.3 573.16 h2.8 M675.4 573.16 h-2.8 M403.3 562.69 h2.8 M675.4 562.69 h-2.8 M403.3 552.22 h2.8 M675.4 552.22 h-2.8 M403.3 541.75 h5.8 M675.4 541.75 h-5.8" stroke="#000" stroke-width="1.4" fill="none"/>
<rect x="403.3" y="537.45" width="272.1" height="192.8" fill="none" stroke="#000" stroke-width="1.6"/>
<text x="468.35" y="528.45" font-family="Liberation Sans, sans-serif" class="t21" font-size="21.2" textLength="53" lengthAdjust="spacingAndGlyphs">2010</text>
<path d="M524.25 522.05 h12.2" stroke="#000" stroke-width="1.35"/>
<text x="539.35" y="528.45" font-family="Liberation Sans, sans-serif" class="t21" font-size="21.2" textLength="26.2" lengthAdjust="spacingAndGlyphs">02</text>
<path d="M568.45 522.05 h12.2" stroke="#000" stroke-width="1.35"/>
<text x="583.55" y="528.45" font-family="Liberation Sans, sans-serif" class="t21" font-size="21.2" textLength="26.2" lengthAdjust="spacingAndGlyphs">02</text>
<clipPath id="c22"><rect x="695.5" y="537.45" width="272.1" height="192.8"/></clipPath>
<g clip-path="url(#c22)">
<rect x="695.5" y="576.94" width="272.1" height="13.49" fill="#d9bebe"/>
<g fill="none" stroke="#000" stroke-width="1.45">
<circle cx="696.3" cy="628.21" r="3.25"/>
<circle cx="699.05" cy="628.25" r="3.25"/>
<circle cx="701.8" cy="628.33" r="3.25"/>
<circle cx="704.55" cy="628.43" r="3.25"/>
<circle cx="707.3" cy="628.55" r="3.25"/>
<circle cx="710.05" cy="628.69" r="3.25"/>
<circle cx="712.8" cy="628.84" r="3.25"/>
<circle cx="715.55" cy="629.05" r="3.25"/>
<circle cx="718.3" cy="629.31" r="3.25"/>
<circle cx="721.05" cy="629.62" r="3.25"/>
<circle cx="723.8" cy="629.97" r="3.25"/>
<circle cx="726.55" cy="630.39" r="3.25"/>
<circle cx="729.3" cy="630.95" r="3.25"/>
<circle cx="732.05" cy="631.61" r="3.25"/>
<circle cx="734.8" cy="632.34" r="3.25"/>
<circle cx="737.55" cy="633.11" r="3.25"/>
<circle cx="740.3" cy="633.96" r="3.25"/>
<circle cx="743.05" cy="634.94" r="3.25"/>
<circle cx="745.8" cy="636.09" r="3.25"/>
<circle cx="748.55" cy="637.51" r="3.25"/>
<circle cx="751.3" cy="639.31" r="3.25"/>
<circle cx="754.05" cy="641.44" r="3.25"/>
<circle cx="756.8" cy="644.06" r="3.25"/>
<circle cx="759.55" cy="647.27" r="3.25"/>
<circle cx="762.3" cy="650.68" r="3.25"/>
<circle cx="765.05" cy="654.19" r="3.25"/>
<circle cx="767.8" cy="657.91" r="3.25"/>
<circle cx="770.55" cy="661.66" r="3.25"/>
<circle cx="773.3" cy="665.44" r="3.25"/>
<circle cx="776.05" cy="669.25" r="3.25"/>
<circle cx="778.8" cy="672.92" r="3.25"/>
<circle cx="781.55" cy="676.36" r="3.25"/>
<circle cx="784.3" cy="679.71" r="3.25"/>
<circle cx="787.05" cy="683.19" r="3.25"/>
<circle cx="789.8" cy="686.93" r="3.25"/>
<circle cx="792.55" cy="690.72" r="3.25"/>
<circle cx="795.3" cy="694.37" r="3.25"/>
<circle cx="798.05" cy="697.95" r="3.25"/>
<circle cx="800.8" cy="701.37" r="3.25"/>
<circle cx="803.55" cy="704.4" r="3.25"/>
<circle cx="806.3" cy="707.12" r="3.25"/>
<circle cx="809.05" cy="709.55" r="3.25"/>
<circle cx="811.8" cy="711.58" r="3.25"/>
<circle cx="814.55" cy="713.36" r="3.25"/>
<circle cx="817.3" cy="714.86" r="3.25"/>
<circle cx="820.05" cy="715.97" r="3.25"/>
<circle cx="822.8" cy="716.87" r="3.25"/>
<circle cx="825.55" cy="717.54" r="3.25"/>
<circle cx="828.3" cy="717.91" r="3.25"/>
<circle cx="831.05" cy="718.15" r="3.25"/>
<circle cx="833.8" cy="718.31" r="3.25"/>
<circle cx="836.55" cy="718.3" r="3.25"/>
<circle cx="839.3" cy="718.02" r="3.25"/>
<circle cx="842.05" cy="717.54" r="3.25"/>
<circle cx="844.8" cy="716.81" r="3.25"/>
<circle cx="847.55" cy="715.3" r="3.25"/>
<circle cx="850.3" cy="713.31" r="3.25"/>
<circle cx="853.05" cy="711.11" r="3.25"/>
<circle cx="855.8" cy="708.34" r="3.25"/>
<circle cx="858.55" cy="705.38" r="3.25"/>
<circle cx="861.3" cy="702.58" r="3.25"/>
<circle cx="864.05" cy="699.75" r="3.25"/>
<circle cx="866.8" cy="697.04" r="3.25"/>
<circle cx="869.55" cy="694.55" r="3.25"/>
<circle cx="872.3" cy="692.2" r="3.25"/>
<circle cx="875.05" cy="690.02" r="3.25"/>
<circle cx="877.8" cy="687.96" r="3.25"/>
<circle cx="880.55" cy="685.98" r="3.25"/>
<circle cx="883.3" cy="684.34" r="3.25"/>
<circle cx="886.05" cy="683.27" r="3.25"/>
<circle cx="888.8" cy="682.37" r="3.25"/>
<circle cx="891.55" cy="681.2" r="3.25"/>
<circle cx="894.3" cy="678.6" r="3.25"/>
<circle cx="897.05" cy="672.2" r="3.25"/>
<circle cx="899.8" cy="665.98" r="3.25"/>
<circle cx="902.55" cy="660.7" r="3.25"/>
<circle cx="905.3" cy="655.68" r="3.25"/>
<circle cx="908.05" cy="651.01" r="3.25"/>
<circle cx="910.8" cy="646.6" r="3.25"/>
<circle cx="913.55" cy="643" r="3.25"/>
<circle cx="916.3" cy="640.22" r="3.25"/>
<circle cx="919.05" cy="637.92" r="3.25"/>
<circle cx="921.8" cy="635.96" r="3.25"/>
<circle cx="924.55" cy="634.24" r="3.25"/>
<circle cx="927.3" cy="632.91" r="3.25"/>
<circle cx="930.05" cy="632" r="3.25"/>
<circle cx="932.8" cy="631.28" r="3.25"/>
<circle cx="935.55" cy="630.65" r="3.25"/>
<circle cx="938.3" cy="629.98" r="3.25"/>
<circle cx="941.05" cy="629.24" r="3.25"/>
<circle cx="943.8" cy="628.5" r="3.25"/>
<circle cx="946.55" cy="627.83" r="3.25"/>
<circle cx="949.3" cy="627.28" r="3.25"/>
<circle cx="952.05" cy="626.83" r="3.25"/>
<circle cx="954.8" cy="626.45" r="3.25"/>
<circle cx="957.55" cy="626.11" r="3.25"/>
<circle cx="960.3" cy="625.81" r="3.25"/>
<circle cx="963.05" cy="625.55" r="3.25"/>
<circle cx="965.8" cy="625.32" r="3.25"/>
</g>
<path d="M695 625.51 L696 625.51 L697 625.52 L698 625.53 L699 625.55 L700 625.58 L701 625.6 L702 625.63 L703 625.67 L704 625.71 L705 625.75 L706 625.79 L707 625.84 L708 625.89 L709 625.94 L710 625.99 L711 626.04 L712 626.09 L713 626.16 L714 626.23 L715 626.32 L716 626.41 L717 626.51 L718 626.62 L719 626.73 L720 626.86 L721 626.98 L722 627.12 L723 627.26 L724 627.41 L725 627.56 L726 627.71 L727 627.87 L728 628.04 L729 628.22 L730 628.41 L731 628.62 L732 628.85 L733 629.09 L734 629.34 L735 629.6 L736 629.89 L737 630.18 L738 630.49 L739 630.81 L740 631.14 L741 631.49 L742 631.86 L743 632.26 L744 632.69 L745 633.15 L746 633.65 L747 634.18 L748 634.74 L749 635.34 L750 635.97 L751 636.64 L752 637.36 L753 638.18 L754 639.12 L755 640.14 L756 641.25 L757 642.41 L758 643.61 L759 644.82 L760 646.04 L761 647.31 L762 648.65 L763 650.05 L764 651.49 L765 652.95 L766 654.41 L767 655.86 L768 657.28 L769 658.71 L770 660.16 L771 661.61 L772 663.07 L773 664.5 L774 665.9 L775 667.25 L776 668.55 L777 669.79 L778 670.98 L779 672.15 L780 673.3 L781 674.44 L782 675.6 L783 676.76 L784 677.92 L785 679.07 L786 680.2 L787 681.31 L788 682.38 L789 683.44 L790 684.49 L791 685.52 L792 686.5 L793 687.44 L794 688.31 L795 689.15 L796 689.96 L797 690.74 L798 691.49 L799 692.22 L800 692.92 L801 693.6 L802 694.26 L803 694.9 L804 695.52 L805 696.13 L806 696.73 L807 697.3 L808 697.86 L809 698.39 L810 698.89 L811 699.35 L812 699.78 L813 700.19 L814 700.6 L815 700.99 L816 701.36 L817 701.7 L818 702.02 L819 702.3 L820 702.54 L821 702.73 L822 702.89 L823 703.03 L824 703.16 L825 703.28 L826 703.39 L827 703.49 L828 703.59 L829 703.69 L830 703.8 L831 703.92 L832 704.05 L833 704.16 L834 704.25 L835 704.3 L836 704.3 L837 704.27 L838 704.23 L839 704.17 L840 704.09 L841 704 L842 703.91 L843 703.81 L844 703.69 L845 703.52 L846 703.29 L847 703.03 L848 702.74 L849 702.42 L850 702.1 L851 701.77 L852 701.44 L853 701.1 L854 700.74 L855 700.37 L856 699.97 L857 699.55 L858 699.11 L859 698.65 L860 698.17 L861 697.65 L862 697.1 L863 696.51 L864 695.9 L865 695.27 L866 694.62 L867 693.97 L868 693.31 L869 692.63 L870 691.94 L871 691.22 L872 690.49 L873 689.74 L874 688.98 L875 688.2 L876 687.41 L877 686.6 L878 685.76 L879 684.91 L880 684.05 L881 683.16 L882 682.27 L883 681.37 L884 680.45 L885 679.56 L886 678.69 L887 677.83 L888 676.95 L889 676.04 L890 675.07 L891 674.03 L892 672.9 L893 671.65 L894 670.12 L895 668.35 L896 666.45 L897 664.56 L898 662.79 L899 661.19 L900 659.65 L901 658.15 L902 656.68 L903 655.23 L904 653.78 L905 652.3 L906 650.82 L907 649.36 L908 647.94 L909 646.59 L910 645.33 L911 644.17 L912 643.04 L913 641.96 L914 640.93 L915 639.96 L916 639.07 L917 638.25 L918 637.5 L919 636.77 L920 636.08 L921 635.43 L922 634.81 L923 634.23 L924 633.7 L925 633.22 L926 632.79 L927 632.4 L928 632.03 L929 631.68 L930 631.35 L931 631.04 L932 630.75 L933 630.47 L934 630.21 L935 629.96 L936 629.71 L937 629.48 L938 629.25 L939 629.03 L940 628.81 L941 628.6 L942 628.4 L943 628.2 L944 628 L945 627.82 L946 627.64 L947 627.47 L948 627.31 L949 627.16 L950 627.03 L951 626.9 L952 626.78 L953 626.67 L954 626.55 L955 626.44 L956 626.34 L957 626.23 L958 626.13 L959 626.04 L960 625.95 L961 625.87 L962 625.79 L963 625.72 L964 625.65 L965 625.6 L966 625.55 L967 625.51" fill="none" stroke="#ff0000" stroke-width="1.6" stroke-linejoin="round"/>
<path d="M695 625.51 L696 625.51 L697 625.51 L698 625.5 L699 625.5 L700 625.5 L701 625.49 L702 625.48 L703 625.48 L704 625.47 L705 625.46 L706 625.45 L707 625.44 L708 625.43 L709 625.42 L710 625.41 L711 625.4 L712 625.39 L713 625.37 L714 625.36 L715 625.34 L716 625.33 L717 625.32 L718 625.3 L719 625.29 L720 625.27 L721 625.25 L722 625.24 L723 625.22 L724 625.19 L725 625.16 L726 625.12 L727 625.08 L728 625.03 L729 624.99 L730 624.94 L731 624.89 L732 624.85 L733 624.81 L734 624.77 L735 624.74 L736 624.72 L737 624.71 L738 624.7 L739 624.7 L740 624.71 L741 624.73 L742 624.76 L743 624.79 L744 624.83 L745 624.87 L746 624.92 L747 624.98 L748 625.04 L749 625.1 L750 625.17 L751 625.25 L752 625.32 L753 625.4 L754 625.48 L755 625.57 L756 625.72 L757 625.92 L758 626.15 L759 626.41 L760 626.68 L761 626.96 L762 627.24 L763 627.5 L764 627.73 L765 627.93 L766 628.09 L767 628.18 L768 628.21 L769 628.19 L770 628.15 L771 628.08 L772 628.01 L773 627.92 L774 627.82 L775 627.72 L776 627.62 L777 627.53 L778 627.44 L779 627.37 L780 627.31 L781 627.25 L782 627.18 L783 627.12 L784 627.07 L785 627.01 L786 626.95 L787 626.89 L788 626.84 L789 626.78 L790 626.72 L791 626.66 L792 626.6 L793 626.53 L794 626.47 L795 626.4 L796 626.34 L797 626.27 L798 626.2 L799 626.13 L800 626.06 L801 626 L802 625.93 L803 625.86 L804 625.79 L805 625.72 L806 625.66 L807 625.59 L808 625.53 L809 625.47 L810 625.41 L811 625.35 L812 625.29 L813 625.23 L814 625.17 L815 625.11 L816 625.06 L817 625 L818 624.94 L819 624.88 L820 624.82 L821 624.75 L822 624.69 L823 624.61 L824 624.52 L825 624.42 L826 624.32 L827 624.22 L828 624.13 L829 624.05 L830 623.98 L831 623.92 L832 623.89 L833 623.89 L834 623.94 L835 624.04 L836 624.18 L837 624.34 L838 624.51 L839 624.69 L840 624.86 L841 625.01 L842 625.14 L843 625.22 L844 625.26 L845 625.29 L846 625.32 L847 625.35 L848 625.38 L849 625.41 L850 625.43 L851 625.45 L852 625.47 L853 625.48 L854 625.49 L855 625.5 L856 625.51 L857 625.51 L858 625.51 L859 625.51 L860 625.51 L861 625.51 L862 625.51 L863 625.51 L864 625.51 L865 625.51 L866 625.51 L867 625.51 L868 625.51 L869 625.51 L870 625.51 L871 625.52 L872 625.58 L873 625.68 L874 625.83 L875 626.02 L876 626.25 L877 626.51 L878 626.8 L879 627.12 L880 627.46 L881 628 L882 628.79 L883 629.73 L884 630.75 L885 631.75 L886 632.86 L887 634.26 L888 635.54 L889 636.26 L890 636.3 L891 636.3 L892 636.3 L893 636.3 L894 636.08 L895 635.11 L896 633.75 L897 632.4 L898 631.34 L899 630.23 L900 629.2 L901 628.42 L902 627.98 L903 627.61 L904 627.27 L905 626.96 L906 626.69 L907 626.46 L908 626.28 L909 626.15 L910 626.07 L911 626.05 L912 626.05 L913 626.05 L914 626.05 L915 626.05 L916 626.05 L917 626.05 L918 626.05 L919 626.05 L920 626.05 L921 626.05 L922 626.05 L923 626.05 L924 626.05 L925 626.05 L926 626.05 L927 626.05 L928 626.06 L929 626.08 L930 626.12 L931 626.17 L932 626.23 L933 626.29 L934 626.37 L935 626.44 L936 626.52 L937 626.59 L938 626.66 L939 626.72 L940 626.77 L941 626.81 L942 626.84 L943 626.86 L944 626.85 L945 626.81 L946 626.75 L947 626.68 L948 626.59 L949 626.49 L950 626.39 L951 626.29 L952 626.2 L953 626.12 L954 626.05 L955 626 L956 625.94 L957 625.89 L958 625.84 L959 625.8 L960 625.75 L961 625.71 L962 625.67 L963 625.63 L964 625.59 L965 625.56 L966 625.53 L967 625.51" fill="none" stroke="#ff00cc" stroke-width="1.5" stroke-dasharray="6.4 5.7"/>
<path d="M695 625.51 L696 625.49 L697 625.47 L698 625.45 L699 625.43 L700 625.42 L701 625.4 L702 625.39 L703 625.37 L704 625.36 L705 625.34 L706 625.33 L707 625.32 L708 625.31 L709 625.3 L710 625.29 L711 625.28 L712 625.28 L713 625.27 L714 625.26 L715 625.26 L716 625.25 L717 625.25 L718 625.24 L719 625.24 L720 625.24 L721 625.24 L722 625.24 L723 625.24 L724 625.24 L725 625.24 L726 625.25 L727 625.25 L728 625.25 L729 625.26 L730 625.27 L731 625.27 L732 625.28 L733 625.29 L734 625.3 L735 625.31 L736 625.32 L737 625.33 L738 625.34 L739 625.35 L740 625.37 L741 625.38 L742 625.4 L743 625.41 L744 625.43 L745 625.44 L746 625.46 L747 625.47 L748 625.49 L749 625.51 L750 625.53 L751 625.56 L752 625.6 L753 625.65 L754 625.71 L755 625.77 L756 625.83 L757 625.9 L758 625.98 L759 626.05 L760 626.13 L761 626.21 L762 626.29 L763 626.37 L764 626.45 L765 626.52 L766 626.59 L767 626.66 L768 626.72 L769 626.78 L770 626.83 L771 626.88 L772 626.91 L773 626.95 L774 626.97 L775 627 L776 627.02 L777 627.05 L778 627.07 L779 627.09 L780 627.12 L781 627.14 L782 627.18 L783 627.21 L784 627.26 L785 627.31 L786 627.37 L787 627.45 L788 627.62 L789 627.87 L790 628.2 L791 628.57 L792 628.96 L793 629.37 L794 629.78 L795 630.15 L796 630.54 L797 630.95 L798 631.39 L799 631.84 L800 632.3 L801 632.75 L802 633.21 L803 633.64 L804 634.06 L805 634.45 L806 634.81 L807 635.17 L808 635.53 L809 635.88 L810 636.23 L811 636.56 L812 636.88 L813 637.17 L814 637.43 L815 637.66 L816 637.85 L817 638.01 L818 638.15 L819 638.3 L820 638.44 L821 638.57 L822 638.68 L823 638.78 L824 638.87 L825 638.94 L826 638.98 L827 639 L828 639 L829 639 L830 639 L831 639 L832 639 L833 639 L834 639 L835 639 L836 639 L837 639 L838 639 L839 638.98 L840 638.93 L841 638.86 L842 638.75 L843 638.63 L844 638.48 L845 638.32 L846 638.16 L847 637.98 L848 637.8 L849 637.62 L850 637.41 L851 637.16 L852 636.87 L853 636.56 L854 636.22 L855 635.87 L856 635.5 L857 635.12 L858 634.74 L859 634.37 L860 633.99 L861 633.59 L862 633.16 L863 632.72 L864 632.25 L865 631.79 L866 631.33 L867 630.88 L868 630.45 L869 630.05 L870 629.69 L871 629.36 L872 629.04 L873 628.74 L874 628.45 L875 628.17 L876 627.92 L877 627.69 L878 627.49 L879 627.31 L880 627.14 L881 626.99 L882 626.84 L883 626.7 L884 626.57 L885 626.45 L886 626.34 L887 626.24 L888 626.15 L889 626.07 L890 626 L891 625.92 L892 625.85 L893 625.79 L894 625.72 L895 625.66 L896 625.61 L897 625.57 L898 625.54 L899 625.52 L900 625.51 L901 625.51 L902 625.53 L903 625.55 L904 625.59 L905 625.63 L906 625.67 L907 625.72 L908 625.77 L909 625.82 L910 625.87 L911 625.91 L912 625.95 L913 625.99 L914 626.02 L915 626.04 L916 626.05 L917 626.05 L918 626.05 L919 626.05 L920 626.05 L921 626.05 L922 626.05 L923 626.05 L924 626.05 L925 626.05 L926 626.05 L927 626.05 L928 626.05 L929 626.05 L930 626.05 L931 626.05 L932 626.05 L933 626.05 L934 626.09 L935 626.15 L936 626.23 L937 626.33 L938 626.44 L939 626.56 L940 626.68 L941 626.8 L942 626.9 L943 626.99 L944 627.07 L945 627.11 L946 627.13 L947 627.12 L948 627.12 L949 627.1 L950 627.08 L951 627.05 L952 627.02 L953 626.97 L954 626.93 L955 626.87 L956 626.8 L957 626.73 L958 626.65 L959 626.56 L960 626.46 L961 626.36 L962 626.24 L963 626.11 L964 625.98 L965 625.83 L966 625.68 L967 625.51" fill="none" stroke="#0000ff" stroke-width="1.5" stroke-dasharray="6.7 2.6 1.5 3"/>
<path d="M695 577.48 L697.7 587.73 L699.86 583.41 L703.1 587.73 L706.33 590.97 L709.84 588.81 L712.54 586.92 L715.24 602.57 L718.75 590.97 L721.44 582.87 L724.14 589.62 L727.38 587.73 L730.08 583.41 L732.78 588.81 L735.48 594.21 L738.17 583.41 L741.41 588.27 L744.92 592.32 L748.97 588.81 L752.21 594.21 L755.71 597.71 L759.22 594.21 L762.46 588.27 L765.7 585.03 L769.21 582.87 L771.9 590.97 L775.95 593.13 L780 595.02 L784.05 594.21 L788.1 593.67 L791.6 595.02 L794.3 598.52 L797.54 597.71 L800.24 600.41 L803.48 598.52 L807.79 605 L811.03 602.3 L813.73 599.6 L816.43 600.41 L819.67 595.02 L821.83 601.76 L824.52 595.02 L827.76 589.62 L830.73 584.22 L833.16 577.48 L835.32 563.98 L838.56 563.44 L842.06 565.33 L845.57 566.14 L848.27 563.98 L852.05 570.73 L855.56 561.83 L858.25 559.94 L860.95 563.98 L864.46 579.63 L867.7 578.02 L871.75 576.94 L875.79 580.17 L878.49 581.52 L880.65 573.43 L883.35 581.52 L886.59 580.17 L890.63 578.02 L894.14 578.02 L897.38 584.22 L900.08 574.78 L903.32 586.11 L906.83 582.87 L909.52 578.83 L912.22 570.73 L914.11 566.68 L916.81 581.52 L920.32 576.13 L923.02 572.08 L926.52 574.78 L929.76 577.48 L932.46 581.52 L935.7 592.32 L939.21 590.97 L941.9 598.52 L944.6 592.32 L947.3 596.9 L950 577.48 L953.51 583.41 L956.75 588.27 L959.98 592.32 L962.95 581.52 L964.84 582.87 L967 580.17" fill="none" stroke="#000" stroke-width="1.5" stroke-linejoin="round"/>
<path d="M695.5 583.63 H967.6" stroke="#000" stroke-width="1.35" stroke-dasharray="6.4 5.7" fill="none"/>
<path d="M786.48 730.25 V537.45" stroke="#000" stroke-width="1.35" stroke-dasharray="6.4 5.7" fill="none"/>
<path d="M879.84 730.25 V537.45" stroke="#000" stroke-width="1.35" stroke-dasharray="6.4 5.7" fill="none"/>
</g>
<path d="M699.39 730.25 v-2.2 M699.39 537.45 v2.2 M703.27 730.25 v-2.2 M703.27 537.45 v2.2 M707.16 730.25 v-2.2 M707.16 537.45 v2.2 M711.05 730.25 v-2.2 M711.05 537.45 v2.2 M714.94 730.25 v-4.6 M714.94 537.45 v4.6 M718.82 730.25 v-2.2 M718.82 537.45 v2.2 M722.71 730.25 v-2.2 M722.71 537.45 v2.2 M726.6 730.25 v-2.2 M726.6 537.45 v2.2 M730.48 730.25 v-2.2 M730.48 537.45 v2.2 M734.37 730.25 v-2.2 M734.37 537.45 v2.2 M738.26 730.25 v-2.2 M738.26 537.45 v2.2 M742.15 730.25 v-2.2 M742.15 537.45 v2.2 M746.03 730.25 v-2.2 M746.03 537.45 v2.2 M749.92 730.25 v-2.2 M749.92 537.45 v2.2 M753.81 730.25 v-4.6 M753.81 537.45 v4.6 M757.69 730.25 v-2.2 M757.69 537.45 v2.2 M761.58 730.25 v-2.2 M761.58 537.45 v2.2 M765.47 730.25 v-2.2 M765.47 537.45 v2.2 M769.36 730.25 v-2.2 M769.36 537.45 v2.2 M773.24 730.25 v-2.2 M773.24 537.45 v2.2 M777.13 730.25 v-2.2 M777.13 537.45 v2.2 M781.02 730.25 v-2.2 M781.02 537.45 v2.2 M784.9 730.25 v-2.2 M784.9 537.45 v2.2 M788.79 730.25 v-2.2 M788.79 537.45 v2.2 M792.68 730.25 v-4.6 M792.68 537.45 v4.6 M796.57 730.25 v-2.2 M796.57 537.45 v2.2 M800.45 730.25 v-2.2 M800.45 537.45 v2.2 M804.34 730.25 v-2.2 M804.34 537.45 v2.2 M808.23 730.25 v-2.2 M808.23 537.45 v2.2 M812.11 730.25 v-2.2 M812.11 537.45 v2.2 M816 730.25 v-2.2 M816 537.45 v2.2 M819.89 730.25 v-2.2 M819.89 537.45 v2.2 M823.78 730.25 v-2.2 M823.78 537.45 v2.2 M827.66 730.25 v-2.2 M827.66 537.45 v2.2 M831.55 730.25 v-4.6 M831.55 537.45 v4.6 M835.44 730.25 v-2.2 M835.44 537.45 v2.2 M839.32 730.25 v-2.2 M839.32 537.45 v2.2 M843.21 730.25 v-2.2 M843.21 537.45 v2.2 M847.1 730.25 v-2.2 M847.1 537.45 v2.2 M850.99 730.25 v-2.2 M850.99 537.45 v2.2 M854.87 730.25 v-2.2 M854.87 537.45 v2.2 M858.76 730.25 v-2.2 M858.76 537.45 v2.2 M862.65 730.25 v-2.2 M862.65 537.45 v2.2 M866.53 730.25 v-2.2 M866.53 537.45 v2.2 M870.42 730.25 v-4.6 M870.42 537.45 v4.6 M874.31 730.25 v-2.2 M874.31 537.45 v2.2 M878.2 730.25 v-2.2 M878.2 537.45 v2.2 M882.08 730.25 v-2.2 M882.08 537.45 v2.2 M885.97 730.25 v-2.2 M885.97 537.45 v2.2 M889.86 730.25 v-2.2 M889.86 537.45 v2.2 M893.74 730.25 v-2.2 M893.74 537.45 v2.2 M897.63 730.25 v-2.2 M897.63 537.45 v2.2 M901.52 730.25 v-2.2 M901.52 537.45 v2.2 M905.41 730.25 v-2.2 M905.41 537.45 v2.2 M909.29 730.25 v-4.6 M909.29 537.45 v4.6 M913.18 730.25 v-2.2 M913.18 537.45 v2.2 M917.07 730.25 v-2.2 M917.07 537.45 v2.2 M920.95 730.25 v-2.2 M920.95 537.45 v2.2 M924.84 730.25 v-2.2 M924.84 537.45 v2.2 M928.73 730.25 v-2.2 M928.73 537.45 v2.2 M932.62 730.25 v-2.2 M932.62 537.45 v2.2 M936.5 730.25 v-2.2 M936.5 537.45 v2.2 M940.39 730.25 v-2.2 M940.39 537.45 v2.2 M944.28 730.25 v-2.2 M944.28 537.45 v2.2 M948.16 730.25 v-4.6 M948.16 537.45 v4.6 M952.05 730.25 v-2.2 M952.05 537.45 v2.2 M955.94 730.25 v-2.2 M955.94 537.45 v2.2 M959.83 730.25 v-2.2 M959.83 537.45 v2.2 M963.71 730.25 v-2.2 M963.71 537.45 v2.2 M695.5 719.74 h2.8 M967.6 719.74 h-2.8 M695.5 709.27 h5.8 M967.6 709.27 h-5.8 M695.5 698.8 h2.8 M967.6 698.8 h-2.8 M695.5 688.33 h2.8 M967.6 688.33 h-2.8 M695.5 677.86 h2.8 M967.6 677.86 h-2.8 M695.5 667.39 h5.8 M967.6 667.39 h-5.8 M695.5 656.92 h2.8 M967.6 656.92 h-2.8 M695.5 646.45 h2.8 M967.6 646.45 h-2.8 M695.5 635.98 h2.8 M967.6 635.98 h-2.8 M695.5 625.51 h5.8 M967.6 625.51 h-5.8 M695.5 615.04 h2.8 M967.6 615.04 h-2.8 M695.5 604.57 h2.8 M967.6 604.57 h-2.8 M695.5 594.1 h2.8 M967.6 594.1 h-2.8 M695.5 583.63 h5.8 M967.6 583.63 h-5.8 M695.5 573.16 h2.8 M967.6 573.16 h-2.8 M695.5 562.69 h2.8 M967.6 562.69 h-2.8 M695.5 552.22 h2.8 M967.6 552.22 h-2.8 M695.5 541.75 h5.8 M967.6 541.75 h-5.8" stroke="#000" stroke-width="1.4" fill="none"/>
<rect x="695.5" y="537.45" width="272.1" height="192.8" fill="none" stroke="#000" stroke-width="1.6"/>
<text x="760.55" y="528.45" font-family="Liberation Sans, sans-serif" class="t21" font-size="21.2" textLength="53" lengthAdjust="spacingAndGlyphs">2010</text>
<path d="M816.45 522.05 h12.2" stroke="#000" stroke-width="1.35"/>
<text x="831.55" y="528.45" font-family="Liberation Sans, sans-serif" class="t21" font-size="21.2" textLength="26.2" lengthAdjust="spacingAndGlyphs">02</text>
<path d="M860.65 522.05 h12.2" stroke="#000" stroke-width="1.35"/>
<text x="875.75" y="528.45" font-family="Liberation Sans, sans-serif" class="t21" font-size="21.2" textLength="26.2" lengthAdjust="spacingAndGlyphs">02</text>
<clipPath id="c30"><rect x="110.9" y="773.55" width="272.1" height="192.8"/></clipPath>
<g clip-path="url(#c30)">
<rect x="110.9" y="807.27" width="272.1" height="24.29" fill="#d9bebe"/>
<g fill="none" stroke="#000" stroke-width="1.45">
<circle cx="111.7" cy="864.21" r="3.25"/>
<circle cx="114.45" cy="864.21" r="3.25"/>
<circle cx="117.2" cy="864.21" r="3.25"/>
<circle cx="119.95" cy="864.21" r="3.25"/>
<circle cx="122.7" cy="864.21" r="3.25"/>
<circle cx="125.45" cy="864.21" r="3.25"/>
<circle cx="128.2" cy="864.21" r="3.25"/>
<circle cx="130.95" cy="864.27" r="3.25"/>
<circle cx="133.7" cy="864.37" r="3.25"/>
<circle cx="136.45" cy="864.51" r="3.25"/>
<circle cx="139.2" cy="864.66" r="3.25"/>
<circle cx="141.95" cy="864.83" r="3.25"/>
<circle cx="144.7" cy="865.04" r="3.25"/>
<circle cx="147.45" cy="865.3" r="3.25"/>
<circle cx="150.2" cy="865.61" r="3.25"/>
<circle cx="152.95" cy="865.94" r="3.25"/>
<circle cx="155.7" cy="866.3" r="3.25"/>
<circle cx="158.45" cy="866.72" r="3.25"/>
<circle cx="161.2" cy="867.2" r="3.25"/>
<circle cx="163.95" cy="867.76" r="3.25"/>
<circle cx="166.7" cy="868.42" r="3.25"/>
<circle cx="169.45" cy="869.24" r="3.25"/>
<circle cx="172.2" cy="870.18" r="3.25"/>
<circle cx="174.95" cy="871.19" r="3.25"/>
<circle cx="177.7" cy="872.25" r="3.25"/>
<circle cx="180.45" cy="873.44" r="3.25"/>
<circle cx="183.2" cy="874.7" r="3.25"/>
<circle cx="185.95" cy="875.96" r="3.25"/>
<circle cx="188.7" cy="877.27" r="3.25"/>
<circle cx="191.45" cy="878.75" r="3.25"/>
<circle cx="194.2" cy="880.54" r="3.25"/>
<circle cx="196.95" cy="882.74" r="3.25"/>
<circle cx="199.7" cy="885.57" r="3.25"/>
<circle cx="202.45" cy="889.09" r="3.25"/>
<circle cx="205.2" cy="894.23" r="3.25"/>
<circle cx="207.95" cy="901.55" r="3.25"/>
<circle cx="210.7" cy="909.36" r="3.25"/>
<circle cx="213.45" cy="915.73" r="3.25"/>
<circle cx="216.2" cy="919.05" r="3.25"/>
<circle cx="218.95" cy="920.24" r="3.25"/>
<circle cx="221.7" cy="921.45" r="3.25"/>
<circle cx="224.45" cy="923.99" r="3.25"/>
<circle cx="227.2" cy="926.98" r="3.25"/>
<circle cx="229.95" cy="929.73" r="3.25"/>
<circle cx="232.7" cy="932.48" r="3.25"/>
<circle cx="235.45" cy="935.23" r="3.25"/>
<circle cx="238.2" cy="938.12" r="3.25"/>
<circle cx="240.95" cy="940.96" r="3.25"/>
<circle cx="243.7" cy="943.38" r="3.25"/>
<circle cx="246.45" cy="945.59" r="3.25"/>
<circle cx="249.2" cy="947.46" r="3.25"/>
<circle cx="251.95" cy="948.59" r="3.25"/>
<circle cx="254.7" cy="949.33" r="3.25"/>
<circle cx="257.45" cy="949.73" r="3.25"/>
<circle cx="260.2" cy="949.75" r="3.25"/>
<circle cx="262.95" cy="949.63" r="3.25"/>
<circle cx="265.7" cy="948.19" r="3.25"/>
<circle cx="268.45" cy="946.49" r="3.25"/>
<circle cx="271.2" cy="944.69" r="3.25"/>
<circle cx="273.95" cy="943.42" r="3.25"/>
<circle cx="276.7" cy="942.59" r="3.25"/>
<circle cx="279.45" cy="941.91" r="3.25"/>
<circle cx="282.2" cy="941.25" r="3.25"/>
<circle cx="284.95" cy="940.48" r="3.25"/>
<circle cx="287.7" cy="939.7" r="3.25"/>
<circle cx="290.45" cy="938.9" r="3.25"/>
<circle cx="293.2" cy="938.04" r="3.25"/>
<circle cx="295.95" cy="937.1" r="3.25"/>
<circle cx="298.7" cy="936.13" r="3.25"/>
<circle cx="301.45" cy="935.07" r="3.25"/>
<circle cx="304.2" cy="933.85" r="3.25"/>
<circle cx="306.95" cy="932.36" r="3.25"/>
<circle cx="309.7" cy="930.42" r="3.25"/>
<circle cx="312.45" cy="928.13" r="3.25"/>
<circle cx="315.2" cy="925.65" r="3.25"/>
<circle cx="317.95" cy="923.13" r="3.25"/>
<circle cx="320.7" cy="920.44" r="3.25"/>
<circle cx="323.45" cy="917.58" r="3.25"/>
<circle cx="326.2" cy="914.6" r="3.25"/>
<circle cx="328.95" cy="911.53" r="3.25"/>
<circle cx="331.7" cy="908.33" r="3.25"/>
<circle cx="334.45" cy="904.99" r="3.25"/>
<circle cx="337.2" cy="901.51" r="3.25"/>
<circle cx="339.95" cy="897.82" r="3.25"/>
<circle cx="342.7" cy="894.05" r="3.25"/>
<circle cx="345.45" cy="890.19" r="3.25"/>
<circle cx="348.2" cy="886.2" r="3.25"/>
<circle cx="350.95" cy="882.54" r="3.25"/>
<circle cx="353.7" cy="879.31" r="3.25"/>
<circle cx="356.45" cy="876.33" r="3.25"/>
<circle cx="359.2" cy="873.79" r="3.25"/>
<circle cx="361.95" cy="871.78" r="3.25"/>
<circle cx="364.7" cy="870.12" r="3.25"/>
<circle cx="367.45" cy="868.75" r="3.25"/>
<circle cx="370.2" cy="867.58" r="3.25"/>
<circle cx="372.95" cy="866.58" r="3.25"/>
<circle cx="375.7" cy="865.76" r="3.25"/>
<circle cx="378.45" cy="865.07" r="3.25"/>
<circle cx="381.2" cy="864.5" r="3.25"/>
</g>
<path d="M111 861.51 L112 861.51 L113 861.51 L114 861.51 L115 861.51 L116 861.51 L117 861.51 L118 861.51 L119 861.51 L120 861.51 L121 861.51 L122 861.51 L123 861.51 L124 861.51 L125 861.51 L126 861.51 L127 861.51 L128 861.51 L129 861.52 L130 861.54 L131 861.57 L132 861.6 L133 861.64 L134 861.68 L135 861.73 L136 861.78 L137 861.84 L138 861.89 L139 861.95 L140 862.01 L141 862.07 L142 862.13 L143 862.2 L144 862.28 L145 862.36 L146 862.45 L147 862.55 L148 862.65 L149 862.76 L150 862.87 L151 862.99 L152 863.11 L153 863.24 L154 863.37 L155 863.51 L156 863.67 L157 863.84 L158 864.03 L159 864.23 L160 864.44 L161 864.65 L162 864.87 L163 865.1 L164 865.33 L165 865.56 L166 865.8 L167 866.04 L168 866.29 L169 866.55 L170 866.81 L171 867.09 L172 867.37 L173 867.66 L174 867.97 L175 868.28 L176 868.6 L177 868.94 L178 869.3 L179 869.67 L180 870.06 L181 870.46 L182 870.87 L183 871.29 L184 871.72 L185 872.15 L186 872.59 L187 873.04 L188 873.49 L189 873.95 L190 874.42 L191 874.91 L192 875.4 L193 875.9 L194 876.42 L195 876.95 L196 877.49 L197 878.04 L198 878.61 L199 879.17 L200 879.75 L201 880.35 L202 881 L203 881.7 L204 882.48 L205 883.37 L206 884.41 L207 885.55 L208 886.78 L209 888.05 L210 889.32 L211 890.58 L212 891.84 L213 893.15 L214 894.48 L215 895.83 L216 897.19 L217 898.56 L218 899.92 L219 901.26 L220 902.6 L221 903.96 L222 905.32 L223 906.68 L224 908.03 L225 909.36 L226 910.66 L227 911.93 L228 913.17 L229 914.4 L230 915.61 L231 916.81 L232 917.97 L233 919.11 L234 920.22 L235 921.28 L236 922.31 L237 923.33 L238 924.32 L239 925.29 L240 926.22 L241 927.12 L242 927.98 L243 928.79 L244 929.57 L245 930.31 L246 931.03 L247 931.72 L248 932.38 L249 933.01 L250 933.62 L251 934.19 L252 934.74 L253 935.31 L254 935.87 L255 936.41 L256 936.91 L257 937.37 L258 937.75 L259 938.05 L260 938.26 L261 938.44 L262 938.6 L263 938.74 L264 938.87 L265 938.98 L266 939.08 L267 939.18 L268 939.26 L269 939.34 L270 939.41 L271 939.47 L272 939.53 L273 939.59 L274 939.65 L275 939.72 L276 939.8 L277 939.9 L278 940.03 L279 940.16 L280 940.29 L281 940.41 L282 940.5 L283 940.56 L284 940.57 L285 940.5 L286 940.35 L287 940.14 L288 939.87 L289 939.56 L290 939.22 L291 938.86 L292 938.49 L293 938.12 L294 937.77 L295 937.44 L296 937.1 L297 936.76 L298 936.41 L299 936.05 L300 935.67 L301 935.27 L302 934.86 L303 934.41 L304 933.95 L305 933.45 L306 932.92 L307 932.33 L308 931.67 L309 930.95 L310 930.18 L311 929.37 L312 928.52 L313 927.64 L314 926.74 L315 925.83 L316 924.92 L317 924.01 L318 923.09 L319 922.13 L320 921.15 L321 920.14 L322 919.11 L323 918.05 L324 916.99 L325 915.91 L326 914.82 L327 913.72 L328 912.6 L329 911.47 L330 910.32 L331 909.16 L332 907.97 L333 906.77 L334 905.55 L335 904.31 L336 903.05 L337 901.77 L338 900.45 L339 899.11 L340 897.76 L341 896.39 L342 895.01 L343 893.64 L344 892.26 L345 890.84 L346 889.39 L347 887.93 L348 886.49 L349 885.08 L350 883.73 L351 882.48 L352 881.29 L353 880.12 L354 878.97 L355 877.86 L356 876.8 L357 875.78 L358 874.83 L359 873.95 L360 873.16 L361 872.43 L362 871.75 L363 871.11 L364 870.52 L365 869.96 L366 869.44 L367 868.95 L368 868.5 L369 868.07 L370 867.66 L371 867.27 L372 866.9 L373 866.56 L374 866.24 L375 865.95 L376 865.68 L377 865.42 L378 865.17 L379 864.94 L380 864.73 L381 864.53 L382 864.36 L383 864.21" fill="none" stroke="#ff0000" stroke-width="1.6" stroke-linejoin="round"/>
<path d="M111 861.51 L112 861.51 L113 861.51 L114 861.52 L115 861.52 L116 861.53 L117 861.54 L118 861.56 L119 861.57 L120 861.58 L121 861.6 L122 861.62 L123 861.64 L124 861.66 L125 861.68 L126 861.7 L127 861.73 L128 861.75 L129 861.78 L130 861.81 L131 861.84 L132 861.86 L133 861.89 L134 861.92 L135 861.95 L136 861.98 L137 862.02 L138 862.05 L139 862.08 L140 862.12 L141 862.17 L142 862.22 L143 862.27 L144 862.33 L145 862.4 L146 862.47 L147 862.54 L148 862.61 L149 862.69 L150 862.77 L151 862.86 L152 862.94 L153 863.03 L154 863.12 L155 863.22 L156 863.31 L157 863.41 L158 863.51 L159 863.61 L160 863.71 L161 863.81 L162 863.91 L163 864.01 L164 864.11 L165 864.21 L166 864.31 L167 864.42 L168 864.54 L169 864.66 L170 864.79 L171 864.92 L172 865.06 L173 865.2 L174 865.34 L175 865.48 L176 865.62 L177 865.75 L178 865.89 L179 866.03 L180 866.16 L181 866.29 L182 866.42 L183 866.54 L184 866.65 L185 866.76 L186 866.85 L187 866.94 L188 867.02 L189 867.1 L190 867.18 L191 867.26 L192 867.35 L193 867.44 L194 867.54 L195 867.66 L196 867.78 L197 867.93 L198 868.1 L199 868.32 L200 868.6 L201 868.91 L202 869.27 L203 869.65 L204 870.06 L205 870.49 L206 870.96 L207 871.56 L208 872.27 L209 873.01 L210 873.74 L211 874.4 L212 874.92 L213 875.34 L214 875.74 L215 876.01 L216 875.98 L217 874.53 L218 872.32 L219 870.61 L220 869.46 L221 868.39 L222 867.44 L223 866.69 L224 866.19 L225 865.94 L226 865.74 L227 865.56 L228 865.4 L229 865.26 L230 865.14 L231 865.04 L232 864.95 L233 864.88 L234 864.81 L235 864.75 L236 864.7 L237 864.66 L238 864.62 L239 864.59 L240 864.56 L241 864.54 L242 864.51 L243 864.49 L244 864.47 L245 864.45 L246 864.42 L247 864.39 L248 864.36 L249 864.32 L250 864.28 L251 864.22 L252 864.15 L253 864.04 L254 863.88 L255 863.69 L256 863.48 L257 863.25 L258 863.01 L259 862.76 L260 862.52 L261 862.28 L262 862.07 L263 861.86 L264 861.62 L265 861.36 L266 861.09 L267 860.83 L268 860.58 L269 860.35 L270 860.16 L271 860.01 L272 859.92 L273 859.89 L274 859.89 L275 859.89 L276 859.89 L277 859.89 L278 859.89 L279 859.89 L280 859.89 L281 859.89 L282 859.89 L283 859.89 L284 859.89 L285 859.89 L286 859.89 L287 859.88 L288 859.86 L289 859.81 L290 859.74 L291 859.66 L292 859.57 L293 859.47 L294 859.36 L295 859.26 L296 859.15 L297 859.05 L298 858.95 L299 858.87 L300 858.8 L301 858.74 L302 858.68 L303 858.62 L304 858.57 L305 858.51 L306 858.46 L307 858.41 L308 858.36 L309 858.31 L310 858.26 L311 858.22 L312 858.17 L313 858.13 L314 858.09 L315 858.04 L316 858 L317 857.96 L318 857.93 L319 857.89 L320 857.85 L321 857.81 L322 857.78 L323 857.75 L324 857.71 L325 857.68 L326 857.65 L327 857.62 L328 857.59 L329 857.56 L330 857.53 L331 857.5 L332 857.47 L333 857.44 L334 857.41 L335 857.37 L336 857.34 L337 857.31 L338 857.28 L339 857.25 L340 857.23 L341 857.21 L342 857.2 L343 857.19 L344 857.2 L345 857.23 L346 857.28 L347 857.35 L348 857.43 L349 857.51 L350 857.61 L351 857.71 L352 857.81 L353 857.92 L354 858.01 L355 858.12 L356 858.24 L357 858.38 L358 858.52 L359 858.67 L360 858.83 L361 858.99 L362 859.15 L363 859.3 L364 859.45 L365 859.6 L366 859.73 L367 859.85 L368 859.96 L369 860.06 L370 860.17 L371 860.27 L372 860.37 L373 860.46 L374 860.56 L375 860.65 L376 860.73 L377 860.82 L378 860.9 L379 860.97 L380 861.05 L381 861.11 L382 861.18 L383 861.24" fill="none" stroke="#ff00cc" stroke-width="1.5" stroke-dasharray="6.4 5.7"/>
<path d="M111 861.51 L112 861.51 L113 861.51 L114 861.52 L115 861.52 L116 861.53 L117 861.54 L118 861.56 L119 861.57 L120 861.58 L121 861.6 L122 861.62 L123 861.64 L124 861.66 L125 861.68 L126 861.7 L127 861.73 L128 861.75 L129 861.78 L130 861.81 L131 861.84 L132 861.86 L133 861.89 L134 861.92 L135 861.95 L136 861.98 L137 862.02 L138 862.05 L139 862.08 L140 862.12 L141 862.17 L142 862.22 L143 862.27 L144 862.33 L145 862.4 L146 862.47 L147 862.54 L148 862.61 L149 862.69 L150 862.77 L151 862.86 L152 862.94 L153 863.03 L154 863.12 L155 863.22 L156 863.31 L157 863.41 L158 863.51 L159 863.61 L160 863.71 L161 863.81 L162 863.91 L163 864.01 L164 864.11 L165 864.21 L166 864.31 L167 864.42 L168 864.54 L169 864.66 L170 864.79 L171 864.92 L172 865.06 L173 865.2 L174 865.34 L175 865.48 L176 865.62 L177 865.75 L178 865.89 L179 866.03 L180 866.16 L181 866.29 L182 866.42 L183 866.54 L184 866.65 L185 866.75 L186 866.85 L187 866.93 L188 867.01 L189 867.09 L190 867.16 L191 867.24 L192 867.33 L193 867.42 L194 867.52 L195 867.64 L196 867.77 L197 867.93 L198 868.12 L199 868.43 L200 868.82 L201 869.28 L202 869.78 L203 870.3 L204 870.81 L205 871.29 L206 871.74 L207 872.18 L208 872.64 L209 873.1 L210 873.55 L211 873.99 L212 874.41 L213 874.8 L214 875.17 L215 875.53 L216 875.89 L217 876.24 L218 876.59 L219 876.92 L220 877.23 L221 877.52 L222 877.78 L223 878 L224 878.19 L225 878.34 L226 878.49 L227 878.63 L228 878.77 L229 878.89 L230 879.01 L231 879.11 L232 879.19 L233 879.26 L234 879.3 L235 879.32 L236 879.31 L237 879.3 L238 879.27 L239 879.23 L240 879.19 L241 879.13 L242 879.07 L243 879 L244 878.93 L245 878.85 L246 878.77 L247 878.67 L248 878.53 L249 878.37 L250 878.17 L251 877.95 L252 877.71 L253 877.45 L254 877.17 L255 876.88 L256 876.57 L257 876.26 L258 875.89 L259 875.47 L260 875 L261 874.49 L262 873.95 L263 873.38 L264 872.79 L265 872.18 L266 871.5 L267 870.74 L268 869.92 L269 869.08 L270 868.24 L271 867.43 L272 866.69 L273 866.04 L274 865.43 L275 864.84 L276 864.27 L277 863.73 L278 863.23 L279 862.77 L280 862.38 L281 862.05 L282 861.77 L283 861.51 L284 861.27 L285 861.04 L286 860.83 L287 860.64 L288 860.46 L289 860.3 L290 860.14 L291 860 L292 859.86 L293 859.73 L294 859.61 L295 859.49 L296 859.38 L297 859.28 L298 859.17 L299 859.08 L300 858.99 L301 858.9 L302 858.81 L303 858.73 L304 858.64 L305 858.56 L306 858.48 L307 858.4 L308 858.32 L309 858.23 L310 858.15 L311 858.07 L312 857.99 L313 857.91 L314 857.84 L315 857.77 L316 857.71 L317 857.65 L318 857.59 L319 857.55 L320 857.5 L321 857.47 L322 857.45 L323 857.42 L324 857.4 L325 857.38 L326 857.36 L327 857.34 L328 857.32 L329 857.3 L330 857.28 L331 857.27 L332 857.25 L333 857.24 L334 857.23 L335 857.22 L336 857.21 L337 857.2 L338 857.2 L339 857.19 L340 857.19 L341 857.19 L342 857.21 L343 857.24 L344 857.27 L345 857.32 L346 857.38 L347 857.45 L348 857.52 L349 857.59 L350 857.67 L351 857.76 L352 857.84 L353 857.93 L354 858.01 L355 858.11 L356 858.22 L357 858.35 L358 858.5 L359 858.65 L360 858.81 L361 858.97 L362 859.13 L363 859.29 L364 859.45 L365 859.59 L366 859.73 L367 859.85 L368 859.96 L369 860.06 L370 860.17 L371 860.27 L372 860.37 L373 860.46 L374 860.56 L375 860.65 L376 860.73 L377 860.82 L378 860.9 L379 860.97 L380 861.05 L381 861.11 L382 861.18 L383 861.24" fill="none" stroke="#0000ff" stroke-width="1.5" stroke-dasharray="6.7 2.6 1.5 3"/>
<path d="M111 845.32 L113.7 832.37 L116.4 816.17 L119.1 824.27 L122.33 815.63 L125.03 820.22 L127.73 816.17 L130.43 822.92 L133.94 814.83 L136.63 818.87 L139.33 822.11 L142.03 805.38 L144.73 810.24 L147.43 825.62 L150.94 829.67 L154.17 828.32 L158.22 824.81 L161.73 836.95 L164.43 829.67 L167.67 818.87 L170.37 833.71 L173.06 804.03 L175.76 825.62 L178.46 835.06 L181.7 845.86 L184.4 826.97 L187.1 813.48 L189.79 812.13 L192.49 805.38 L195.19 825.62 L197.89 850.71 L200.59 829.67 L203.29 828.32 L205.98 833.71 L209.49 840.46 L212.19 839.11 L215.43 852.06 L218.13 828.32 L221.1 830.21 L223.79 827.78 L227.03 840.46 L229.73 822.92 L232.97 824.27 L235.67 819.41 L239.17 814.83 L242.68 815.63 L245.38 791.89 L248.08 798.63 L251.32 785.14 L254.02 797.83 L257.25 774.35 L259.95 785.14 L262.65 795.94 L265.35 813.48 L268.86 821.57 L271.56 831.02 L273.71 839.11 L276.95 821.57 L279.65 826.97 L283.16 816.17 L285.86 807.54 L289.1 813.48 L291.25 816.17 L293.95 805.92 L296.65 806.73 L299.35 829.67 L302.05 823.73 L305.29 831.02 L308.52 826.97 L310.68 837.22 L313.92 818.87 L316.62 814.83 L319.32 828.32 L322.83 828.32 L326.33 826.97 L329.57 795.94 L332.27 831.02 L335.51 818.87 L339.02 825.62 L342.52 815.63 L345.76 814.83 L349 818.87 L351.97 821.57 L355.21 824.81 L358.71 813.48 L361.41 806.73 L363.84 801.33 L366.54 825.62 L370.05 824.27 L373.29 822.92 L376.79 835.06 L379.49 836.41 L383 821.57" fill="none" stroke="#000" stroke-width="1.5" stroke-linejoin="round"/>
<path d="M110.9 819.73 H383" stroke="#000" stroke-width="1.35" stroke-dasharray="6.4 5.7" fill="none"/>
<path d="M197.62 966.35 V773.55" stroke="#000" stroke-width="1.35" stroke-dasharray="6.4 5.7" fill="none"/>
<path d="M290.98 966.35 V773.55" stroke="#000" stroke-width="1.35" stroke-dasharray="6.4 5.7" fill="none"/>
</g>
<path d="M114.79 966.35 v-2.2 M114.79 773.55 v2.2 M118.67 966.35 v-2.2 M118.67 773.55 v2.2 M122.56 966.35 v-2.2 M122.56 773.55 v2.2 M126.45 966.35 v-2.2 M126.45 773.55 v2.2 M130.34 966.35 v-4.6 M130.34 773.55 v4.6 M134.22 966.35 v-2.2 M134.22 773.55 v2.2 M138.11 966.35 v-2.2 M138.11 773.55 v2.2 M142 966.35 v-2.2 M142 773.55 v2.2 M145.88 966.35 v-2.2 M145.88 773.55 v2.2 M149.77 966.35 v-2.2 M149.77 773.55 v2.2 M153.66 966.35 v-2.2 M153.66 773.55 v2.2 M157.55 966.35 v-2.2 M157.55 773.55 v2.2 M161.43 966.35 v-2.2 M161.43 773.55 v2.2 M165.32 966.35 v-2.2 M165.32 773.55 v2.2 M169.21 966.35 v-4.6 M169.21 773.55 v4.6 M173.09 966.35 v-2.2 M173.09 773.55 v2.2 M176.98 966.35 v-2.2 M176.98 773.55 v2.2 M180.87 966.35 v-2.2 M180.87 773.55 v2.2 M184.76 966.35 v-2.2 M184.76 773.55 v2.2 M188.64 966.35 v-2.2 M188.64 773.55 v2.2 M192.53 966.35 v-2.2 M192.53 773.55 v2.2 M196.42 966.35 v-2.2 M196.42 773.55 v2.2 M200.3 966.35 v-2.2 M200.3 773.55 v2.2 M204.19 966.35 v-2.2 M204.19 773.55 v2.2 M208.08 966.35 v-4.6 M208.08 773.55 v4.6 M211.97 966.35 v-2.2 M211.97 773.55 v2.2 M215.85 966.35 v-2.2 M215.85 773.55 v2.2 M219.74 966.35 v-2.2 M219.74 773.55 v2.2 M223.63 966.35 v-2.2 M223.63 773.55 v2.2 M227.51 966.35 v-2.2 M227.51 773.55 v2.2 M231.4 966.35 v-2.2 M231.4 773.55 v2.2 M235.29 966.35 v-2.2 M235.29 773.55 v2.2 M239.18 966.35 v-2.2 M239.18 773.55 v2.2 M243.06 966.35 v-2.2 M243.06 773.55 v2.2 M246.95 966.35 v-4.6 M246.95 773.55 v4.6 M250.84 966.35 v-2.2 M250.84 773.55 v2.2 M254.72 966.35 v-2.2 M254.72 773.55 v2.2 M258.61 966.35 v-2.2 M258.61 773.55 v2.2 M262.5 966.35 v-2.2 M262.5 773.55 v2.2 M266.39 966.35 v-2.2 M266.39 773.55 v2.2 M270.27 966.35 v-2.2 M270.27 773.55 v2.2 M274.16 966.35 v-2.2 M274.16 773.55 v2.2 M278.05 966.35 v-2.2 M278.05 773.55 v2.2 M281.93 966.35 v-2.2 M281.93 773.55 v2.2 M285.82 966.35 v-4.6 M285.82 773.55 v4.6 M289.71 966.35 v-2.2 M289.71 773.55 v2.2 M293.6 966.35 v-2.2 M293.6 773.55 v2.2 M297.48 966.35 v-2.2 M297.48 773.55 v2.2 M301.37 966.35 v-2.2 M301.37 773.55 v2.2 M305.26 966.35 v-2.2 M305.26 773.55 v2.2 M309.14 966.35 v-2.2 M309.14 773.55 v2.2 M313.03 966.35 v-2.2 M313.03 773.55 v2.2 M316.92 966.35 v-2.2 M316.92 773.55 v2.2 M320.81 966.35 v-2.2 M320.81 773.55 v2.2 M324.69 966.35 v-4.6 M324.69 773.55 v4.6 M328.58 966.35 v-2.2 M328.58 773.55 v2.2 M332.47 966.35 v-2.2 M332.47 773.55 v2.2 M336.35 966.35 v-2.2 M336.35 773.55 v2.2 M340.24 966.35 v-2.2 M340.24 773.55 v2.2 M344.13 966.35 v-2.2 M344.13 773.55 v2.2 M348.02 966.35 v-2.2 M348.02 773.55 v2.2 M351.9 966.35 v-2.2 M351.9 773.55 v2.2 M355.79 966.35 v-2.2 M355.79 773.55 v2.2 M359.68 966.35 v-2.2 M359.68 773.55 v2.2 M363.56 966.35 v-4.6 M363.56 773.55 v4.6 M367.45 966.35 v-2.2 M367.45 773.55 v2.2 M371.34 966.35 v-2.2 M371.34 773.55 v2.2 M375.23 966.35 v-2.2 M375.23 773.55 v2.2 M379.11 966.35 v-2.2 M379.11 773.55 v2.2 M110.9 955.84 h2.8 M383 955.84 h-2.8 M110.9 945.37 h5.8 M383 945.37 h-5.8 M110.9 934.9 h2.8 M383 934.9 h-2.8 M110.9 924.43 h2.8 M383 924.43 h-2.8 M110.9 913.96 h2.8 M383 913.96 h-2.8 M110.9 903.49 h5.8 M383 903.49 h-5.8 M110.9 893.02 h2.8 M383 893.02 h-2.8 M110.9 882.55 h2.8 M383 882.55 h-2.8 M110.9 872.08 h2.8 M383 872.08 h-2.8 M110.9 861.61 h5.8 M383 861.61 h-5.8 M110.9 851.14 h2.8 M383 851.14 h-2.8 M110.9 840.67 h2.8 M383 840.67 h-2.8 M110.9 830.2 h2.8 M383 830.2 h-2.8 M110.9 819.73 h5.8 M383 819.73 h-5.8 M110.9 809.26 h2.8 M383 809.26 h-2.8 M110.9 798.79 h2.8 M383 798.79 h-2.8 M110.9 788.32 h2.8 M383 788.32 h-2.8 M110.9 777.85 h5.8 M383 777.85 h-5.8" stroke="#000" stroke-width="1.4" fill="none"/>
<rect x="110.9" y="773.55" width="272.1" height="192.8" fill="none" stroke="#000" stroke-width="1.6"/>
<text x="175.95" y="764.55" font-family="Liberation Sans, sans-serif" class="t21" font-size="21.2" textLength="53" lengthAdjust="spacingAndGlyphs">2007</text>
<path d="M231.85 758.15 h12.2" stroke="#000" stroke-width="1.35"/>
<text x="246.95" y="764.55" font-family="Liberation Sans, sans-serif" class="t21" font-size="21.2" textLength="26.2" lengthAdjust="spacingAndGlyphs">03</text>
<path d="M276.05 758.15 h12.2" stroke="#000" stroke-width="1.35"/>
<text x="291.15" y="764.55" font-family="Liberation Sans, sans-serif" class="t21" font-size="21.2" textLength="26.2" lengthAdjust="spacingAndGlyphs">08</text>
<text x="104.4" y="952.97" font-family="Liberation Sans, sans-serif" class="t16" font-size="16.8" text-anchor="end" textLength="24.2" lengthAdjust="spacingAndGlyphs">0.6</text>
<text x="104.4" y="911.09" font-family="Liberation Sans, sans-serif" class="t16" font-size="16.8" text-anchor="end" textLength="24.2" lengthAdjust="spacingAndGlyphs">0.8</text>
<text x="104.4" y="869.21" font-family="Liberation Sans, sans-serif" class="t16" font-size="16.8" text-anchor="end" textLength="24.2" lengthAdjust="spacingAndGlyphs">1.0</text>
<text x="104.4" y="827.33" font-family="Liberation Sans, sans-serif" class="t16" font-size="16.8" text-anchor="end" textLength="24.2" lengthAdjust="spacingAndGlyphs">1.2</text>
<text x="104.4" y="785.45" font-family="Liberation Sans, sans-serif" class="t16" font-size="16.8" text-anchor="end" textLength="24.2" lengthAdjust="spacingAndGlyphs">1.4</text>
<text x="130.04" y="991.35" font-family="Liberation Sans, sans-serif" class="t16" font-size="16.8" text-anchor="middle" textLength="43.8" lengthAdjust="spacingAndGlyphs">−300</text>
<text x="168.91" y="991.35" font-family="Liberation Sans, sans-serif" class="t16" font-size="16.8" text-anchor="middle" textLength="43.8" lengthAdjust="spacingAndGlyphs">−200</text>
<text x="207.78" y="991.35" font-family="Liberation Sans, sans-serif" class="t16" font-size="16.8" text-anchor="middle" textLength="43.8" lengthAdjust="spacingAndGlyphs">−100</text>
<text x="246.65" y="991.35" font-family="Liberation Sans, sans-serif" class="t16" font-size="16.8" text-anchor="middle" textLength="10" lengthAdjust="spacingAndGlyphs">0</text>
<text x="285.52" y="991.35" font-family="Liberation Sans, sans-serif" class="t16" font-size="16.8" text-anchor="middle" textLength="30.8" lengthAdjust="spacingAndGlyphs">100</text>
<text x="324.39" y="991.35" font-family="Liberation Sans, sans-serif" class="t16" font-size="16.8" text-anchor="middle" textLength="30.8" lengthAdjust="spacingAndGlyphs">200</text>
<text x="363.26" y="991.35" font-family="Liberation Sans, sans-serif" class="t16" font-size="16.8" text-anchor="middle" textLength="30.8" lengthAdjust="spacingAndGlyphs">300</text>
<clipPath id="c31"><rect x="403.3" y="773.55" width="272.1" height="192.8"/></clipPath>
<g clip-path="url(#c31)">
<rect x="403.3" y="812.67" width="272.1" height="13.76" fill="#d9bebe"/>
<g fill="none" stroke="#000" stroke-width="1.45">
<circle cx="404.1" cy="864.21" r="3.25"/>
<circle cx="406.85" cy="864.21" r="3.25"/>
<circle cx="409.6" cy="864.21" r="3.25"/>
<circle cx="412.35" cy="864.21" r="3.25"/>
<circle cx="415.1" cy="864.21" r="3.25"/>
<circle cx="417.85" cy="864.21" r="3.25"/>
<circle cx="420.6" cy="864.21" r="3.25"/>
<circle cx="423.35" cy="864.21" r="3.25"/>
<circle cx="426.1" cy="864.21" r="3.25"/>
<circle cx="428.85" cy="864.21" r="3.25"/>
<circle cx="431.6" cy="864.21" r="3.25"/>
<circle cx="434.35" cy="864.22" r="3.25"/>
<circle cx="437.1" cy="864.27" r="3.25"/>
<circle cx="439.85" cy="864.37" r="3.25"/>
<circle cx="442.6" cy="864.52" r="3.25"/>
<circle cx="445.35" cy="864.69" r="3.25"/>
<circle cx="448.1" cy="864.99" r="3.25"/>
<circle cx="450.85" cy="865.62" r="3.25"/>
<circle cx="453.6" cy="866.44" r="3.25"/>
<circle cx="456.35" cy="867.27" r="3.25"/>
<circle cx="459.1" cy="868.02" r="3.25"/>
<circle cx="461.85" cy="868.77" r="3.25"/>
<circle cx="464.6" cy="869.59" r="3.25"/>
<circle cx="467.35" cy="870.53" r="3.25"/>
<circle cx="470.1" cy="871.7" r="3.25"/>
<circle cx="472.85" cy="873.12" r="3.25"/>
<circle cx="475.6" cy="874.6" r="3.25"/>
<circle cx="478.35" cy="875.97" r="3.25"/>
<circle cx="481.1" cy="877.36" r="3.25"/>
<circle cx="483.85" cy="878.98" r="3.25"/>
<circle cx="486.6" cy="881.04" r="3.25"/>
<circle cx="489.35" cy="883.64" r="3.25"/>
<circle cx="492.1" cy="887.01" r="3.25"/>
<circle cx="494.85" cy="891.95" r="3.25"/>
<circle cx="497.6" cy="899.39" r="3.25"/>
<circle cx="500.35" cy="907.5" r="3.25"/>
<circle cx="503.1" cy="914.76" r="3.25"/>
<circle cx="505.85" cy="919.61" r="3.25"/>
<circle cx="508.6" cy="921.56" r="3.25"/>
<circle cx="511.35" cy="923.42" r="3.25"/>
<circle cx="514.1" cy="925.19" r="3.25"/>
<circle cx="516.85" cy="927.24" r="3.25"/>
<circle cx="519.6" cy="929.85" r="3.25"/>
<circle cx="522.35" cy="932.75" r="3.25"/>
<circle cx="525.1" cy="935.59" r="3.25"/>
<circle cx="527.85" cy="938.53" r="3.25"/>
<circle cx="530.6" cy="941.36" r="3.25"/>
<circle cx="533.35" cy="943.61" r="3.25"/>
<circle cx="536.1" cy="945.49" r="3.25"/>
<circle cx="538.85" cy="947.06" r="3.25"/>
<circle cx="541.6" cy="948.24" r="3.25"/>
<circle cx="544.35" cy="949.18" r="3.25"/>
<circle cx="547.1" cy="949.94" r="3.25"/>
<circle cx="549.85" cy="950.52" r="3.25"/>
<circle cx="552.6" cy="951" r="3.25"/>
<circle cx="555.35" cy="951.02" r="3.25"/>
<circle cx="558.1" cy="950.49" r="3.25"/>
<circle cx="560.85" cy="949.75" r="3.25"/>
<circle cx="563.6" cy="948.82" r="3.25"/>
<circle cx="566.35" cy="947.63" r="3.25"/>
<circle cx="569.1" cy="946.29" r="3.25"/>
<circle cx="571.85" cy="944.7" r="3.25"/>
<circle cx="574.6" cy="943.07" r="3.25"/>
<circle cx="577.35" cy="941.61" r="3.25"/>
<circle cx="580.1" cy="940.3" r="3.25"/>
<circle cx="582.85" cy="938.99" r="3.25"/>
<circle cx="585.6" cy="937.57" r="3.25"/>
<circle cx="588.35" cy="935.92" r="3.25"/>
<circle cx="591.1" cy="934.05" r="3.25"/>
<circle cx="593.85" cy="932.06" r="3.25"/>
<circle cx="596.6" cy="930.01" r="3.25"/>
<circle cx="599.35" cy="927.98" r="3.25"/>
<circle cx="602.1" cy="925.91" r="3.25"/>
<circle cx="604.85" cy="923.77" r="3.25"/>
<circle cx="607.6" cy="921.54" r="3.25"/>
<circle cx="610.35" cy="919.22" r="3.25"/>
<circle cx="613.1" cy="916.83" r="3.25"/>
<circle cx="615.85" cy="914.33" r="3.25"/>
<circle cx="618.6" cy="911.7" r="3.25"/>
<circle cx="621.35" cy="908.9" r="3.25"/>
<circle cx="624.1" cy="905.92" r="3.25"/>
<circle cx="626.85" cy="902.76" r="3.25"/>
<circle cx="629.6" cy="899.46" r="3.25"/>
<circle cx="632.35" cy="895.92" r="3.25"/>
<circle cx="635.1" cy="892.23" r="3.25"/>
<circle cx="637.85" cy="888.55" r="3.25"/>
<circle cx="640.6" cy="884.67" r="3.25"/>
<circle cx="643.35" cy="880.86" r="3.25"/>
<circle cx="646.1" cy="877.72" r="3.25"/>
<circle cx="648.85" cy="875.17" r="3.25"/>
<circle cx="651.6" cy="872.99" r="3.25"/>
<circle cx="654.35" cy="871.18" r="3.25"/>
<circle cx="657.1" cy="869.64" r="3.25"/>
<circle cx="659.85" cy="868.34" r="3.25"/>
<circle cx="662.6" cy="867.24" r="3.25"/>
<circle cx="665.35" cy="866.29" r="3.25"/>
<circle cx="668.1" cy="865.53" r="3.25"/>
<circle cx="670.85" cy="864.91" r="3.25"/>
<circle cx="673.6" cy="864.4" r="3.25"/>
</g>
<path d="M403 861.51 L404 861.54 L405 861.57 L406 861.6 L407 861.63 L408 861.66 L409 861.69 L410 861.73 L411 861.76 L412 861.79 L413 861.83 L414 861.86 L415 861.9 L416 861.93 L417 861.97 L418 862 L419 862.04 L420 862.08 L421 862.11 L422 862.15 L423 862.18 L424 862.21 L425 862.25 L426 862.28 L427 862.32 L428 862.36 L429 862.4 L430 862.45 L431 862.5 L432 862.55 L433 862.61 L434 862.67 L435 862.74 L436 862.82 L437 862.9 L438 862.99 L439 863.09 L440 863.19 L441 863.3 L442 863.41 L443 863.53 L444 863.65 L445 863.78 L446 863.91 L447 864.05 L448 864.21 L449 864.38 L450 864.56 L451 864.75 L452 864.95 L453 865.17 L454 865.39 L455 865.62 L456 865.86 L457 866.1 L458 866.36 L459 866.64 L460 866.93 L461 867.24 L462 867.57 L463 867.9 L464 868.25 L465 868.6 L466 868.96 L467 869.32 L468 869.69 L469 870.07 L470 870.45 L471 870.85 L472 871.25 L473 871.67 L474 872.09 L475 872.53 L476 872.98 L477 873.45 L478 873.92 L479 874.41 L480 874.91 L481 875.41 L482 875.93 L483 876.47 L484 877.03 L485 877.6 L486 878.2 L487 878.82 L488 879.47 L489 880.15 L490 880.87 L491 881.63 L492 882.43 L493 883.29 L494 884.21 L495 885.19 L496 886.23 L497 887.38 L498 888.69 L499 890.1 L500 891.58 L501 893.08 L502 894.57 L503 896 L504 897.43 L505 898.89 L506 900.36 L507 901.82 L508 903.25 L509 904.63 L510 905.95 L511 907.19 L512 908.32 L513 909.39 L514 910.42 L515 911.45 L516 912.48 L517 913.51 L518 914.52 L519 915.54 L520 916.54 L521 917.53 L522 918.51 L523 919.48 L524 920.44 L525 921.4 L526 922.38 L527 923.35 L528 924.31 L529 925.25 L530 926.15 L531 927.02 L532 927.83 L533 928.58 L534 929.27 L535 929.92 L536 930.54 L537 931.14 L538 931.71 L539 932.28 L540 932.85 L541 933.42 L542 934 L543 934.61 L544 935.24 L545 935.86 L546 936.48 L547 937.09 L548 937.66 L549 938.2 L550 938.69 L551 939.12 L552 939.52 L553 939.9 L554 940.27 L555 940.61 L556 940.93 L557 941.24 L558 941.52 L559 941.79 L560 942.05 L561 942.31 L562 942.58 L563 942.85 L564 943.08 L565 943.29 L566 943.44 L567 943.52 L568 943.53 L569 943.45 L570 943.29 L571 943.07 L572 942.8 L573 942.5 L574 942.18 L575 941.86 L576 941.56 L577 941.24 L578 940.89 L579 940.52 L580 940.13 L581 939.71 L582 939.27 L583 938.81 L584 938.33 L585 937.84 L586 937.32 L587 936.79 L588 936.21 L589 935.58 L590 934.91 L591 934.21 L592 933.48 L593 932.74 L594 931.98 L595 931.22 L596 930.47 L597 929.72 L598 928.98 L599 928.24 L600 927.49 L601 926.74 L602 925.98 L603 925.21 L604 924.44 L605 923.65 L606 922.85 L607 922.04 L608 921.21 L609 920.37 L610 919.52 L611 918.67 L612 917.8 L613 916.92 L614 916.02 L615 915.11 L616 914.19 L617 913.24 L618 912.28 L619 911.3 L620 910.3 L621 909.27 L622 908.21 L623 907.13 L624 906.03 L625 904.9 L626 903.75 L627 902.58 L628 901.4 L629 900.19 L630 898.96 L631 897.68 L632 896.38 L633 895.06 L634 893.72 L635 892.37 L636 891.02 L637 889.68 L638 888.35 L639 886.96 L640 885.53 L641 884.1 L642 882.68 L643 881.32 L644 880.04 L645 878.86 L646 877.82 L647 876.85 L648 875.92 L649 875.04 L650 874.22 L651 873.44 L652 872.71 L653 872.03 L654 871.39 L655 870.79 L656 870.23 L657 869.69 L658 869.19 L659 868.72 L660 868.27 L661 867.86 L662 867.47 L663 867.09 L664 866.74 L665 866.4 L666 866.09 L667 865.81 L668 865.55 L669 865.31 L670 865.09 L671 864.87 L672 864.68 L673 864.5 L674 864.34 L675 864.21" fill="none" stroke="#ff0000" stroke-width="1.6" stroke-linejoin="round"/>
<path d="M403 861.51 L404 861.53 L405 861.55 L406 861.58 L407 861.6 L408 861.63 L409 861.66 L410 861.69 L411 861.73 L412 861.76 L413 861.8 L414 861.84 L415 861.87 L416 861.91 L417 861.96 L418 862 L419 862.04 L420 862.09 L421 862.13 L422 862.18 L423 862.23 L424 862.28 L425 862.33 L426 862.38 L427 862.43 L428 862.48 L429 862.54 L430 862.59 L431 862.64 L432 862.7 L433 862.76 L434 862.82 L435 862.89 L436 862.96 L437 863.03 L438 863.1 L439 863.17 L440 863.25 L441 863.33 L442 863.41 L443 863.49 L444 863.57 L445 863.65 L446 863.74 L447 863.83 L448 863.92 L449 864 L450 864.1 L451 864.19 L452 864.28 L453 864.37 L454 864.47 L455 864.56 L456 864.65 L457 864.75 L458 864.85 L459 864.95 L460 865.06 L461 865.17 L462 865.29 L463 865.41 L464 865.53 L465 865.65 L466 865.78 L467 865.9 L468 866.03 L469 866.15 L470 866.27 L471 866.39 L472 866.5 L473 866.61 L474 866.72 L475 866.82 L476 866.92 L477 867 L478 867.08 L479 867.15 L480 867.21 L481 867.27 L482 867.33 L483 867.4 L484 867.46 L485 867.53 L486 867.62 L487 867.71 L488 867.82 L489 867.94 L490 868.09 L491 868.3 L492 868.58 L493 868.9 L494 869.27 L495 869.67 L496 870.1 L497 870.68 L498 871.52 L499 872.49 L500 873.45 L501 874.27 L502 874.83 L503 875 L504 875 L505 875 L506 875 L507 874.99 L508 874.31 L509 872.91 L510 871.32 L511 870.08 L512 869.13 L513 868.18 L514 867.33 L515 866.63 L516 866.18 L517 865.97 L518 865.79 L519 865.64 L520 865.5 L521 865.38 L522 865.27 L523 865.17 L524 865.09 L525 865.01 L526 864.95 L527 864.89 L528 864.83 L529 864.78 L530 864.74 L531 864.7 L532 864.66 L533 864.62 L534 864.59 L535 864.56 L536 864.53 L537 864.51 L538 864.48 L539 864.46 L540 864.44 L541 864.42 L542 864.39 L543 864.37 L544 864.35 L545 864.32 L546 864.29 L547 864.26 L548 864.23 L549 864.2 L550 864.16 L551 864.12 L552 864.08 L553 864.03 L554 863.99 L555 863.94 L556 863.89 L557 863.84 L558 863.79 L559 863.74 L560 863.68 L561 863.63 L562 863.57 L563 863.51 L564 863.45 L565 863.39 L566 863.33 L567 863.27 L568 863.21 L569 863.14 L570 863.07 L571 863 L572 862.92 L573 862.84 L574 862.75 L575 862.66 L576 862.55 L577 862.42 L578 862.26 L579 862.08 L580 861.88 L581 861.68 L582 861.47 L583 861.27 L584 861.08 L585 860.91 L586 860.76 L587 860.64 L588 860.52 L589 860.4 L590 860.29 L591 860.17 L592 860.06 L593 859.95 L594 859.85 L595 859.75 L596 859.66 L597 859.58 L598 859.51 L599 859.45 L600 859.41 L601 859.37 L602 859.35 L603 859.35 L604 859.35 L605 859.35 L606 859.35 L607 859.35 L608 859.35 L609 859.35 L610 859.35 L611 859.35 L612 859.35 L613 859.35 L614 859.35 L615 859.35 L616 859.35 L617 859.35 L618 859.35 L619 859.35 L620 859.35 L621 859.35 L622 859.35 L623 859.35 L624 859.35 L625 859.35 L626 859.37 L627 859.39 L628 859.42 L629 859.46 L630 859.51 L631 859.56 L632 859.62 L633 859.68 L634 859.74 L635 859.81 L636 859.87 L637 859.94 L638 860.01 L639 860.07 L640 860.13 L641 860.19 L642 860.25 L643 860.32 L644 860.38 L645 860.45 L646 860.52 L647 860.59 L648 860.67 L649 860.74 L650 860.81 L651 860.88 L652 860.95 L653 861.02 L654 861.08 L655 861.14 L656 861.2 L657 861.26 L658 861.31 L659 861.36 L660 861.41 L661 861.46 L662 861.51 L663 861.56 L664 861.61 L665 861.65 L666 861.7 L667 861.74 L668 861.79 L669 861.83 L670 861.87 L671 861.91 L672 861.94 L673 861.98 L674 862.01 L675 862.05" fill="none" stroke="#ff00cc" stroke-width="1.5" stroke-dasharray="6.4 5.7"/>
<path d="M403 861.51 L404 861.53 L405 861.55 L406 861.58 L407 861.6 L408 861.63 L409 861.66 L410 861.69 L411 861.73 L412 861.76 L413 861.8 L414 861.84 L415 861.87 L416 861.91 L417 861.96 L418 862 L419 862.04 L420 862.09 L421 862.13 L422 862.18 L423 862.23 L424 862.28 L425 862.33 L426 862.38 L427 862.43 L428 862.48 L429 862.54 L430 862.59 L431 862.64 L432 862.7 L433 862.76 L434 862.82 L435 862.89 L436 862.96 L437 863.03 L438 863.1 L439 863.17 L440 863.25 L441 863.33 L442 863.41 L443 863.49 L444 863.57 L445 863.65 L446 863.74 L447 863.83 L448 863.92 L449 864 L450 864.1 L451 864.19 L452 864.28 L453 864.37 L454 864.47 L455 864.56 L456 864.65 L457 864.75 L458 864.85 L459 864.95 L460 865.06 L461 865.17 L462 865.29 L463 865.41 L464 865.53 L465 865.65 L466 865.78 L467 865.9 L468 866.03 L469 866.15 L470 866.27 L471 866.39 L472 866.5 L473 866.61 L474 866.72 L475 866.82 L476 866.92 L477 867 L478 867.08 L479 867.14 L480 867.21 L481 867.26 L482 867.32 L483 867.38 L484 867.45 L485 867.52 L486 867.6 L487 867.7 L488 867.81 L489 867.94 L490 868.11 L491 868.39 L492 868.76 L493 869.21 L494 869.68 L495 870.17 L496 870.64 L497 871.11 L498 871.62 L499 872.16 L500 872.73 L501 873.29 L502 873.85 L503 874.38 L504 874.88 L505 875.32 L506 875.71 L507 876.09 L508 876.46 L509 876.82 L510 877.16 L511 877.49 L512 877.8 L513 878.07 L514 878.32 L515 878.54 L516 878.73 L517 878.88 L518 879.03 L519 879.17 L520 879.31 L521 879.43 L522 879.55 L523 879.65 L524 879.73 L525 879.8 L526 879.84 L527 879.86 L528 879.84 L529 879.78 L530 879.69 L531 879.56 L532 879.41 L533 879.23 L534 879.04 L535 878.84 L536 878.63 L537 878.43 L538 878.22 L539 878.01 L540 877.77 L541 877.51 L542 877.23 L543 876.93 L544 876.62 L545 876.29 L546 875.96 L547 875.61 L548 875.26 L549 874.9 L550 874.51 L551 874.09 L552 873.66 L553 873.2 L554 872.73 L555 872.25 L556 871.77 L557 871.29 L558 870.82 L559 870.37 L560 869.93 L561 869.49 L562 869.04 L563 868.6 L564 868.15 L565 867.71 L566 867.28 L567 866.86 L568 866.45 L569 866.05 L570 865.67 L571 865.3 L572 864.93 L573 864.56 L574 864.2 L575 863.85 L576 863.51 L577 863.18 L578 862.87 L579 862.58 L580 862.31 L581 862.07 L582 861.84 L583 861.62 L584 861.4 L585 861.2 L586 861 L587 860.81 L588 860.64 L589 860.49 L590 860.35 L591 860.24 L592 860.15 L593 860.07 L594 859.99 L595 859.92 L596 859.84 L597 859.77 L598 859.71 L599 859.65 L600 859.59 L601 859.54 L602 859.49 L603 859.45 L604 859.42 L605 859.39 L606 859.37 L607 859.35 L608 859.35 L609 859.35 L610 859.35 L611 859.35 L612 859.35 L613 859.35 L614 859.35 L615 859.35 L616 859.35 L617 859.35 L618 859.35 L619 859.35 L620 859.35 L621 859.35 L622 859.35 L623 859.35 L624 859.35 L625 859.35 L626 859.37 L627 859.39 L628 859.42 L629 859.46 L630 859.51 L631 859.56 L632 859.62 L633 859.68 L634 859.74 L635 859.81 L636 859.87 L637 859.94 L638 860.01 L639 860.07 L640 860.13 L641 860.19 L642 860.25 L643 860.32 L644 860.38 L645 860.45 L646 860.52 L647 860.59 L648 860.67 L649 860.74 L650 860.81 L651 860.88 L652 860.95 L653 861.02 L654 861.08 L655 861.14 L656 861.2 L657 861.26 L658 861.31 L659 861.36 L660 861.41 L661 861.46 L662 861.51 L663 861.56 L664 861.61 L665 861.65 L666 861.7 L667 861.74 L668 861.79 L669 861.83 L670 861.87 L671 861.91 L672 861.94 L673 861.98 L674 862.01 L675 862.05" fill="none" stroke="#0000ff" stroke-width="1.5" stroke-dasharray="6.7 2.6 1.5 3"/>
<path d="M403 813.48 L406.24 819.41 L408.94 825.62 L412.44 818.87 L415.95 813.48 L419.73 808.08 L423.24 808.62 L426.75 807.54 L429.17 813.48 L431.87 807.54 L434.84 809.43 L437.54 820.22 L440.78 822.92 L443.48 828.32 L446.71 822.92 L449.41 823.73 L452.11 828.32 L455.62 822.92 L458.32 821.03 L460.21 825.62 L462.9 816.17 L465.6 826.43 L469.11 824.27 L472.62 819.41 L475.86 816.71 L479.1 819.41 L482.6 815.63 L485.3 812.94 L488 818.87 L490.7 814.02 L493.4 806.73 L496.1 810.78 L498.79 828.32 L501.49 825.62 L504.19 829.67 L507.43 817.52 L510.13 822.92 L513.1 823.73 L516.33 813.48 L519.03 806.73 L521.73 807.54 L524.97 805.92 L529.29 809.43 L532.52 797.29 L535.22 805.38 L538.46 801.33 L541.16 791.89 L543.86 801.33 L546.56 807.54 L550.06 821.03 L552.76 819.41 L554.92 812.13 L557.35 813.48 L560.05 822.92 L562.75 831.02 L565.71 839.11 L568.95 832.9 L571.65 835.06 L575.16 831.83 L578.4 830.21 L581.1 829.67 L583.79 822.92 L586.49 821.57 L589.19 831.02 L591.89 826.97 L595.13 825.62 L597.29 829.67 L600.52 820.22 L603.22 823.73 L605.38 819.41 L609.43 832.9 L612.94 823.73 L616.17 820.22 L618.87 831.02 L622.11 825.62 L624.81 817.52 L627.51 822.92 L631.02 825.62 L633.71 826.97 L637.22 810.78 L639.11 806.73 L641.81 817.52 L644.51 816.17 L647.21 815.63 L650.71 819.41 L653.95 818.87 L656.65 822.92 L660.7 811.32 L663.4 810.78 L666.9 824.81 L670.14 830.21 L672.84 825.62 L675 824.27" fill="none" stroke="#000" stroke-width="1.5" stroke-linejoin="round"/>
<path d="M403.3 819.73 H675.4" stroke="#000" stroke-width="1.35" stroke-dasharray="6.4 5.7" fill="none"/>
<path d="M487.46 966.35 V773.55" stroke="#000" stroke-width="1.35" stroke-dasharray="6.4 5.7" fill="none"/>
<path d="M580.83 966.35 V773.55" stroke="#000" stroke-width="1.35" stroke-dasharray="6.4 5.7" fill="none"/>
</g>
<path d="M407.19 966.35 v-2.2 M407.19 773.55 v2.2 M411.07 966.35 v-2.2 M411.07 773.55 v2.2 M414.96 966.35 v-2.2 M414.96 773.55 v2.2 M418.85 966.35 v-2.2 M418.85 773.55 v2.2 M422.74 966.35 v-4.6 M422.74 773.55 v4.6 M426.62 966.35 v-2.2 M426.62 773.55 v2.2 M430.51 966.35 v-2.2 M430.51 773.55 v2.2 M434.4 966.35 v-2.2 M434.4 773.55 v2.2 M438.28 966.35 v-2.2 M438.28 773.55 v2.2 M442.17 966.35 v-2.2 M442.17 773.55 v2.2 M446.06 966.35 v-2.2 M446.06 773.55 v2.2 M449.95 966.35 v-2.2 M449.95 773.55 v2.2 M453.83 966.35 v-2.2 M453.83 773.55 v2.2 M457.72 966.35 v-2.2 M457.72 773.55 v2.2 M461.61 966.35 v-4.6 M461.61 773.55 v4.6 M465.49 966.35 v-2.2 M465.49 773.55 v2.2 M469.38 966.35 v-2.2 M469.38 773.55 v2.2 M473.27 966.35 v-2.2 M473.27 773.55 v2.2 M477.16 966.35 v-2.2 M477.16 773.55 v2.2 M481.04 966.35 v-2.2 M481.04 773.55 v2.2 M484.93 966.35 v-2.2 M484.93 773.55 v2.2 M488.82 966.35 v-2.2 M488.82 773.55 v2.2 M492.7 966.35 v-2.2 M492.7 773.55 v2.2 M496.59 966.35 v-2.2 M496.59 773.55 v2.2 M500.48 966.35 v-4.6 M500.48 773.55 v4.6 M504.37 966.35 v-2.2 M504.37 773.55 v2.2 M508.25 966.35 v-2.2 M508.25 773.55 v2.2 M512.14 966.35 v-2.2 M512.14 773.55 v2.2 M516.03 966.35 v-2.2 M516.03 773.55 v2.2 M519.91 966.35 v-2.2 M519.91 773.55 v2.2 M523.8 966.35 v-2.2 M523.8 773.55 v2.2 M527.69 966.35 v-2.2 M527.69 773.55 v2.2 M531.58 966.35 v-2.2 M531.58 773.55 v2.2 M535.46 966.35 v-2.2 M535.46 773.55 v2.2 M539.35 966.35 v-4.6 M539.35 773.55 v4.6 M543.24 966.35 v-2.2 M543.24 773.55 v2.2 M547.12 966.35 v-2.2 M547.12 773.55 v2.2 M551.01 966.35 v-2.2 M551.01 773.55 v2.2 M554.9 966.35 v-2.2 M554.9 773.55 v2.2 M558.79 966.35 v-2.2 M558.79 773.55 v2.2 M562.67 966.35 v-2.2 M562.67 773.55 v2.2 M566.56 966.35 v-2.2 M566.56 773.55 v2.2 M570.45 966.35 v-2.2 M570.45 773.55 v2.2 M574.33 966.35 v-2.2 M574.33 773.55 v2.2 M578.22 966.35 v-4.6 M578.22 773.55 v4.6 M582.11 966.35 v-2.2 M582.11 773.55 v2.2 M586 966.35 v-2.2 M586 773.55 v2.2 M589.88 966.35 v-2.2 M589.88 773.55 v2.2 M593.77 966.35 v-2.2 M593.77 773.55 v2.2 M597.66 966.35 v-2.2 M597.66 773.55 v2.2 M601.54 966.35 v-2.2 M601.54 773.55 v2.2 M605.43 966.35 v-2.2 M605.43 773.55 v2.2 M609.32 966.35 v-2.2 M609.32 773.55 v2.2 M613.21 966.35 v-2.2 M613.21 773.55 v2.2 M617.09 966.35 v-4.6 M617.09 773.55 v4.6 M620.98 966.35 v-2.2 M620.98 773.55 v2.2 M624.87 966.35 v-2.2 M624.87 773.55 v2.2 M628.75 966.35 v-2.2 M628.75 773.55 v2.2 M632.64 966.35 v-2.2 M632.64 773.55 v2.2 M636.53 966.35 v-2.2 M636.53 773.55 v2.2 M640.42 966.35 v-2.2 M640.42 773.55 v2.2 M644.3 966.35 v-2.2 M644.3 773.55 v2.2 M648.19 966.35 v-2.2 M648.19 773.55 v2.2 M652.08 966.35 v-2.2 M652.08 773.55 v2.2 M655.96 966.35 v-4.6 M655.96 773.55 v4.6 M659.85 966.35 v-2.2 M659.85 773.55 v2.2 M663.74 966.35 v-2.2 M663.74 773.55 v2.2 M667.63 966.35 v-2.2 M667.63 773.55 v2.2 M671.51 966.35 v-2.2 M671.51 773.55 v2.2 M403.3 955.84 h2.8 M675.4 955.84 h-2.8 M403.3 945.37 h5.8 M675.4 945.37 h-5.8 M403.3 934.9 h2.8 M675.4 934.9 h-2.8 M403.3 924.43 h2.8 M675.4 924.43 h-2.8 M403.3 913.96 h2.8 M675.4 913.96 h-2.8 M403.3 903.49 h5.8 M675.4 903.49 h-5.8 M403.3 893.02 h2.8 M675.4 893.02 h-2.8 M403.3 882.55 h2.8 M675.4 882.55 h-2.8 M403.3 872.08 h2.8 M675.4 872.08 h-2.8 M403.3 861.61 h5.8 M675.4 861.61 h-5.8 M403.3 851.14 h2.8 M675.4 851.14 h-2.8 M403.3 840.67 h2.8 M675.4 840.67 h-2.8 M403.3 830.2 h2.8 M675.4 830.2 h-2.8 M403.3 819.73 h5.8 M675.4 819.73 h-5.8 M403.3 809.26 h2.8 M675.4 809.26 h-2.8 M403.3 798.79 h2.8 M675.4 798.79 h-2.8 M403.3 788.32 h2.8 M675.4 788.32 h-2.8 M403.3 777.85 h5.8 M675.4 777.85 h-5.8" stroke="#000" stroke-width="1.4" fill="none"/>
<rect x="403.3" y="773.55" width="272.1" height="192.8" fill="none" stroke="#000" stroke-width="1.6"/>
<text x="468.35" y="764.55" font-family="Liberation Sans, sans-serif" class="t21" font-size="21.2" textLength="53" lengthAdjust="spacingAndGlyphs">2010</text>
<path d="M524.25 758.15 h12.2" stroke="#000" stroke-width="1.35"/>
<text x="539.35" y="764.55" font-family="Liberation Sans, sans-serif" class="t21" font-size="21.2" textLength="26.2" lengthAdjust="spacingAndGlyphs">01</text>
<path d="M568.45 758.15 h12.2" stroke="#000" stroke-width="1.35"/>
<text x="583.55" y="764.55" font-family="Liberation Sans, sans-serif" class="t21" font-size="21.2" textLength="26.2" lengthAdjust="spacingAndGlyphs">26</text>
<text x="422.44" y="991.35" font-family="Liberation Sans, sans-serif" class="t16" font-size="16.8" text-anchor="middle" textLength="43.8" lengthAdjust="spacingAndGlyphs">−300</text>
<text x="461.31" y="991.35" font-family="Liberation Sans, sans-serif" class="t16" font-size="16.8" text-anchor="middle" textLength="43.8" lengthAdjust="spacingAndGlyphs">−200</text>
<text x="500.18" y="991.35" font-family="Liberation Sans, sans-serif" class="t16" font-size="16.8" text-anchor="middle" textLength="43.8" lengthAdjust="spacingAndGlyphs">−100</text>
<text x="539.05" y="991.35" font-family="Liberation Sans, sans-serif" class="t16" font-size="16.8" text-anchor="middle" textLength="10" lengthAdjust="spacingAndGlyphs">0</text>
<text x="577.92" y="991.35" font-family="Liberation Sans, sans-serif" class="t16" font-size="16.8" text-anchor="middle" textLength="30.8" lengthAdjust="spacingAndGlyphs">100</text>
<text x="616.79" y="991.35" font-family="Liberation Sans, sans-serif" class="t16" font-size="16.8" text-anchor="middle" textLength="30.8" lengthAdjust="spacingAndGlyphs">200</text>
<text x="655.66" y="991.35" font-family="Liberation Sans, sans-serif" class="t16" font-size="16.8" text-anchor="middle" textLength="30.8" lengthAdjust="spacingAndGlyphs">300</text>
<clipPath id="c32"><rect x="695.5" y="773.55" width="272.1" height="192.8"/></clipPath>
<g clip-path="url(#c32)">
<rect x="695.5" y="810.78" width="272.1" height="17.54" fill="#d9bebe"/>
<g fill="none" stroke="#000" stroke-width="1.45">
<circle cx="696.3" cy="864.21" r="3.25"/>
<circle cx="699.05" cy="864.25" r="3.25"/>
<circle cx="701.8" cy="864.33" r="3.25"/>
<circle cx="704.55" cy="864.43" r="3.25"/>
<circle cx="707.3" cy="864.55" r="3.25"/>
<circle cx="710.05" cy="864.69" r="3.25"/>
<circle cx="712.8" cy="864.84" r="3.25"/>
<circle cx="715.55" cy="865.06" r="3.25"/>
<circle cx="718.3" cy="865.33" r="3.25"/>
<circle cx="721.05" cy="865.64" r="3.25"/>
<circle cx="723.8" cy="865.98" r="3.25"/>
<circle cx="726.55" cy="866.35" r="3.25"/>
<circle cx="729.3" cy="866.77" r="3.25"/>
<circle cx="732.05" cy="867.27" r="3.25"/>
<circle cx="734.8" cy="867.83" r="3.25"/>
<circle cx="737.55" cy="868.52" r="3.25"/>
<circle cx="740.3" cy="869.39" r="3.25"/>
<circle cx="743.05" cy="870.36" r="3.25"/>
<circle cx="745.8" cy="871.33" r="3.25"/>
<circle cx="748.55" cy="872.24" r="3.25"/>
<circle cx="751.3" cy="873.23" r="3.25"/>
<circle cx="754.05" cy="874.48" r="3.25"/>
<circle cx="756.8" cy="875.98" r="3.25"/>
<circle cx="759.55" cy="877.8" r="3.25"/>
<circle cx="762.3" cy="880.1" r="3.25"/>
<circle cx="765.05" cy="883.3" r="3.25"/>
<circle cx="767.8" cy="886.97" r="3.25"/>
<circle cx="770.55" cy="890.62" r="3.25"/>
<circle cx="773.3" cy="894.35" r="3.25"/>
<circle cx="776.05" cy="898.23" r="3.25"/>
<circle cx="778.8" cy="902.2" r="3.25"/>
<circle cx="781.55" cy="906.37" r="3.25"/>
<circle cx="784.3" cy="910.65" r="3.25"/>
<circle cx="787.05" cy="914.76" r="3.25"/>
<circle cx="789.8" cy="918.55" r="3.25"/>
<circle cx="792.55" cy="922.16" r="3.25"/>
<circle cx="795.3" cy="925.64" r="3.25"/>
<circle cx="798.05" cy="929.04" r="3.25"/>
<circle cx="800.8" cy="932.38" r="3.25"/>
<circle cx="803.55" cy="935.59" r="3.25"/>
<circle cx="806.3" cy="938.62" r="3.25"/>
<circle cx="809.05" cy="941.62" r="3.25"/>
<circle cx="811.8" cy="944.41" r="3.25"/>
<circle cx="814.55" cy="946.71" r="3.25"/>
<circle cx="817.3" cy="948.53" r="3.25"/>
<circle cx="820.05" cy="950.07" r="3.25"/>
<circle cx="822.8" cy="951.45" r="3.25"/>
<circle cx="825.55" cy="952.67" r="3.25"/>
<circle cx="828.3" cy="953.59" r="3.25"/>
<circle cx="831.05" cy="954.39" r="3.25"/>
<circle cx="833.8" cy="954.98" r="3.25"/>
<circle cx="836.55" cy="955.21" r="3.25"/>
<circle cx="839.3" cy="955.33" r="3.25"/>
<circle cx="842.05" cy="955.4" r="3.25"/>
<circle cx="844.8" cy="955.36" r="3.25"/>
<circle cx="847.55" cy="955.04" r="3.25"/>
<circle cx="850.3" cy="954.56" r="3.25"/>
<circle cx="853.05" cy="953.99" r="3.25"/>
<circle cx="855.8" cy="953.17" r="3.25"/>
<circle cx="858.55" cy="952.37" r="3.25"/>
<circle cx="861.3" cy="951.7" r="3.25"/>
<circle cx="864.05" cy="950.99" r="3.25"/>
<circle cx="866.8" cy="950.19" r="3.25"/>
<circle cx="869.55" cy="946.42" r="3.25"/>
<circle cx="872.3" cy="940.01" r="3.25"/>
<circle cx="875.05" cy="934.04" r="3.25"/>
<circle cx="877.8" cy="929.36" r="3.25"/>
<circle cx="880.55" cy="926.44" r="3.25"/>
<circle cx="883.3" cy="924.03" r="3.25"/>
<circle cx="886.05" cy="921.39" r="3.25"/>
<circle cx="888.8" cy="918.46" r="3.25"/>
<circle cx="891.55" cy="915.42" r="3.25"/>
<circle cx="894.3" cy="912.17" r="3.25"/>
<circle cx="897.05" cy="908.62" r="3.25"/>
<circle cx="899.8" cy="904.78" r="3.25"/>
<circle cx="902.55" cy="900.79" r="3.25"/>
<circle cx="905.3" cy="896.7" r="3.25"/>
<circle cx="908.05" cy="892.32" r="3.25"/>
<circle cx="910.8" cy="888.1" r="3.25"/>
<circle cx="913.55" cy="884.46" r="3.25"/>
<circle cx="916.3" cy="881.13" r="3.25"/>
<circle cx="919.05" cy="878.16" r="3.25"/>
<circle cx="921.8" cy="875.77" r="3.25"/>
<circle cx="924.55" cy="873.73" r="3.25"/>
<circle cx="927.3" cy="872" r="3.25"/>
<circle cx="930.05" cy="870.76" r="3.25"/>
<circle cx="932.8" cy="870.03" r="3.25"/>
<circle cx="935.55" cy="869.51" r="3.25"/>
<circle cx="938.3" cy="868.99" r="3.25"/>
<circle cx="941.05" cy="868.33" r="3.25"/>
<circle cx="943.8" cy="867.58" r="3.25"/>
<circle cx="946.55" cy="866.8" r="3.25"/>
<circle cx="949.3" cy="866.05" r="3.25"/>
<circle cx="952.05" cy="865.4" r="3.25"/>
<circle cx="954.8" cy="864.81" r="3.25"/>
<circle cx="957.55" cy="864.27" r="3.25"/>
<circle cx="960.3" cy="863.8" r="3.25"/>
<circle cx="963.05" cy="863.37" r="3.25"/>
<circle cx="965.8" cy="863" r="3.25"/>
</g>
<path d="M695 861.51 L696 861.51 L697 861.52 L698 861.53 L699 861.55 L700 861.58 L701 861.6 L702 861.63 L703 861.67 L704 861.71 L705 861.75 L706 861.79 L707 861.84 L708 861.89 L709 861.94 L710 861.99 L711 862.04 L712 862.09 L713 862.16 L714 862.24 L715 862.33 L716 862.42 L717 862.53 L718 862.64 L719 862.76 L720 862.89 L721 863.02 L722 863.15 L723 863.3 L724 863.44 L725 863.58 L726 863.73 L727 863.88 L728 864.03 L729 864.19 L730 864.36 L731 864.53 L732 864.71 L733 864.9 L734 865.1 L735 865.31 L736 865.52 L737 865.74 L738 865.96 L739 866.19 L740 866.43 L741 866.67 L742 866.91 L743 867.15 L744 867.4 L745 867.66 L746 867.94 L747 868.23 L748 868.53 L749 868.86 L750 869.22 L751 869.6 L752 870.02 L753 870.49 L754 871.03 L755 871.63 L756 872.29 L757 872.99 L758 873.74 L759 874.53 L760 875.36 L761 876.22 L762 877.17 L763 878.24 L764 879.4 L765 880.63 L766 881.91 L767 883.23 L768 884.57 L769 885.9 L770 887.2 L771 888.54 L772 889.91 L773 891.32 L774 892.74 L775 894.17 L776 895.6 L777 897.01 L778 898.4 L779 899.76 L780 901.11 L781 902.46 L782 903.8 L783 905.13 L784 906.44 L785 907.73 L786 908.99 L787 910.22 L788 911.42 L789 912.59 L790 913.76 L791 914.9 L792 916.02 L793 917.11 L794 918.17 L795 919.19 L796 920.17 L797 921.1 L798 922.01 L799 922.9 L800 923.75 L801 924.58 L802 925.39 L803 926.16 L804 926.91 L805 927.63 L806 928.33 L807 928.99 L808 929.64 L809 930.26 L810 930.86 L811 931.45 L812 932.02 L813 932.59 L814 933.14 L815 933.68 L816 934.23 L817 934.76 L818 935.28 L819 935.78 L820 936.26 L821 936.71 L822 937.13 L823 937.53 L824 937.89 L825 938.24 L826 938.57 L827 938.88 L828 939.19 L829 939.49 L830 939.78 L831 940.06 L832 940.33 L833 940.58 L834 940.82 L835 941.04 L836 941.26 L837 941.48 L838 941.7 L839 941.92 L840 942.11 L841 942.28 L842 942.39 L843 942.45 L844 942.45 L845 942.42 L846 942.36 L847 942.27 L848 942.16 L849 942.03 L850 941.88 L851 941.73 L852 941.56 L853 941.32 L854 941 L855 940.62 L856 940.19 L857 939.72 L858 939.23 L859 938.72 L860 938.2 L861 937.59 L862 936.9 L863 936.15 L864 935.37 L865 934.58 L866 933.81 L867 933.1 L868 932.46 L869 931.89 L870 931.37 L871 930.88 L872 930.41 L873 929.94 L874 929.46 L875 928.95 L876 928.41 L877 927.81 L878 927.16 L879 926.47 L880 925.74 L881 924.97 L882 924.17 L883 923.34 L884 922.48 L885 921.59 L886 920.67 L887 919.7 L888 918.69 L889 917.63 L890 916.53 L891 915.39 L892 914.21 L893 913 L894 911.75 L895 910.48 L896 909.13 L897 907.72 L898 906.25 L899 904.73 L900 903.19 L901 901.64 L902 900.09 L903 898.55 L904 897.04 L905 895.5 L906 893.91 L907 892.32 L908 890.73 L909 889.16 L910 887.64 L911 886.18 L912 884.81 L913 883.53 L914 882.26 L915 881.01 L916 879.79 L917 878.62 L918 877.52 L919 876.49 L920 875.56 L921 874.75 L922 874.04 L923 873.38 L924 872.76 L925 872.18 L926 871.64 L927 871.15 L928 870.71 L929 870.31 L930 869.97 L931 869.67 L932 869.42 L933 869.19 L934 868.99 L935 868.8 L936 868.62 L937 868.43 L938 868.24 L939 868.03 L940 867.8 L941 867.57 L942 867.33 L943 867.08 L944 866.84 L945 866.59 L946 866.34 L947 866.09 L948 865.84 L949 865.59 L950 865.34 L951 865.1 L952 864.86 L953 864.61 L954 864.36 L955 864.11 L956 863.86 L957 863.63 L958 863.41 L959 863.21 L960 863.03 L961 862.86 L962 862.7 L963 862.55 L964 862.4 L965 862.27 L966 862.15 L967 862.05" fill="none" stroke="#ff0000" stroke-width="1.6" stroke-linejoin="round"/>
<path d="M695 861.51 L696 861.49 L697 861.47 L698 861.45 L699 861.43 L700 861.41 L701 861.39 L702 861.38 L703 861.36 L704 861.35 L705 861.34 L706 861.32 L707 861.31 L708 861.3 L709 861.29 L710 861.28 L711 861.28 L712 861.27 L713 861.26 L714 861.26 L715 861.25 L716 861.25 L717 861.25 L718 861.24 L719 861.24 L720 861.24 L721 861.24 L722 861.24 L723 861.24 L724 861.24 L725 861.24 L726 861.25 L727 861.25 L728 861.26 L729 861.27 L730 861.28 L731 861.29 L732 861.3 L733 861.31 L734 861.32 L735 861.34 L736 861.35 L737 861.37 L738 861.39 L739 861.41 L740 861.43 L741 861.45 L742 861.47 L743 861.49 L744 861.52 L745 861.58 L746 861.68 L747 861.8 L748 861.95 L749 862.12 L750 862.29 L751 862.48 L752 862.66 L753 862.84 L754 863.01 L755 863.16 L756 863.29 L757 863.39 L758 863.47 L759 863.55 L760 863.62 L761 863.69 L762 863.75 L763 863.82 L764 863.87 L765 863.93 L766 863.98 L767 864.03 L768 864.08 L769 864.13 L770 864.18 L771 864.23 L772 864.27 L773 864.32 L774 864.36 L775 864.4 L776 864.43 L777 864.47 L778 864.51 L779 864.54 L780 864.58 L781 864.62 L782 864.66 L783 864.7 L784 864.74 L785 864.79 L786 864.85 L787 864.91 L788 864.98 L789 865.05 L790 865.11 L791 865.17 L792 865.22 L793 865.26 L794 865.28 L795 865.29 L796 865.26 L797 865.19 L798 865.09 L799 864.96 L800 864.81 L801 864.64 L802 864.46 L803 864.28 L804 864.09 L805 863.91 L806 863.73 L807 863.57 L808 863.44 L809 863.32 L810 863.2 L811 863.08 L812 862.97 L813 862.85 L814 862.74 L815 862.63 L816 862.53 L817 862.43 L818 862.33 L819 862.25 L820 862.17 L821 862.1 L822 862.04 L823 861.98 L824 861.92 L825 861.87 L826 861.81 L827 861.76 L828 861.71 L829 861.66 L830 861.62 L831 861.58 L832 861.55 L833 861.53 L834 861.52 L835 861.51 L836 861.51 L837 861.53 L838 861.56 L839 861.61 L840 861.67 L841 861.74 L842 861.82 L843 861.92 L844 862.02 L845 862.12 L846 862.24 L847 862.36 L848 862.48 L849 862.61 L850 862.76 L851 862.95 L852 863.17 L853 863.42 L854 863.71 L855 864.04 L856 864.39 L857 864.79 L858 865.32 L859 866.02 L860 866.83 L861 867.69 L862 868.55 L863 869.46 L864 870.59 L865 871.63 L866 872.25 L867 872.24 L868 871.94 L869 871.46 L870 870.91 L871 870.26 L872 869.3 L873 868.21 L874 867.24 L875 866.54 L876 865.93 L877 865.36 L878 864.87 L879 864.47 L880 864.16 L881 863.92 L882 863.7 L883 863.5 L884 863.32 L885 863.16 L886 863.02 L887 862.88 L888 862.75 L889 862.62 L890 862.5 L891 862.39 L892 862.28 L893 862.18 L894 862.09 L895 862 L896 861.91 L897 861.82 L898 861.72 L899 861.62 L900 861.52 L901 861.39 L902 861.25 L903 861.09 L904 860.93 L905 860.76 L906 860.6 L907 860.46 L908 860.33 L909 860.24 L910 860.18 L911 860.16 L912 860.16 L913 860.17 L914 860.19 L915 860.21 L916 860.23 L917 860.26 L918 860.3 L919 860.33 L920 860.37 L921 860.42 L922 860.46 L923 860.5 L924 860.55 L925 860.6 L926 860.65 L927 860.7 L928 860.75 L929 860.82 L930 860.91 L931 861.01 L932 861.11 L933 861.22 L934 861.34 L935 861.45 L936 861.56 L937 861.67 L938 861.77 L939 861.86 L940 861.93 L941 861.99 L942 862.03 L943 862.05 L944 862.05 L945 862.05 L946 862.05 L947 862.05 L948 862.04 L949 862.04 L950 862.04 L951 862.03 L952 862.02 L953 862.01 L954 862 L955 861.98 L956 861.96 L957 861.94 L958 861.92 L959 861.89 L960 861.86 L961 861.82 L962 861.78 L963 861.74 L964 861.69 L965 861.63 L966 861.57 L967 861.51" fill="none" stroke="#ff00cc" stroke-width="1.5" stroke-dasharray="6.4 5.7"/>
<path d="M695 861.51 L696 861.48 L697 861.45 L698 861.43 L699 861.4 L700 861.38 L701 861.36 L702 861.35 L703 861.33 L704 861.32 L705 861.31 L706 861.29 L707 861.28 L708 861.28 L709 861.27 L710 861.26 L711 861.26 L712 861.25 L713 861.25 L714 861.25 L715 861.24 L716 861.24 L717 861.24 L718 861.24 L719 861.24 L720 861.24 L721 861.24 L722 861.24 L723 861.24 L724 861.24 L725 861.25 L726 861.26 L727 861.28 L728 861.3 L729 861.32 L730 861.34 L731 861.36 L732 861.39 L733 861.42 L734 861.45 L735 861.48 L736 861.51 L737 861.55 L738 861.59 L739 861.63 L740 861.66 L741 861.71 L742 861.75 L743 861.79 L744 861.83 L745 861.87 L746 861.92 L747 861.96 L748 862.01 L749 862.05 L750 862.1 L751 862.15 L752 862.21 L753 862.27 L754 862.34 L755 862.41 L756 862.48 L757 862.56 L758 862.64 L759 862.72 L760 862.8 L761 862.89 L762 862.97 L763 863.06 L764 863.14 L765 863.23 L766 863.31 L767 863.39 L768 863.47 L769 863.55 L770 863.63 L771 863.7 L772 863.76 L773 863.82 L774 863.87 L775 863.92 L776 863.97 L777 864.02 L778 864.07 L779 864.13 L780 864.18 L781 864.25 L782 864.31 L783 864.39 L784 864.48 L785 864.58 L786 864.69 L787 864.83 L788 865.07 L789 865.4 L790 865.79 L791 866.24 L792 866.71 L793 867.18 L794 867.63 L795 868.05 L796 868.45 L797 868.87 L798 869.3 L799 869.73 L800 870.16 L801 870.58 L802 870.99 L803 871.38 L804 871.75 L805 872.1 L806 872.41 L807 872.72 L808 873.02 L809 873.31 L810 873.59 L811 873.86 L812 874.12 L813 874.36 L814 874.57 L815 874.77 L816 874.94 L817 875.08 L818 875.23 L819 875.37 L820 875.5 L821 875.63 L822 875.75 L823 875.86 L824 875.94 L825 876.01 L826 876.06 L827 876.08 L828 876.08 L829 876.08 L830 876.08 L831 876.08 L832 876.08 L833 876.08 L834 876.08 L835 876.08 L836 876.08 L837 876.08 L838 876.08 L839 876.06 L840 876 L841 875.9 L842 875.78 L843 875.62 L844 875.45 L845 875.26 L846 875.06 L847 874.84 L848 874.63 L849 874.42 L850 874.19 L851 873.92 L852 873.62 L853 873.3 L854 872.95 L855 872.58 L856 872.2 L857 871.79 L858 871.37 L859 870.95 L860 870.5 L861 869.97 L862 869.36 L863 868.71 L864 868.05 L865 867.42 L866 866.84 L867 866.36 L868 866 L869 865.69 L870 865.41 L871 865.16 L872 864.92 L873 864.71 L874 864.52 L875 864.34 L876 864.17 L877 864.02 L878 863.87 L879 863.74 L880 863.61 L881 863.48 L882 863.37 L883 863.25 L884 863.15 L885 863.04 L886 862.93 L887 862.83 L888 862.72 L889 862.62 L890 862.51 L891 862.41 L892 862.31 L893 862.21 L894 862.12 L895 862.02 L896 861.93 L897 861.83 L898 861.73 L899 861.62 L900 861.52 L901 861.39 L902 861.25 L903 861.09 L904 860.93 L905 860.76 L906 860.6 L907 860.46 L908 860.33 L909 860.24 L910 860.18 L911 860.16 L912 860.16 L913 860.17 L914 860.19 L915 860.21 L916 860.23 L917 860.26 L918 860.3 L919 860.33 L920 860.37 L921 860.42 L922 860.46 L923 860.5 L924 860.55 L925 860.6 L926 860.65 L927 860.7 L928 860.75 L929 860.82 L930 860.91 L931 861.01 L932 861.11 L933 861.22 L934 861.34 L935 861.45 L936 861.56 L937 861.67 L938 861.77 L939 861.86 L940 861.93 L941 861.99 L942 862.03 L943 862.05 L944 862.05 L945 862.05 L946 862.05 L947 862.05 L948 862.04 L949 862.04 L950 862.04 L951 862.03 L952 862.02 L953 862.01 L954 862 L955 861.98 L956 861.96 L957 861.94 L958 861.92 L959 861.89 L960 861.86 L961 861.82 L962 861.78 L963 861.74 L964 861.69 L965 861.63 L966 861.57 L967 861.51" fill="none" stroke="#0000ff" stroke-width="1.5" stroke-dasharray="6.7 2.6 1.5 3"/>
<path d="M695 817.52 L698.24 813.48 L700.94 821.57 L703.63 817.52 L706.33 822.92 L709.84 813.48 L712.54 821.57 L715.24 817.52 L718.75 817.52 L721.44 830.21 L724.14 835.06 L727.38 823.73 L730.08 820.22 L733.32 819.41 L736.02 828.32 L738.71 832.37 L741.41 824.27 L743.57 829.67 L746.81 819.41 L749.51 822.11 L753.02 821.03 L755.71 818.87 L759.22 821.57 L762.46 819.41 L765.7 831.83 L768.4 829.13 L771.9 825.62 L774.6 835.06 L778.11 824.27 L780.81 818.87 L784.05 819.41 L786.75 826.97 L789.98 822.92 L792.14 821.57 L794.84 837.22 L797.54 836.41 L800.24 843.7 L803.48 844.51 L805.1 846.4 L808.33 841.81 L811.57 839.11 L813.73 836.41 L816.97 842.62 L819.13 840.46 L821.83 826.97 L824.52 817.52 L827.76 811.32 L830.73 813.48 L833.43 814.83 L835.86 824.27 L838.56 809.43 L841.25 809.43 L843.95 794.05 L847.46 796.75 L850.16 807.54 L852.86 808.08 L855.56 804.84 L858.79 796.75 L860.95 813.48 L863.65 822.92 L866.35 805.92 L869.05 821.57 L871.75 809.43 L875.25 795.13 L877.95 808.08 L880.65 822.92 L883.35 819.41 L886.05 817.52 L888.75 804.84 L891.44 805.92 L894.68 831.02 L897.38 821.03 L900.08 809.43 L902.78 817.52 L905.48 821.57 L908.17 817.52 L910.87 819.41 L914.11 814.83 L917.62 809.43 L920.32 813.48 L923.83 816.17 L926.52 805.38 L928.41 797.83 L931.11 806.73 L933.81 814.83 L936.51 822.92 L939.75 825.62 L942.71 812.94 L945.41 805.92 L948.11 814.83 L951.35 817.52 L954.59 816.17 L958.1 817.52 L961.6 809.43 L964.84 812.94 L967 813.48" fill="none" stroke="#000" stroke-width="1.5" stroke-linejoin="round"/>
<path d="M695.5 819.73 H967.6" stroke="#000" stroke-width="1.35" stroke-dasharray="6.4 5.7" fill="none"/>
<path d="M786.48 966.35 V773.55" stroke="#000" stroke-width="1.35" stroke-dasharray="6.4 5.7" fill="none"/>
<path d="M879.84 966.35 V773.55" stroke="#000" stroke-width="1.35" stroke-dasharray="6.4 5.7" fill="none"/>
</g>
<path d="M699.39 966.35 v-2.2 M699.39 773.55 v2.2 M703.27 966.35 v-2.2 M703.27 773.55 v2.2 M707.16 966.35 v-2.2 M707.16 773.55 v2.2 M711.05 966.35 v-2.2 M711.05 773.55 v2.2 M714.94 966.35 v-4.6 M714.94 773.55 v4.6 M718.82 966.35 v-2.2 M718.82 773.55 v2.2 M722.71 966.35 v-2.2 M722.71 773.55 v2.2 M726.6 966.35 v-2.2 M726.6 773.55 v2.2 M730.48 966.35 v-2.2 M730.48 773.55 v2.2 M734.37 966.35 v-2.2 M734.37 773.55 v2.2 M738.26 966.35 v-2.2 M738.26 773.55 v2.2 M742.15 966.35 v-2.2 M742.15 773.55 v2.2 M746.03 966.35 v-2.2 M746.03 773.55 v2.2 M749.92 966.35 v-2.2 M749.92 773.55 v2.2 M753.81 966.35 v-4.6 M753.81 773.55 v4.6 M757.69 966.35 v-2.2 M757.69 773.55 v2.2 M761.58 966.35 v-2.2 M761.58 773.55 v2.2 M765.47 966.35 v-2.2 M765.47 773.55 v2.2 M769.36 966.35 v-2.2 M769.36 773.55 v2.2 M773.24 966.35 v-2.2 M773.24 773.55 v2.2 M777.13 966.35 v-2.2 M777.13 773.55 v2.2 M781.02 966.35 v-2.2 M781.02 773.55 v2.2 M784.9 966.35 v-2.2 M784.9 773.55 v2.2 M788.79 966.35 v-2.2 M788.79 773.55 v2.2 M792.68 966.35 v-4.6 M792.68 773.55 v4.6 M796.57 966.35 v-2.2 M796.57 773.55 v2.2 M800.45 966.35 v-2.2 M800.45 773.55 v2.2 M804.34 966.35 v-2.2 M804.34 773.55 v2.2 M808.23 966.35 v-2.2 M808.23 773.55 v2.2 M812.11 966.35 v-2.2 M812.11 773.55 v2.2 M816 966.35 v-2.2 M816 773.55 v2.2 M819.89 966.35 v-2.2 M819.89 773.55 v2.2 M823.78 966.35 v-2.2 M823.78 773.55 v2.2 M827.66 966.35 v-2.2 M827.66 773.55 v2.2 M831.55 966.35 v-4.6 M831.55 773.55 v4.6 M835.44 966.35 v-2.2 M835.44 773.55 v2.2 M839.32 966.35 v-2.2 M839.32 773.55 v2.2 M843.21 966.35 v-2.2 M843.21 773.55 v2.2 M847.1 966.35 v-2.2 M847.1 773.55 v2.2 M850.99 966.35 v-2.2 M850.99 773.55 v2.2 M854.87 966.35 v-2.2 M854.87 773.55 v2.2 M858.76 966.35 v-2.2 M858.76 773.55 v2.2 M862.65 966.35 v-2.2 M862.65 773.55 v2.2 M866.53 966.35 v-2.2 M866.53 773.55 v2.2 M870.42 966.35 v-4.6 M870.42 773.55 v4.6 M874.31 966.35 v-2.2 M874.31 773.55 v2.2 M878.2 966.35 v-2.2 M878.2 773.55 v2.2 M882.08 966.35 v-2.2 M882.08 773.55 v2.2 M885.97 966.35 v-2.2 M885.97 773.55 v2.2 M889.86 966.35 v-2.2 M889.86 773.55 v2.2 M893.74 966.35 v-2.2 M893.74 773.55 v2.2 M897.63 966.35 v-2.2 M897.63 773.55 v2.2 M901.52 966.35 v-2.2 M901.52 773.55 v2.2 M905.41 966.35 v-2.2 M905.41 773.55 v2.2 M909.29 966.35 v-4.6 M909.29 773.55 v4.6 M913.18 966.35 v-2.2 M913.18 773.55 v2.2 M917.07 966.35 v-2.2 M917.07 773.55 v2.2 M920.95 966.35 v-2.2 M920.95 773.55 v2.2 M924.84 966.35 v-2.2 M924.84 773.55 v2.2 M928.73 966.35 v-2.2 M928.73 773.55 v2.2 M932.62 966.35 v-2.2 M932.62 773.55 v2.2 M936.5 966.35 v-2.2 M936.5 773.55 v2.2 M940.39 966.35 v-2.2 M940.39 773.55 v2.2 M944.28 966.35 v-2.2 M944.28 773.55 v2.2 M948.16 966.35 v-4.6 M948.16 773.55 v4.6 M952.05 966.35 v-2.2 M952.05 773.55 v2.2 M955.94 966.35 v-2.2 M955.94 773.55 v2.2 M959.83 966.35 v-2.2 M959.83 773.55 v2.2 M963.71 966.35 v-2.2 M963.71 773.55 v2.2 M695.5 955.84 h2.8 M967.6 955.84 h-2.8 M695.5 945.37 h5.8 M967.6 945.37 h-5.8 M695.5 934.9 h2.8 M967.6 934.9 h-2.8 M695.5 924.43 h2.8 M967.6 924.43 h-2.8 M695.5 913.96 h2.8 M967.6 913.96 h-2.8 M695.5 903.49 h5.8 M967.6 903.49 h-5.8 M695.5 893.02 h2.8 M967.6 893.02 h-2.8 M695.5 882.55 h2.8 M967.6 882.55 h-2.8 M695.5 872.08 h2.8 M967.6 872.08 h-2.8 M695.5 861.61 h5.8 M967.6 861.61 h-5.8 M695.5 851.14 h2.8 M967.6 851.14 h-2.8 M695.5 840.67 h2.8 M967.6 840.67 h-2.8 M695.5 830.2 h2.8 M967.6 830.2 h-2.8 M695.5 819.73 h5.8 M967.6 819.73 h-5.8 M695.5 809.26 h2.8 M967.6 809.26 h-2.8 M695.5 798.79 h2.8 M967.6 798.79 h-2.8 M695.5 788.32 h2.8 M967.6 788.32 h-2.8 M695.5 777.85 h5.8 M967.6 777.85 h-5.8" stroke="#000" stroke-width="1.4" fill="none"/>
<rect x="695.5" y="773.55" width="272.1" height="192.8" fill="none" stroke="#000" stroke-width="1.6"/>
<text x="760.55" y="764.55" font-family="Liberation Sans, sans-serif" class="t21" font-size="21.2" textLength="53" lengthAdjust="spacingAndGlyphs">2010</text>
<path d="M816.45 758.15 h12.2" stroke="#000" stroke-width="1.35"/>
<text x="831.55" y="764.55" font-family="Liberation Sans, sans-serif" class="t21" font-size="21.2" textLength="26.2" lengthAdjust="spacingAndGlyphs">02</text>
<path d="M860.65 758.15 h12.2" stroke="#000" stroke-width="1.35"/>
<text x="875.75" y="764.55" font-family="Liberation Sans, sans-serif" class="t21" font-size="21.2" textLength="26.2" lengthAdjust="spacingAndGlyphs">01</text>
<text x="714.64" y="991.35" font-family="Liberation Sans, sans-serif" class="t16" font-size="16.8" text-anchor="middle" textLength="43.8" lengthAdjust="spacingAndGlyphs">−300</text>
<text x="753.51" y="991.35" font-family="Liberation Sans, sans-serif" class="t16" font-size="16.8" text-anchor="middle" textLength="43.8" lengthAdjust="spacingAndGlyphs">−200</text>
<text x="792.38" y="991.35" font-family="Liberation Sans, sans-serif" class="t16" font-size="16.8" text-anchor="middle" textLength="43.8" lengthAdjust="spacingAndGlyphs">−100</text>
<text x="831.25" y="991.35" font-family="Liberation Sans, sans-serif" class="t16" font-size="16.8" text-anchor="middle" textLength="10" lengthAdjust="spacingAndGlyphs">0</text>
<text x="870.12" y="991.35" font-family="Liberation Sans, sans-serif" class="t16" font-size="16.8" text-anchor="middle" textLength="30.8" lengthAdjust="spacingAndGlyphs">100</text>
<text x="908.99" y="991.35" font-family="Liberation Sans, sans-serif" class="t16" font-size="16.8" text-anchor="middle" textLength="30.8" lengthAdjust="spacingAndGlyphs">200</text>
<text x="947.86" y="991.35" font-family="Liberation Sans, sans-serif" class="t16" font-size="16.8" text-anchor="middle" textLength="30.8" lengthAdjust="spacingAndGlyphs">300</text>
<text x="130.2" y="90.5" font-family="Liberation Sans, sans-serif" class="t14" font-size="15.6" textLength="21" lengthAdjust="spacingAndGlyphs">40</text>
<text x="160.6" y="90.5" font-family="Liberation Sans, sans-serif" class="t14" font-size="14" textLength="7.6" lengthAdjust="spacingAndGlyphs">x</text>
<text x="177.2" y="90.5" font-family="Liberation Serif, serif" font-size="18.6" font-weight="bold" font-style="italic">V</text>
<path d="M188.9 94.6 L200 76.5" stroke="#000" stroke-width="1.3"/>
<text x="199.6" y="90.5" font-family="Liberation Serif, serif" font-size="18.6" font-weight="bold" font-style="italic">I</text>
<text x="207.8" y="95.3" font-family="Liberation Sans, sans-serif" class="t14" font-size="14.5">c</text>
<text x="129.8" y="142.8" font-family="Liberation Serif, serif" font-size="18.6" font-weight="bold" font-style="italic">I</text>
<path d="M138.2 146.4 L147.8 129.5" stroke="#000" stroke-width="1.3"/>
<text x="148.8" y="142.8" font-family="Liberation Serif, serif" font-size="18.6" font-weight="bold" font-style="italic">I</text>
<text x="156.9" y="147.3" font-family="Liberation Sans, sans-serif" class="t14" font-size="14.5">c</text>
<text x="437.2" y="1031.9" font-family="Liberation Sans, sans-serif" class="t16" font-size="16.8" textLength="62.6" lengthAdjust="spacingAndGlyphs">Velocity</text>
<text x="508.6" y="1031.9" font-family="Liberation Sans, sans-serif" class="t16" font-size="16.8" textLength="61.2" lengthAdjust="spacingAndGlyphs">(km/s)</text>
<text transform="translate(50.6 609.6) rotate(-90)" font-family="Liberation Sans, sans-serif" class="t16" font-size="16.8" textLength="90.4" lengthAdjust="spacingAndGlyphs">Normalized</text>
<text transform="translate(50.6 508) rotate(-90)" font-family="Liberation Sans, sans-serif" class="t16" font-size="16.8" textLength="31.2" lengthAdjust="spacingAndGlyphs">Flux</text>
<polygon points="512.35,117.99 506.29,124.05 497.71,124.05 491.65,117.99 491.65,109.41 497.71,103.35 506.29,103.35 512.35,109.41" fill="none" stroke="#000" stroke-width="1.3"/>
<path d="M445 138.9 H547.1" stroke="#ff0000" stroke-width="1.5"/>
<path d="M445 165.8 H547.1" stroke="#ff00cc" stroke-width="1.5" stroke-dasharray="6.6 5.65"/>
<path d="M445 192.9 H547.1" stroke="#0000ff" stroke-width="1.5" stroke-dasharray="6.7 2.7 1.5 2.9"/>
<rect x="445" y="214.8" width="102.1" height="10.1" fill="#d9bebe"/>
<text x="563.2" y="119.3" font-family="Liberation Sans, sans-serif" class="t26" font-size="26" textLength="126" lengthAdjust="spacingAndGlyphs">Observed</text>
<text x="563" y="145.7" font-family="Liberation Sans, sans-serif" class="t26" font-size="26" textLength="31.5" lengthAdjust="spacingAndGlyphs">Aa</text>
<text x="563" y="172.4" font-family="Liberation Sans, sans-serif" class="t26" font-size="26" textLength="31.5" lengthAdjust="spacingAndGlyphs">Ab</text>
<text x="563.5" y="199.5" font-family="Liberation Sans, sans-serif" class="t26" font-size="26" textLength="16.2" lengthAdjust="spacingAndGlyphs">C</text>
<text x="563.5" y="225.7" font-family="Liberation Sans, sans-serif" class="t26" font-size="26" textLength="90" lengthAdjust="spacingAndGlyphs">Stokes</text>
<text x="671.2" y="225.7" font-family="Liberation Serif, serif" font-size="28.2" font-weight="bold" font-style="italic">V</text>
<text x="703" y="225.7" font-family="Liberation Sans, sans-serif" class="t26" font-size="26" textLength="151.5" lengthAdjust="spacingAndGlyphs">uncertainty</text>
</svg>
</body></html>
